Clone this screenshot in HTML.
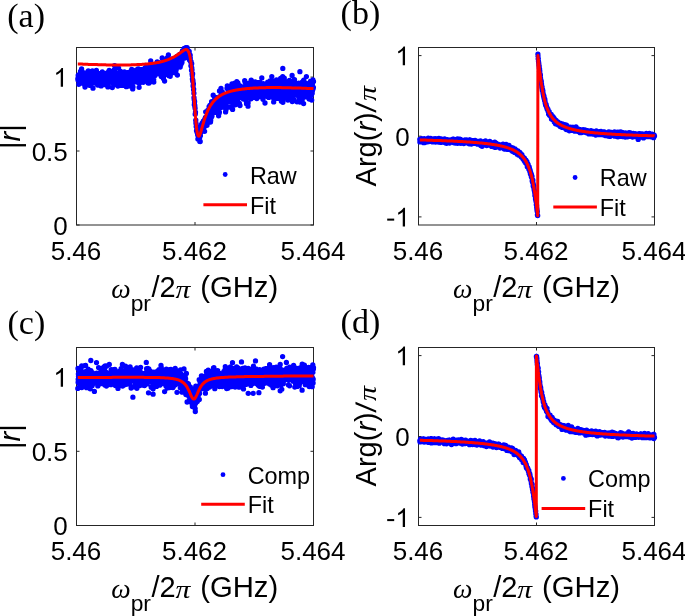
<!DOCTYPE html>
<html><head><meta charset="utf-8"><style>
html,body{margin:0;padding:0;background:#fff;}
svg{display:block;will-change:transform;font-family:"Liberation Sans",sans-serif;}
</style></head><body>
<svg width="685" height="616" viewBox="0 0 685 616">
<rect width="685" height="616" fill="#fff"/>
<rect x="76.5" y="47.5" width="237.0" height="177.5" fill="none" stroke="#262626" stroke-width="1"/>
<path d="M76.5 225.0v-3M76.5 47.5v3M195.0 225.0v-3M195.0 47.5v3M313.5 225.0v-3M313.5 47.5v3M76.5 225.0h3M313.5 225.0h-3M76.5 151.0h3M313.5 151.0h-3M76.5 77.1h3M313.5 77.1h-3" stroke="#262626" stroke-width="1" fill="none"/>
<path d="M77.8 78.9h0M78 80.1h0M78.1 77.8h0M78.2 75.4h0M78.4 77.1h0M78.5 75h0M78.7 79.2h0M78.8 84.3h0M79 77h0M79.1 76.5h0M79.3 80.9h0M79.4 80.4h0M79.6 79.4h0M79.7 75.2h0M79.9 78.8h0M80 81.8h0M80.2 73.6h0M80.3 77.1h0M80.5 71.3h0M80.6 73.8h0M80.7 71.6h0M80.9 78h0M81 73.9h0M81.2 80.1h0M81.3 79.6h0M81.5 78.2h0M81.6 68.9h0M81.8 76.8h0M81.9 78.8h0M82.1 79.5h0M82.2 72.8h0M82.4 77.1h0M82.5 75.1h0M82.7 75.8h0M82.8 83.3h0M83 75.8h0M83.1 78.9h0M83.3 82.6h0M83.4 76.7h0M83.5 78.6h0M83.7 79.5h0M83.8 79.3h0M84 74.1h0M84.1 79.3h0M84.3 84.5h0M84.4 72.8h0M84.6 82.5h0M84.7 79.5h0M84.9 76.5h0M85 87.1h0M85.2 82.1h0M85.3 74.2h0M85.5 79.3h0M85.6 81.4h0M85.8 78.3h0M85.9 81.8h0M86.1 78.8h0M86.2 81.7h0M86.3 84.9h0M86.5 76.3h0M86.6 79.9h0M86.8 77.2h0M86.9 79.6h0M87.1 74.3h0M87.2 76.7h0M87.4 78.3h0M87.5 82.7h0M87.7 83.7h0M87.8 73.7h0M88 75.9h0M88.1 81.7h0M88.3 71h0M88.4 77.2h0M88.6 78.7h0M88.7 84.2h0M88.9 81.9h0M89 77.8h0M89.1 77.6h0M89.3 78.1h0M89.4 85.3h0M89.6 77.4h0M89.7 77.9h0M89.9 80.5h0M90 78.6h0M90.2 78.3h0M90.3 74.6h0M90.5 79.1h0M90.6 77.3h0M90.8 83.8h0M90.9 81.8h0M91.1 79h0M91.2 81.8h0M91.4 77.7h0M91.5 83.4h0M91.7 79.1h0M91.8 81.5h0M91.9 73.9h0M92.1 80.5h0M92.2 72.3h0M92.4 70.9h0M92.5 77.9h0M92.7 75.5h0M92.8 79.8h0M93 88.2h0M93.1 75.8h0M93.3 76.6h0M93.4 80h0M93.6 81.1h0M93.7 78.4h0M93.9 78.3h0M94 82h0M94.2 81.2h0M94.3 74.9h0M94.4 78.8h0M94.6 79.3h0M94.7 74.9h0M94.9 80.2h0M95 75.7h0M95.2 83.1h0M95.3 79.9h0M95.5 79.5h0M95.6 76.7h0M95.8 78.7h0M95.9 71h0M96.1 74.6h0M96.2 80.6h0M96.4 70.5h0M96.5 82.6h0M96.7 72.1h0M96.8 82.2h0M97 75.7h0M97.1 82.3h0M97.2 79.7h0M97.4 72.9h0M97.5 84.2h0M97.7 85h0M97.8 78.9h0M98 78h0M98.1 78.5h0M98.3 75.2h0M98.4 83.6h0M98.6 77h0M98.7 79h0M98.9 75.9h0M99 76.6h0M99.2 74h0M99.3 84.3h0M99.5 78.5h0M99.6 83.1h0M99.8 79.2h0M99.9 76.3h0M100 77.8h0M100.2 76.9h0M100.3 79.2h0M100.5 77.6h0M100.6 77.9h0M100.8 73.5h0M100.9 75.9h0M101.1 85.9h0M101.2 76.4h0M101.4 74.9h0M101.5 80.5h0M101.7 84.9h0M101.8 73.2h0M102 78.3h0M102.1 76.6h0M102.3 72h0M102.4 82.2h0M102.6 79.1h0M102.7 79.5h0M102.8 76.1h0M103 81h0M103.1 77h0M103.3 78.6h0M103.4 74.6h0M103.6 74.2h0M103.7 84.6h0M103.9 77.1h0M104 80.4h0M104.2 79h0M104.3 77.4h0M104.5 77.1h0M104.6 81.7h0M104.8 77.9h0M104.9 78.6h0M105.1 79.3h0M105.2 84h0M105.4 82h0M105.5 80.7h0M105.6 76.9h0M105.8 73.5h0M105.9 83.1h0M106.1 83.1h0M106.2 78.6h0M106.4 81.4h0M106.5 82.4h0M106.7 82.6h0M106.8 82.9h0M107 77.3h0M107.1 85.4h0M107.3 74.1h0M107.4 82.7h0M107.6 81.2h0M107.7 82.7h0M107.9 86.9h0M108 85.2h0M108.1 74.5h0M108.3 72.2h0M108.4 82.5h0M108.6 75h0M108.7 79.1h0M108.9 82.6h0M109 72.4h0M109.2 70.5h0M109.3 80.2h0M109.5 79.3h0M109.6 78.1h0M109.8 79.3h0M109.9 75.6h0M110.1 72.9h0M110.2 78.5h0M110.4 75.1h0M110.5 72.4h0M110.7 81.2h0M110.8 78.9h0M110.9 80.8h0M111.1 75.1h0M111.2 76.4h0M111.4 75h0M111.5 75.5h0M111.7 79.9h0M111.8 75.9h0M112 80.6h0M112.1 80.5h0M112.3 87.5h0M112.4 73.4h0M112.6 82.8h0M112.7 78.7h0M112.9 79.1h0M113 73.1h0M113.2 77.2h0M113.3 82.2h0M113.5 78.8h0M113.6 79.4h0M113.7 77.9h0M113.9 83.9h0M114 79h0M114.2 70h0M114.3 76.2h0M114.5 71h0M114.6 65.7h0M114.8 76.9h0M114.9 84.6h0M115.1 79.3h0M115.2 74.2h0M115.4 75.2h0M115.5 83.7h0M115.7 79.7h0M115.8 79.3h0M116 78.8h0M116.1 79.2h0M116.3 82.4h0M116.4 81.3h0M116.5 80h0M116.7 74.8h0M116.8 81.2h0M117 76.2h0M117.1 83.6h0M117.3 73.8h0M117.4 78.5h0M117.6 79h0M117.7 73.6h0M117.9 86.1h0M118 85.1h0M118.2 77.1h0M118.3 82.2h0M118.5 80.6h0M118.6 68.2h0M118.8 80.1h0M118.9 78.8h0M119.1 79.4h0M119.2 74.6h0M119.3 77.9h0M119.5 78.3h0M119.6 83.9h0M119.8 80.4h0M119.9 79h0M120.1 85.3h0M120.2 76.7h0M120.4 77.3h0M120.5 71.4h0M120.7 85.4h0M120.8 82.9h0M121 82.7h0M121.1 81.6h0M121.3 79.3h0M121.4 79.7h0M121.6 77.8h0M121.7 78h0M121.8 79h0M122 85h0M122.1 81.1h0M122.3 78.5h0M122.4 76.3h0M122.6 76.1h0M122.7 85.4h0M122.9 80.8h0M123 79h0M123.2 77.2h0M123.3 74h0M123.5 78.4h0M123.6 82.2h0M123.8 77h0M123.9 77.6h0M124.1 77.6h0M124.2 79h0M124.4 71.9h0M124.5 77.5h0M124.6 75h0M124.8 82.2h0M124.9 75.3h0M125.1 80.8h0M125.2 84.8h0M125.4 77.1h0M125.5 75.9h0M125.7 79.2h0M125.8 78.4h0M126 74.2h0M126.1 80.3h0M126.3 86.7h0M126.4 77.2h0M126.6 77.4h0M126.7 73.9h0M126.9 79.6h0M127 73h0M127.2 73.6h0M127.3 83.5h0M127.4 74.4h0M127.6 82.7h0M127.7 84.5h0M127.9 79.2h0M128 80.4h0M128.2 86.2h0M128.3 77.3h0M128.5 75.6h0M128.6 72.4h0M128.8 78.2h0M128.9 84.2h0M129.1 82h0M129.2 74h0M129.4 74.4h0M129.5 75.8h0M129.7 79.1h0M129.8 77h0M130 78.8h0M130.1 79.1h0M130.2 76.6h0M130.4 77.7h0M130.5 78.7h0M130.7 77.4h0M130.8 79.9h0M131 85.6h0M131.1 80.2h0M131.3 77.9h0M131.4 70.7h0M131.6 79.3h0M131.7 69.5h0M131.9 71.8h0M132 81.2h0M132.2 80.6h0M132.3 77h0M132.5 70.4h0M132.6 76h0M132.8 74.7h0M132.9 80.2h0M133 86.9h0M133.2 78.4h0M133.3 74.2h0M133.5 72.5h0M133.6 77.2h0M133.8 76.7h0M133.9 72.6h0M134.1 77.8h0M134.2 72.5h0M134.4 82h0M134.5 81.7h0M134.7 81.8h0M134.8 75.3h0M135 79.4h0M135.1 76.7h0M135.3 75.6h0M135.4 75.7h0M135.5 71.7h0M135.7 71.1h0M135.8 80.4h0M136 76.3h0M136.1 78h0M136.3 81.2h0M136.4 69.8h0M136.6 73.7h0M136.7 77.7h0M136.9 78.6h0M137 75.4h0M137.2 81.2h0M137.3 77.8h0M137.5 71.8h0M137.6 72.9h0M137.8 80.2h0M137.9 78.8h0M138.1 68.8h0M138.2 82.4h0M138.3 79.2h0M138.5 82.4h0M138.6 75.1h0M138.8 75.4h0M138.9 71.9h0M139.1 87.3h0M139.2 75.9h0M139.4 83.2h0M139.5 73.8h0M139.7 77.2h0M139.8 69.5h0M140 74.9h0M140.1 80.6h0M140.3 71.2h0M140.4 80.9h0M140.6 77.8h0M140.7 71.9h0M140.9 74.2h0M141 74.3h0M141.1 76h0M141.3 73.9h0M141.4 72.7h0M141.6 74.9h0M141.7 71.7h0M141.9 70.6h0M142 75.8h0M142.2 79.8h0M142.3 69.4h0M142.5 76h0M142.6 73.1h0M142.8 71.7h0M142.9 79.5h0M143.1 73.6h0M143.2 82.3h0M143.4 72.4h0M143.5 77.4h0M143.7 74.7h0M143.8 72.4h0M143.9 78.2h0M144.1 74.9h0M144.2 78.2h0M144.4 75.3h0M144.5 70.7h0M144.7 75h0M144.8 75.7h0M145 79.6h0M145.1 71.4h0M145.3 75.2h0M145.4 67.7h0M145.6 78.1h0M145.7 70.4h0M145.9 67.2h0M146 74.9h0M146.2 80h0M146.3 68.3h0M146.5 70.2h0M146.6 71.7h0M146.7 69.9h0M146.9 76.6h0M147 71.3h0M147.2 71.6h0M147.3 77.5h0M147.5 71.4h0M147.6 76.7h0M147.8 70.3h0M147.9 69.2h0M148.1 66.3h0M148.2 83h0M148.4 73.1h0M148.5 75.6h0M148.7 74.4h0M148.8 75.2h0M149 74.7h0M149.1 83.1h0M149.2 69.6h0M149.4 67.2h0M149.5 69.6h0M149.7 68.1h0M149.8 77.6h0M150 77.9h0M150.1 69.7h0M150.3 67.7h0M150.4 72.4h0M150.6 80.4h0M150.7 60.9h0M150.9 76.4h0M151 68.9h0M151.2 78.7h0M151.3 68.8h0M151.5 72.4h0M151.6 66.7h0M151.8 69.1h0M151.9 80.1h0M152 77.4h0M152.2 71.7h0M152.3 69.4h0M152.5 64.6h0M152.6 71.6h0M152.8 73.2h0M152.9 72.9h0M153.1 72.9h0M153.2 68h0M153.4 72.9h0M153.5 73h0M153.7 79.3h0M153.8 82h0M154 72.4h0M154.1 69.3h0M154.3 72.6h0M154.4 70h0M154.6 69.3h0M154.7 72.5h0M154.8 67.8h0M155 75.6h0M155.1 72.2h0M155.3 73.8h0M155.4 71.7h0M155.6 69h0M155.7 67.9h0M155.9 71.3h0M156 69.8h0M156.2 73.5h0M156.3 72.3h0M156.5 65.7h0M156.6 72.5h0M156.8 65.6h0M156.9 69.1h0M157.1 70.6h0M157.2 61.9h0M157.4 72.4h0M157.5 72.7h0M157.6 71.1h0M157.8 69.8h0M157.9 69.9h0M158.1 66.9h0M158.2 70.4h0M158.4 68.9h0M158.5 72h0M158.7 65.6h0M158.8 72.6h0M159 72.1h0M159.1 70.7h0M159.3 69.1h0M159.4 74h0M159.6 62.9h0M159.7 73.5h0M159.9 72.3h0M160 72.5h0M160.1 72.9h0M160.3 67.7h0M160.4 69.6h0M160.6 74.1h0M160.7 73h0M160.9 71.8h0M161 63.2h0M161.2 73.4h0M161.3 76.4h0M161.5 75.6h0M161.6 71.7h0M161.8 62.8h0M161.9 75.1h0M162.1 69.7h0M162.2 57.9h0M162.4 72.2h0M162.5 62.9h0M162.7 63.9h0M162.8 67.1h0M162.9 76.4h0M163.1 68.3h0M163.2 71.3h0M163.4 78.5h0M163.5 77.7h0M163.7 69.4h0M163.8 68.6h0M164 63.6h0M164.1 66.3h0M164.3 71.7h0M164.4 71.5h0M164.6 70.1h0M164.7 74.3h0M164.9 65.7h0M165 69.1h0M165.2 72.9h0M165.3 72.1h0M165.5 74.4h0M165.6 71.1h0M165.7 67.6h0M165.9 70.8h0M166 64.2h0M166.2 61.1h0M166.3 71.6h0M166.5 68.5h0M166.6 70.2h0M166.8 60.6h0M166.9 66.9h0M167.1 65.7h0M167.2 64.4h0M167.4 57.7h0M167.5 66.8h0M167.7 72.6h0M167.8 70h0M168 65.3h0M168.1 68h0M168.3 71.6h0M168.4 54.9h0M168.5 67.3h0M168.7 70.4h0M168.8 71h0M169 75.7h0M169.1 73h0M169.3 69h0M169.4 68.9h0M169.6 71.1h0M169.7 64.8h0M169.9 67.1h0M170 71.4h0M170.2 76.3h0M170.3 66.3h0M170.5 66.8h0M170.6 67.8h0M170.8 73.1h0M170.9 66.6h0M171.1 73.5h0M171.2 62.1h0M171.3 65.7h0M171.5 65.5h0M171.6 70h0M171.8 71.1h0M171.9 59.3h0M172.1 61.9h0M172.2 67.6h0M172.4 63h0M172.5 59h0M172.7 70.5h0M172.8 67.9h0M173 67.8h0M173.1 63.5h0M173.3 70h0M173.4 64.3h0M173.6 70h0M173.7 61.3h0M173.8 61.5h0M174 65.9h0M174.1 62h0M174.3 67.7h0M174.4 65.8h0M174.6 60.8h0M174.7 64.9h0M174.9 63h0M175 68.1h0M175.2 61.7h0M175.3 62.4h0M175.5 68.9h0M175.6 72.9h0M175.8 71.8h0M175.9 64h0M176.1 64.5h0M176.2 69.4h0M176.4 62.9h0M176.5 59.5h0M176.6 63.5h0M176.8 64.6h0M176.9 59.6h0M177.1 56.5h0M177.2 57.1h0M177.4 64.7h0M177.5 59.3h0M177.7 61.4h0M177.8 62.5h0M178 63.8h0M178.1 60.2h0M178.3 63h0M178.4 58h0M178.6 59.7h0M178.7 57.3h0M178.9 64.4h0M179 60.3h0M179.2 57.8h0M179.3 58.9h0M179.4 59.2h0M179.6 62.1h0M179.7 54.4h0M179.9 56.1h0M180 58h0M180.2 67.1h0M180.3 61.9h0M180.5 58.4h0M180.6 60.8h0M180.8 64.7h0M180.9 57.5h0M181.1 56.9h0M181.2 61.5h0M181.4 59.2h0M181.5 59.5h0M181.7 55.9h0M181.8 62.8h0M182 62h0M182.1 58.5h0M182.2 58.6h0M182.4 50.9h0M182.5 58.1h0M182.7 55.7h0M182.8 57.2h0M183 57.7h0M183.1 54.8h0M183.3 51h0M183.4 56.2h0M183.6 53.1h0M183.7 53.9h0M183.9 53h0M184 53.5h0M184.2 48.3h0M184.3 56.9h0M184.5 54.3h0M184.6 56.2h0M184.8 58.1h0M184.9 53.2h0M185 48.7h0M185.2 50.7h0M185.3 49.8h0M185.5 51.3h0M185.6 52.5h0M185.8 47.7h0M185.9 52.8h0M186.1 48.6h0M186.2 52.4h0M186.4 51.4h0M186.5 50.9h0M186.7 51.3h0M186.8 50.2h0M187 50h0M187.1 47.6h0M187.3 51.3h0M187.4 55.5h0M187.5 55.9h0M187.7 54.5h0M187.8 53.3h0M188 50.3h0M188.1 55.2h0M188.3 52h0M188.4 52.2h0M188.6 52h0M188.7 53.1h0M188.9 52.2h0M189 53.3h0M189.2 51.4h0M189.3 53.4h0M189.5 59.9h0M189.6 55.1h0M189.8 55.2h0M189.9 57.5h0M190.1 58.6h0M190.2 55.2h0M190.3 58h0M190.5 61.5h0M190.6 60.9h0M190.8 61.5h0M190.9 65.8h0M191.1 61.7h0M191.2 64.6h0M191.4 64.4h0M191.5 70.3h0M191.7 63.6h0M191.8 68h0M192 69.8h0M192.1 74h0M192.3 75.5h0M192.4 78.9h0M192.6 73.7h0M192.7 80.9h0M192.9 80.2h0M193 81.2h0M193.1 85.9h0M193.3 84.4h0M193.4 83.7h0M193.6 89.7h0M193.7 89.1h0M193.9 93.2h0M194 97.7h0M194.2 99.6h0M194.3 104.7h0M194.5 102.6h0M194.6 101.5h0M194.8 105.4h0M194.9 107h0M195.1 108.3h0M195.2 114.2h0M195.4 113.5h0M195.5 112.1h0M195.7 120.3h0M195.8 120.1h0M195.9 122.9h0M196.1 123.8h0M196.2 126.6h0M196.4 126.5h0M196.5 130.7h0M196.7 129.9h0M196.8 131h0M197 132h0M197.1 128.4h0M197.3 132.4h0M197.4 132.8h0M197.6 134.6h0M197.7 131.3h0M197.9 139.1h0M198 135.8h0M198.2 132.8h0M198.3 131.8h0M198.5 135.5h0M198.6 136h0M198.7 134.5h0M198.9 136.4h0M199 134.5h0M199.2 137.3h0M199.3 134h0M199.5 135.4h0M199.6 137.7h0M199.8 141.4h0M199.9 132.1h0M200.1 133.1h0M200.2 131.8h0M200.4 135.7h0M200.5 130.2h0M200.7 131.6h0M200.8 132.4h0M201 129.4h0M201.1 129h0M201.2 129.9h0M201.4 124.7h0M201.5 126.1h0M201.7 128.7h0M201.8 130h0M202 128.5h0M202.1 123.1h0M202.3 126.7h0M202.4 130.4h0M202.6 129.2h0M202.7 126.6h0M202.9 123.5h0M203 128.2h0M203.2 123.6h0M203.3 121.1h0M203.5 121.9h0M203.6 129.6h0M203.8 124.8h0M203.9 127.8h0M204 121.4h0M204.2 126.3h0M204.3 120.1h0M204.5 121.4h0M204.6 131.3h0M204.8 124.3h0M204.9 118.9h0M205.1 120.2h0M205.2 121.5h0M205.4 124.7h0M205.5 117.4h0M205.7 111.8h0M205.8 117.5h0M206 118.4h0M206.1 118.5h0M206.3 123.3h0M206.4 118.7h0M206.6 120.5h0M206.7 111.9h0M206.8 120.2h0M207 125.3h0M207.1 119.2h0M207.3 116.6h0M207.4 115.8h0M207.6 123h0M207.7 110.3h0M207.9 113.8h0M208 116.2h0M208.2 117.2h0M208.3 111.4h0M208.5 114.7h0M208.6 111.6h0M208.8 113.3h0M208.9 111.8h0M209.1 106.7h0M209.2 111.9h0M209.4 116.1h0M209.5 106.8h0M209.6 110.1h0M209.8 114.5h0M209.9 105.5h0M210.1 111.6h0M210.2 105.1h0M210.4 116.1h0M210.5 122.1h0M210.7 120.5h0M210.8 108.6h0M211 113.4h0M211.1 110h0M211.3 109.7h0M211.4 117.3h0M211.6 101.7h0M211.7 114.4h0M211.9 108.2h0M212 116.1h0M212.2 109.2h0M212.3 104.3h0M212.4 109.4h0M212.6 111.7h0M212.7 107.7h0M212.9 110h0M213 104.3h0M213.2 95.2h0M213.3 111.9h0M213.5 110.6h0M213.6 107.4h0M213.8 106.8h0M213.9 112h0M214.1 103.6h0M214.2 102h0M214.4 104.8h0M214.5 112.4h0M214.7 97.8h0M214.8 112.1h0M214.9 101.7h0M215.1 99h0M215.2 112.2h0M215.4 104.4h0M215.5 97.5h0M215.7 102.7h0M215.8 109.9h0M216 111.2h0M216.1 102h0M216.3 106.6h0M216.4 108.2h0M216.6 100.4h0M216.7 106h0M216.9 103.7h0M217 100.7h0M217.2 100.8h0M217.3 103.9h0M217.5 103.6h0M217.6 100.1h0M217.7 100.8h0M217.9 109.6h0M218 104.3h0M218.2 108.1h0M218.3 109.8h0M218.5 106.2h0M218.6 115.8h0M218.8 97.9h0M218.9 107.2h0M219.1 100.7h0M219.2 113.1h0M219.4 112.2h0M219.5 91h0M219.7 96.6h0M219.8 106h0M220 106.6h0M220.1 106.3h0M220.3 101.5h0M220.4 104.5h0M220.5 105.6h0M220.7 101.3h0M220.8 107.6h0M221 88.4h0M221.1 105.2h0M221.3 95.4h0M221.4 107h0M221.6 100h0M221.7 96.1h0M221.9 103.4h0M222 95.8h0M222.2 95.7h0M222.3 91.8h0M222.5 100.8h0M222.6 103.9h0M222.8 107h0M222.9 100h0M223.1 107h0M223.2 100.9h0M223.3 100.1h0M223.5 104.1h0M223.6 106.9h0M223.8 98.5h0M223.9 99.1h0M224.1 99.5h0M224.2 100.9h0M224.4 95h0M224.5 106.5h0M224.7 97.9h0M224.8 103h0M225 95.3h0M225.1 102.3h0M225.3 102.4h0M225.4 97.4h0M225.6 111.9h0M225.7 102h0M225.9 110.2h0M226 105.3h0M226.1 95.6h0M226.3 97.1h0M226.4 101.9h0M226.6 99.6h0M226.7 99.4h0M226.9 97.4h0M227 88.3h0M227.2 97.5h0M227.3 85.8h0M227.5 100.9h0M227.6 94.4h0M227.8 94.4h0M227.9 97.2h0M228.1 99.9h0M228.2 90h0M228.4 88.1h0M228.5 92h0M228.6 86.3h0M228.8 92.4h0M228.9 107h0M229.1 91.7h0M229.2 101.4h0M229.4 89.8h0M229.5 99.3h0M229.7 95.7h0M229.8 97.1h0M230 100.6h0M230.1 107.2h0M230.3 98.3h0M230.4 97.8h0M230.6 91.5h0M230.7 100.2h0M230.9 95.5h0M231 101.5h0M231.2 96.5h0M231.3 106.4h0M231.4 85.5h0M231.6 94.9h0M231.7 101.3h0M231.9 94.4h0M232 91.9h0M232.2 94.8h0M232.3 88.6h0M232.5 96.7h0M232.6 109.4h0M232.8 102.2h0M232.9 89.8h0M233.1 91h0M233.2 93.5h0M233.4 101.1h0M233.5 91.2h0M233.7 91.8h0M233.8 100.3h0M234 100.1h0M234.1 93.3h0M234.2 89.3h0M234.4 86.9h0M234.5 91.4h0M234.7 83.2h0M234.8 99h0M235 91.6h0M235.1 97.5h0M235.3 104.8h0M235.4 101h0M235.6 88.6h0M235.7 99.2h0M235.9 100.7h0M236 90.6h0M236.2 89.5h0M236.3 93.8h0M236.5 86h0M236.6 102h0M236.8 81.7h0M236.9 88.4h0M237 92.7h0M237.2 92.9h0M237.3 94.9h0M237.5 95.3h0M237.6 92.8h0M237.8 99.7h0M237.9 82.8h0M238.1 93.7h0M238.2 90h0M238.4 94.3h0M238.5 94.7h0M238.7 88.8h0M238.8 90.2h0M239 97.4h0M239.1 95.1h0M239.3 89.8h0M239.4 103.5h0M239.6 104.8h0M239.7 85.7h0M239.8 94.5h0M240 105.5h0M240.1 96.9h0M240.3 94h0M240.4 91.8h0M240.6 90.1h0M240.7 91.7h0M240.9 90h0M241 96.5h0M241.2 90.7h0M241.3 90.5h0M241.5 86.7h0M241.6 92.4h0M241.8 88.1h0M241.9 91.7h0M242.1 97.7h0M242.2 94.3h0M242.3 95h0M242.5 94.2h0M242.6 92.7h0M242.8 91.7h0M242.9 90.8h0M243.1 96.1h0M243.2 86.9h0M243.4 98.9h0M243.5 92.4h0M243.7 88.5h0M243.8 89.7h0M244 88.8h0M244.1 92.9h0M244.3 88.5h0M244.4 97.7h0M244.6 88.2h0M244.7 80.7h0M244.9 88.3h0M245 82h0M245.1 91.7h0M245.3 97.1h0M245.4 95.1h0M245.6 85.2h0M245.7 88h0M245.9 100.6h0M246 93.3h0M246.2 91.7h0M246.3 96.9h0M246.5 103.8h0M246.6 98h0M246.8 92.3h0M246.9 93.3h0M247.1 94.6h0M247.2 88.5h0M247.4 86.3h0M247.5 91.8h0M247.7 86.8h0M247.8 91.1h0M247.9 91.9h0M248.1 102.9h0M248.2 87.2h0M248.4 90.8h0M248.5 90.5h0M248.7 93.5h0M248.8 96.4h0M249 88.8h0M249.1 87.2h0M249.3 83.2h0M249.4 86.6h0M249.6 93.8h0M249.7 91.4h0M249.9 86.1h0M250 89.3h0M250.2 91.2h0M250.3 93.5h0M250.5 88.1h0M250.6 89.8h0M250.7 82.1h0M250.9 85.3h0M251 98.8h0M251.2 80.2h0M251.3 89.2h0M251.5 91.9h0M251.6 89h0M251.8 86.9h0M251.9 90.5h0M252.1 90.8h0M252.2 90.4h0M252.4 81.6h0M252.5 90h0M252.7 86.5h0M252.8 88h0M253 91.8h0M253.1 93.8h0M253.3 95h0M253.4 88.2h0M253.5 95.1h0M253.7 96.3h0M253.8 96.1h0M254 97.3h0M254.1 89.8h0M254.3 89.6h0M254.4 94.5h0M254.6 83.8h0M254.7 91.4h0M254.9 87.8h0M255 88.6h0M255.2 81.9h0M255.3 86h0M255.5 90.2h0M255.6 94.6h0M255.8 95.1h0M255.9 89.9h0M256 89.3h0M256.2 86.2h0M256.3 92.2h0M256.5 89h0M256.6 93.1h0M256.8 98.6h0M256.9 90h0M257.1 82.9h0M257.2 86h0M257.4 83.1h0M257.5 84.3h0M257.7 96.4h0M257.8 91.1h0M258 82.7h0M258.1 93.2h0M258.3 96.1h0M258.4 88.2h0M258.6 86.7h0M258.7 88.3h0M258.8 91.3h0M259 93h0M259.1 95.6h0M259.3 95.7h0M259.4 95.6h0M259.6 96.4h0M259.7 93h0M259.9 82.5h0M260 89.2h0M260.2 91.3h0M260.3 87.9h0M260.5 94.1h0M260.6 88h0M260.8 85.3h0M260.9 96.7h0M261.1 92.9h0M261.2 90.8h0M261.4 94.1h0M261.5 94.8h0M261.6 91.3h0M261.8 77.9h0M261.9 86.4h0M262.1 87.4h0M262.2 84.9h0M262.4 90.6h0M262.5 95.3h0M262.7 87.3h0M262.8 84.1h0M263 99.3h0M263.1 87.4h0M263.3 83.6h0M263.4 90.7h0M263.6 91.6h0M263.7 86.1h0M263.9 93.3h0M264 87.1h0M264.2 85h0M264.3 90.3h0M264.4 93.2h0M264.6 86.4h0M264.7 91h0M264.9 89h0M265 103h0M265.2 86h0M265.3 96h0M265.5 89.1h0M265.6 88.8h0M265.8 92.8h0M265.9 93.6h0M266.1 95.4h0M266.2 90.9h0M266.4 86.4h0M266.5 86.7h0M266.7 91.8h0M266.8 92.1h0M266.9 96h0M267.1 91.3h0M267.2 94.4h0M267.4 96.5h0M267.5 90h0M267.7 82.1h0M267.8 83.6h0M268 82.3h0M268.1 96.9h0M268.3 85.1h0M268.4 95.1h0M268.6 92h0M268.7 97.4h0M268.9 94h0M269 88.7h0M269.2 88.2h0M269.3 89.6h0M269.5 90h0M269.6 86.6h0M269.7 89h0M269.9 96.8h0M270 80.9h0M270.2 90.3h0M270.3 84.7h0M270.5 90h0M270.6 93.1h0M270.8 88.8h0M270.9 92.8h0M271.1 81.4h0M271.2 94.3h0M271.4 86.1h0M271.5 92h0M271.7 89.9h0M271.8 76.6h0M272 85.4h0M272.1 90h0M272.3 96.4h0M272.4 90.4h0M272.5 90.2h0M272.7 82.2h0M272.8 95.8h0M273 97.6h0M273.1 89.1h0M273.3 87.9h0M273.4 81.2h0M273.6 93.2h0M273.7 101.9h0M273.9 92.3h0M274 95h0M274.2 91.5h0M274.3 84.2h0M274.5 95.3h0M274.6 82.9h0M274.8 87.8h0M274.9 90.2h0M275.1 93.1h0M275.2 90.8h0M275.3 90.7h0M275.5 85.2h0M275.6 82.6h0M275.8 89.1h0M275.9 85.4h0M276.1 82.5h0M276.2 82.7h0M276.4 86.4h0M276.5 79.9h0M276.7 82.3h0M276.8 80.9h0M277 89.6h0M277.1 90.7h0M277.3 98.4h0M277.4 81.6h0M277.6 85.5h0M277.7 93.1h0M277.9 87.7h0M278 87.1h0M278.1 96.9h0M278.3 87.1h0M278.4 83.1h0M278.6 82.4h0M278.7 90.3h0M278.9 90.1h0M279 82.1h0M279.2 83.9h0M279.3 91.2h0M279.5 91.4h0M279.6 85.6h0M279.8 91.6h0M279.9 91.4h0M280.1 80.1h0M280.2 87.1h0M280.4 90.6h0M280.5 85.9h0M280.6 78.4h0M280.8 87.3h0M280.9 92.3h0M281.1 96.2h0M281.2 78.1h0M281.4 101.2h0M281.5 83.2h0M281.7 93.2h0M281.8 94.6h0M282 93.4h0M282.1 89.4h0M282.3 83.1h0M282.4 91.7h0M282.6 85.2h0M282.7 76.6h0M282.9 102.3h0M283 92.1h0M283.2 97.4h0M283.3 84.3h0M283.4 95.7h0M283.6 96.3h0M283.7 96.1h0M283.9 88.6h0M284 82.9h0M284.2 87.8h0M284.3 78.1h0M284.5 80.5h0M284.6 89.1h0M284.8 83.9h0M284.9 87.9h0M285.1 88.2h0M285.2 98h0M285.4 94.9h0M285.5 88.5h0M285.7 94.5h0M285.8 85h0M286 87.1h0M286.1 93.1h0M286.2 82.8h0M286.4 87.4h0M286.5 82.4h0M286.7 89.3h0M286.8 96.6h0M287 85.1h0M287.1 89.8h0M287.3 84.4h0M287.4 83.2h0M287.6 82.8h0M287.7 95.7h0M287.9 100.1h0M288 91.1h0M288.2 85.3h0M288.3 92.2h0M288.5 87.2h0M288.6 92.6h0M288.8 90.2h0M288.9 90.1h0M289 91.7h0M289.2 86h0M289.3 86.9h0M289.5 80.5h0M289.6 86.7h0M289.8 82h0M289.9 88.1h0M290.1 84.2h0M290.2 89.3h0M290.4 91h0M290.5 82h0M290.7 84.9h0M290.8 84.3h0M291 92.4h0M291.1 97h0M291.3 92.9h0M291.4 87.2h0M291.6 95.9h0M291.7 81.6h0M291.8 96.1h0M292 85.7h0M292.1 75.5h0M292.3 101.6h0M292.4 96.5h0M292.6 83.9h0M292.7 89.7h0M292.9 87.9h0M293 89.4h0M293.2 81.8h0M293.3 85.6h0M293.5 91.2h0M293.6 90h0M293.8 94.7h0M293.9 89.3h0M294.1 100.2h0M294.2 85.5h0M294.3 90.2h0M294.5 79.7h0M294.6 82.9h0M294.8 95.3h0M294.9 84.4h0M295.1 91.5h0M295.2 88.7h0M295.4 84h0M295.5 87.3h0M295.7 86.5h0M295.8 86.6h0M296 92.6h0M296.1 92.1h0M296.3 86.2h0M296.4 84.6h0M296.6 90.4h0M296.7 88.5h0M296.9 93.9h0M297 101.8h0M297.1 93.1h0M297.3 88.9h0M297.4 88.2h0M297.6 84.9h0M297.7 84.7h0M297.9 84.2h0M298 87.1h0M298.2 87h0M298.3 92.6h0M298.5 87.1h0M298.6 88.1h0M298.8 83.2h0M298.9 97h0M299.1 91.5h0M299.2 97.7h0M299.4 92.9h0M299.5 96.2h0M299.7 87.9h0M299.8 92.5h0M299.9 102.1h0M300.1 83.2h0M300.2 94.8h0M300.4 97.3h0M300.5 91.2h0M300.7 92.8h0M300.8 95.3h0M301 85.9h0M301.1 91.2h0M301.3 84.9h0M301.4 85.8h0M301.6 86.1h0M301.7 88.5h0M301.9 89.9h0M302 91.4h0M302.2 82.2h0M302.3 98.9h0M302.5 94.9h0M302.6 92.8h0M302.7 87.4h0M302.9 88.8h0M303 91.9h0M303.2 91.2h0M303.3 81h0M303.5 92.9h0M303.6 103.6h0M303.8 80.2h0M303.9 94.1h0M304.1 91.1h0M304.2 88.7h0M304.4 96h0M304.5 83.4h0M304.7 90.1h0M304.8 96.5h0M305 88.3h0M305.1 87.2h0M305.3 89.9h0M305.4 87.1h0M305.5 96.9h0M305.7 84.8h0M305.8 93.6h0M306 83.2h0M306.1 92.6h0M306.3 88.8h0M306.4 76.6h0M306.6 89.3h0M306.7 84.1h0M306.9 87.2h0M307 97h0M307.2 83.9h0M307.3 84.1h0M307.5 96.5h0M307.6 90h0M307.8 97h0M307.9 91h0M308 85.1h0M308.2 89.1h0M308.3 95.5h0M308.5 94.1h0M308.6 89.4h0M308.8 89.7h0M308.9 88.9h0M309.1 86.6h0M309.2 99h0M309.4 89.5h0M309.5 83.9h0M309.7 87.1h0M309.8 93.1h0M310 92.7h0M310.1 88.8h0M310.3 86.2h0M310.4 89.6h0M310.6 81.2h0M310.7 83.1h0M310.8 93.5h0M311 87.2h0M311.1 91.4h0M311.3 95.6h0M311.4 92.8h0M311.6 89.7h0M311.7 100.1h0M311.9 92.9h0M312 87.8h0M312.2 93.2h0M312.3 91.6h0M312.5 85.4h0M312.6 90h0M312.8 88.8h0M312.9 79.9h0M313.1 88.8h0M313.2 88.2h0M313.4 87.5h0M313.5 81.5h0M282.8 68.4h0M299.9 71.7h0M248 106.2h0M302.1 100.5h0M232 84h0M132.7 88.9h0M164.6 81.1h0M177.4 75.1h0M200.2 141.5h0" stroke="#00f" stroke-width="5.3" stroke-linecap="round" fill="none"/>
<path d="M77.8 64L78 64 78.1 64 78.2 64 78.4 64 78.5 64 78.7 64 78.8 64 79 64 79.1 64 79.3 64 79.4 64 79.6 64 79.7 64 79.9 64 80 64.1 80.2 64.1 80.3 64.1 80.5 64.1 80.6 64.1 80.7 64.1 80.9 64.1 81 64.1 81.2 64.1 81.3 64.1 81.5 64.1 81.6 64.1 81.8 64.1 81.9 64.1 82.1 64.1 82.2 64.1 82.4 64.1 82.5 64.1 82.7 64.2 82.8 64.2 83 64.2 83.1 64.2 83.3 64.2 83.4 64.2 83.5 64.2 83.7 64.2 83.8 64.2 84 64.2 84.1 64.2 84.3 64.2 84.4 64.2 84.6 64.2 84.7 64.2 84.9 64.2 85 64.2 85.2 64.2 85.3 64.3 85.5 64.3 85.6 64.3 85.8 64.3 85.9 64.3 86.1 64.3 86.2 64.3 86.3 64.3 86.5 64.3 86.6 64.3 86.8 64.3 86.9 64.3 87.1 64.3 87.2 64.3 87.4 64.3 87.5 64.3 87.7 64.3 87.8 64.3 88 64.3 88.1 64.4 88.3 64.4 88.4 64.4 88.6 64.4 88.7 64.4 88.9 64.4 89 64.4 89.1 64.4 89.3 64.4 89.4 64.4 89.6 64.4 89.7 64.4 89.9 64.4 90 64.4 90.2 64.4 90.3 64.4 90.5 64.4 90.6 64.4 90.8 64.4 90.9 64.4 91.1 64.5 91.2 64.5 91.4 64.5 91.5 64.5 91.7 64.5 91.8 64.5 91.9 64.5 92.1 64.5 92.2 64.5 92.4 64.5 92.5 64.5 92.7 64.5 92.8 64.5 93 64.5 93.1 64.5 93.3 64.5 93.4 64.5 93.6 64.5 93.7 64.5 93.9 64.5 94 64.5 94.2 64.6 94.3 64.6 94.4 64.6 94.6 64.6 94.7 64.6 94.9 64.6 95 64.6 95.2 64.6 95.3 64.6 95.5 64.6 95.6 64.6 95.8 64.6 95.9 64.6 96.1 64.6 96.2 64.6 96.4 64.6 96.5 64.6 96.7 64.6 96.8 64.6 97 64.6 97.1 64.6 97.2 64.6 97.4 64.6 97.5 64.6 97.7 64.7 97.8 64.7 98 64.7 98.1 64.7 98.3 64.7 98.4 64.7 98.6 64.7 98.7 64.7 98.9 64.7 99 64.7 99.2 64.7 99.3 64.7 99.5 64.7 99.6 64.7 99.8 64.7 99.9 64.7 100 64.7 100.2 64.7 100.3 64.7 100.5 64.7 100.6 64.7 100.8 64.7 100.9 64.7 101.1 64.7 101.2 64.7 101.4 64.7 101.5 64.8 101.7 64.8 101.8 64.8 102 64.8 102.1 64.8 102.3 64.8 102.4 64.8 102.6 64.8 102.7 64.8 102.8 64.8 103 64.8 103.1 64.8 103.3 64.8 103.4 64.8 103.6 64.8 103.7 64.8 103.9 64.8 104 64.8 104.2 64.8 104.3 64.8 104.5 64.8 104.6 64.8 104.8 64.8 104.9 64.8 105.1 64.8 105.2 64.8 105.4 64.8 105.5 64.8 105.6 64.8 105.8 64.8 105.9 64.8 106.1 64.9 106.2 64.9 106.4 64.9 106.5 64.9 106.7 64.9 106.8 64.9 107 64.9 107.1 64.9 107.3 64.9 107.4 64.9 107.6 64.9 107.7 64.9 107.9 64.9 108 64.9 108.1 64.9 108.3 64.9 108.4 64.9 108.6 64.9 108.7 64.9 108.9 64.9 109 64.9 109.2 64.9 109.3 64.9 109.5 64.9 109.6 64.9 109.8 64.9 109.9 64.9 110.1 64.9 110.2 64.9 110.4 64.9 110.5 64.9 110.7 64.9 110.8 64.9 110.9 64.9 111.1 64.9 111.2 64.9 111.4 64.9 111.5 64.9 111.7 64.9 111.8 64.9 112 64.9 112.1 64.9 112.3 64.9 112.4 64.9 112.6 64.9 112.7 65 112.9 65 113 65 113.2 65 113.3 65 113.5 65 113.6 65 113.7 65 113.9 65 114 65 114.2 65 114.3 65 114.5 65 114.6 65 114.8 65 114.9 65 115.1 65 115.2 65 115.4 65 115.5 65 115.7 65 115.8 65 116 65 116.1 65 116.3 65 116.4 65 116.5 65 116.7 65 116.8 65 117 65 117.1 65 117.3 65 117.4 65 117.6 65 117.7 65 117.9 65 118 65 118.2 65 118.3 65 118.5 65 118.6 65 118.8 65 118.9 65 119.1 65 119.2 65 119.3 65 119.5 65 119.6 65 119.8 65 119.9 65 120.1 65 120.2 65 120.4 65 120.5 65 120.7 65 120.8 65 121 65 121.1 65 121.3 65 121.4 65 121.6 65 121.7 65 121.8 65 122 65 122.1 65 122.3 65 122.4 65 122.6 65 122.7 65 122.9 65 123 65 123.2 65 123.3 65 123.5 65 123.6 65 123.8 65 123.9 65 124.1 65 124.2 65 124.4 65 124.5 65 124.6 65 124.8 65 124.9 65 125.1 65 125.2 65 125.4 65 125.5 65 125.7 65 125.8 65 126 64.9 126.1 64.9 126.3 64.9 126.4 64.9 126.6 64.9 126.7 64.9 126.9 64.9 127 64.9 127.2 64.9 127.3 64.9 127.4 64.9 127.6 64.9 127.7 64.9 127.9 64.9 128 64.9 128.2 64.9 128.3 64.9 128.5 64.9 128.6 64.9 128.8 64.9 128.9 64.9 129.1 64.9 129.2 64.9 129.4 64.9 129.5 64.9 129.7 64.9 129.8 64.9 130 64.9 130.1 64.9 130.2 64.9 130.4 64.9 130.5 64.9 130.7 64.9 130.8 64.9 131 64.9 131.1 64.8 131.3 64.8 131.4 64.8 131.6 64.8 131.7 64.8 131.9 64.8 132 64.8 132.2 64.8 132.3 64.8 132.5 64.8 132.6 64.8 132.8 64.8 132.9 64.8 133 64.8 133.2 64.8 133.3 64.8 133.5 64.8 133.6 64.8 133.8 64.8 133.9 64.8 134.1 64.8 134.2 64.8 134.4 64.7 134.5 64.7 134.7 64.7 134.8 64.7 135 64.7 135.1 64.7 135.3 64.7 135.4 64.7 135.5 64.7 135.7 64.7 135.8 64.7 136 64.7 136.1 64.7 136.3 64.7 136.4 64.7 136.6 64.7 136.7 64.7 136.9 64.6 137 64.6 137.2 64.6 137.3 64.6 137.5 64.6 137.6 64.6 137.8 64.6 137.9 64.6 138.1 64.6 138.2 64.6 138.3 64.6 138.5 64.6 138.6 64.6 138.8 64.6 138.9 64.5 139.1 64.5 139.2 64.5 139.4 64.5 139.5 64.5 139.7 64.5 139.8 64.5 140 64.5 140.1 64.5 140.3 64.5 140.4 64.5 140.6 64.5 140.7 64.4 140.9 64.4 141 64.4 141.1 64.4 141.3 64.4 141.4 64.4 141.6 64.4 141.7 64.4 141.9 64.4 142 64.4 142.2 64.3 142.3 64.3 142.5 64.3 142.6 64.3 142.8 64.3 142.9 64.3 143.1 64.3 143.2 64.3 143.4 64.3 143.5 64.3 143.7 64.2 143.8 64.2 143.9 64.2 144.1 64.2 144.2 64.2 144.4 64.2 144.5 64.2 144.7 64.2 144.8 64.2 145 64.1 145.1 64.1 145.3 64.1 145.4 64.1 145.6 64.1 145.7 64.1 145.9 64.1 146 64.1 146.2 64 146.3 64 146.5 64 146.6 64 146.7 64 146.9 64 147 64 147.2 63.9 147.3 63.9 147.5 63.9 147.6 63.9 147.8 63.9 147.9 63.9 148.1 63.9 148.2 63.8 148.4 63.8 148.5 63.8 148.7 63.8 148.8 63.8 149 63.8 149.1 63.8 149.2 63.7 149.4 63.7 149.5 63.7 149.7 63.7 149.8 63.7 150 63.7 150.1 63.6 150.3 63.6 150.4 63.6 150.6 63.6 150.7 63.6 150.9 63.6 151 63.5 151.2 63.5 151.3 63.5 151.5 63.5 151.6 63.5 151.8 63.4 151.9 63.4 152 63.4 152.2 63.4 152.3 63.4 152.5 63.3 152.6 63.3 152.8 63.3 152.9 63.3 153.1 63.3 153.2 63.2 153.4 63.2 153.5 63.2 153.7 63.2 153.8 63.2 154 63.1 154.1 63.1 154.3 63.1 154.4 63.1 154.6 63.1 154.7 63 154.8 63 155 63 155.1 63 155.3 62.9 155.4 62.9 155.6 62.9 155.7 62.9 155.9 62.8 156 62.8 156.2 62.8 156.3 62.8 156.5 62.7 156.6 62.7 156.8 62.7 156.9 62.7 157.1 62.6 157.2 62.6 157.4 62.6 157.5 62.6 157.6 62.5 157.8 62.5 157.9 62.5 158.1 62.4 158.2 62.4 158.4 62.4 158.5 62.4 158.7 62.3 158.8 62.3 159 62.3 159.1 62.2 159.3 62.2 159.4 62.2 159.6 62.2 159.7 62.1 159.9 62.1 160 62.1 160.1 62 160.3 62 160.4 62 160.6 61.9 160.7 61.9 160.9 61.8 161 61.8 161.2 61.8 161.3 61.7 161.5 61.7 161.6 61.7 161.8 61.6 161.9 61.6 162.1 61.5 162.2 61.5 162.4 61.5 162.5 61.4 162.7 61.4 162.8 61.3 162.9 61.3 163.1 61.3 163.2 61.2 163.4 61.2 163.5 61.1 163.7 61.1 163.8 61.1 164 61 164.1 61 164.3 60.9 164.4 60.9 164.6 60.8 164.7 60.8 164.9 60.7 165 60.7 165.2 60.6 165.3 60.6 165.5 60.5 165.6 60.5 165.7 60.5 165.9 60.4 166 60.4 166.2 60.3 166.3 60.3 166.5 60.2 166.6 60.2 166.8 60.1 166.9 60 167.1 60 167.2 59.9 167.4 59.9 167.5 59.8 167.7 59.8 167.8 59.7 168 59.7 168.1 59.6 168.3 59.6 168.4 59.5 168.5 59.4 168.7 59.4 168.8 59.3 169 59.3 169.1 59.2 169.3 59.1 169.4 59.1 169.6 59 169.7 59 169.9 58.9 170 58.8 170.2 58.8 170.3 58.7 170.5 58.6 170.6 58.6 170.8 58.5 170.9 58.4 171.1 58.4 171.2 58.3 171.3 58.2 171.5 58.2 171.6 58.1 171.8 58 171.9 58 172.1 57.9 172.2 57.8 172.4 57.7 172.5 57.7 172.7 57.6 172.8 57.5 173 57.4 173.1 57.4 173.3 57.3 173.4 57.2 173.6 57.1 173.7 57.1 173.8 57 174 56.9 174.1 56.8 174.3 56.7 174.4 56.6 174.6 56.6 174.7 56.5 174.9 56.4 175 56.3 175.2 56.2 175.3 56.1 175.5 56 175.6 56 175.8 55.9 175.9 55.8 176.1 55.7 176.2 55.6 176.4 55.5 176.5 55.4 176.6 55.3 176.8 55.2 176.9 55.1 177.1 55 177.2 54.9 177.4 54.8 177.5 54.7 177.7 54.6 177.8 54.5 178 54.4 178.1 54.3 178.3 54.2 178.4 54.1 178.6 54 178.7 53.9 178.9 53.8 179 53.7 179.2 53.6 179.3 53.5 179.4 53.4 179.6 53.3 179.7 53.2 179.9 53.1 180 53 180.2 52.9 180.3 52.8 180.5 52.7 180.6 52.6 180.8 52.4 180.9 52.3 181.1 52.2 181.2 52.1 181.4 52 181.5 51.9 181.7 51.8 181.8 51.7 182 51.6 182.1 51.5 182.2 51.4 182.4 51.3 182.5 51.2 182.7 51.1 182.8 51 183 50.9 183.1 50.8 183.3 50.7 183.4 50.6 183.6 50.5 183.7 50.4 183.9 50.3 184 50.2 184.2 50.1 184.3 50.1 184.5 50 184.6 49.9 184.8 49.9 184.9 49.8 185 49.8 185.2 49.7 185.3 49.7 185.5 49.6 185.6 49.6 185.8 49.6 185.9 49.6 186.1 49.6 186.2 49.6 186.4 49.6 186.5 49.6 186.7 49.7 186.8 49.7 187 49.8 187.1 49.9 187.3 50 187.4 50.1 187.5 50.3 187.7 50.4 187.8 50.6 188 50.8 188.1 51 188.3 51.3 188.4 51.6 188.6 51.9 188.7 52.2 188.9 52.6 189 53 189.2 53.5 189.3 54 189.5 54.5 189.6 55 189.8 55.6 189.9 56.3 190.1 57 190.2 57.7 190.3 58.5 190.5 59.3 190.6 60.2 190.8 61.2 190.9 62.2 191.1 63.3 191.2 64.4 191.4 65.6 191.5 66.8 191.7 68.2 191.8 69.5 192 71 192.1 72.5 192.3 74.1 192.4 75.7 192.6 77.4 192.7 79.1 192.9 80.9 193 82.8 193.1 84.7 193.3 86.6 193.4 88.6 193.6 90.6 193.7 92.6 193.9 94.7 194 96.8 194.2 98.9 194.3 101 194.5 103.1 194.6 105.1 194.8 107.2 194.9 109.2 195.1 111.2 195.2 113.1 195.4 115 195.5 116.9 195.7 118.7 195.8 120.4 195.9 122 196.1 123.6 196.2 125 196.4 126.4 196.5 127.7 196.7 128.9 196.8 130 197 131 197.1 131.9 197.3 132.8 197.4 133.5 197.6 134.1 197.7 134.7 197.9 135.1 198 135.5 198.2 135.8 198.3 136 198.5 136.2 198.6 136.2 198.7 136.3 198.9 136.2 199 136.1 199.2 136 199.3 135.8 199.5 135.5 199.6 135.2 199.8 134.9 199.9 134.6 200.1 134.2 200.2 133.8 200.4 133.4 200.5 132.9 200.7 132.5 200.8 132 201 131.5 201.1 131 201.2 130.5 201.4 130 201.5 129.5 201.7 129 201.8 128.4 202 127.9 202.1 127.4 202.3 126.8 202.4 126.3 202.6 125.8 202.7 125.3 202.9 124.7 203 124.2 203.2 123.7 203.3 123.2 203.5 122.7 203.6 122.2 203.8 121.7 203.9 121.2 204 120.7 204.2 120.3 204.3 119.8 204.5 119.3 204.6 118.9 204.8 118.4 204.9 118 205.1 117.5 205.2 117.1 205.4 116.7 205.5 116.3 205.7 115.9 205.8 115.5 206 115.1 206.1 114.7 206.3 114.3 206.4 113.9 206.6 113.5 206.7 113.2 206.8 112.8 207 112.5 207.1 112.1 207.3 111.8 207.4 111.4 207.6 111.1 207.7 110.8 207.9 110.5 208 110.1 208.2 109.8 208.3 109.5 208.5 109.2 208.6 108.9 208.8 108.7 208.9 108.4 209.1 108.1 209.2 107.8 209.4 107.5 209.5 107.3 209.6 107 209.8 106.8 209.9 106.5 210.1 106.2 210.2 106 210.4 105.8 210.5 105.5 210.7 105.3 210.8 105.1 211 104.8 211.1 104.6 211.3 104.4 211.4 104.2 211.6 104 211.7 103.8 211.9 103.5 212 103.3 212.2 103.1 212.3 102.9 212.4 102.8 212.6 102.6 212.7 102.4 212.9 102.2 213 102 213.2 101.8 213.3 101.7 213.5 101.5 213.6 101.3 213.8 101.1 213.9 101 214.1 100.8 214.2 100.6 214.4 100.5 214.5 100.3 214.7 100.2 214.8 100 214.9 99.9 215.1 99.7 215.2 99.6 215.4 99.4 215.5 99.3 215.7 99.2 215.8 99 216 98.9 216.1 98.7 216.3 98.6 216.4 98.5 216.6 98.4 216.7 98.2 216.9 98.1 217 98 217.2 97.9 217.3 97.7 217.5 97.6 217.6 97.5 217.7 97.4 217.9 97.3 218 97.2 218.2 97.1 218.3 96.9 218.5 96.8 218.6 96.7 218.8 96.6 218.9 96.5 219.1 96.4 219.2 96.3 219.4 96.2 219.5 96.1 219.7 96 219.8 95.9 220 95.8 220.1 95.7 220.3 95.6 220.4 95.6 220.5 95.5 220.7 95.4 220.8 95.3 221 95.2 221.1 95.1 221.3 95 221.4 94.9 221.6 94.9 221.7 94.8 221.9 94.7 222 94.6 222.2 94.5 222.3 94.5 222.5 94.4 222.6 94.3 222.8 94.2 222.9 94.2 223.1 94.1 223.2 94 223.3 94 223.5 93.9 223.6 93.8 223.8 93.7 223.9 93.7 224.1 93.6 224.2 93.5 224.4 93.5 224.5 93.4 224.7 93.4 224.8 93.3 225 93.2 225.1 93.2 225.3 93.1 225.4 93 225.6 93 225.7 92.9 225.9 92.9 226 92.8 226.1 92.8 226.3 92.7 226.4 92.6 226.6 92.6 226.7 92.5 226.9 92.5 227 92.4 227.2 92.4 227.3 92.3 227.5 92.3 227.6 92.2 227.8 92.2 227.9 92.1 228.1 92.1 228.2 92 228.4 92 228.5 91.9 228.6 91.9 228.8 91.8 228.9 91.8 229.1 91.7 229.2 91.7 229.4 91.7 229.5 91.6 229.7 91.6 229.8 91.5 230 91.5 230.1 91.4 230.3 91.4 230.4 91.4 230.6 91.3 230.7 91.3 230.9 91.2 231 91.2 231.2 91.2 231.3 91.1 231.4 91.1 231.6 91.1 231.7 91 231.9 91 232 90.9 232.2 90.9 232.3 90.9 232.5 90.8 232.6 90.8 232.8 90.8 232.9 90.7 233.1 90.7 233.2 90.7 233.4 90.6 233.5 90.6 233.7 90.6 233.8 90.5 234 90.5 234.1 90.5 234.2 90.4 234.4 90.4 234.5 90.4 234.7 90.4 234.8 90.3 235 90.3 235.1 90.3 235.3 90.2 235.4 90.2 235.6 90.2 235.7 90.2 235.9 90.1 236 90.1 236.2 90.1 236.3 90 236.5 90 236.6 90 236.8 90 236.9 89.9 237 89.9 237.2 89.9 237.3 89.9 237.5 89.8 237.6 89.8 237.8 89.8 237.9 89.8 238.1 89.8 238.2 89.7 238.4 89.7 238.5 89.7 238.7 89.7 238.8 89.6 239 89.6 239.1 89.6 239.3 89.6 239.4 89.6 239.6 89.5 239.7 89.5 239.8 89.5 240 89.5 240.1 89.5 240.3 89.4 240.4 89.4 240.6 89.4 240.7 89.4 240.9 89.3 241 89.3 241.2 89.3 241.3 89.3 241.5 89.3 241.6 89.2 241.8 89.2 241.9 89.2 242.1 89.2 242.2 89.2 242.3 89.1 242.5 89.1 242.6 89.1 242.8 89.1 242.9 89.1 243.1 89 243.2 89 243.4 89 243.5 89 243.7 89 243.8 89 244 88.9 244.1 88.9 244.3 88.9 244.4 88.9 244.6 88.9 244.7 88.8 244.9 88.8 245 88.8 245.1 88.8 245.3 88.8 245.4 88.8 245.6 88.8 245.7 88.7 245.9 88.7 246 88.7 246.2 88.7 246.3 88.7 246.5 88.7 246.6 88.6 246.8 88.6 246.9 88.6 247.1 88.6 247.2 88.6 247.4 88.6 247.5 88.6 247.7 88.5 247.8 88.5 247.9 88.5 248.1 88.5 248.2 88.5 248.4 88.5 248.5 88.5 248.7 88.5 248.8 88.4 249 88.4 249.1 88.4 249.3 88.4 249.4 88.4 249.6 88.4 249.7 88.4 249.9 88.4 250 88.3 250.2 88.3 250.3 88.3 250.5 88.3 250.6 88.3 250.7 88.3 250.9 88.3 251 88.3 251.2 88.3 251.3 88.2 251.5 88.2 251.6 88.2 251.8 88.2 251.9 88.2 252.1 88.2 252.2 88.2 252.4 88.2 252.5 88.2 252.7 88.2 252.8 88.1 253 88.1 253.1 88.1 253.3 88.1 253.4 88.1 253.5 88.1 253.7 88.1 253.8 88.1 254 88.1 254.1 88.1 254.3 88.1 254.4 88 254.6 88 254.7 88 254.9 88 255 88 255.2 88 255.3 88 255.5 88 255.6 88 255.8 88 255.9 88 256 88 256.2 88 256.3 87.9 256.5 87.9 256.6 87.9 256.8 87.9 256.9 87.9 257.1 87.9 257.2 87.9 257.4 87.9 257.5 87.9 257.7 87.9 257.8 87.9 258 87.9 258.1 87.9 258.3 87.9 258.4 87.9 258.6 87.9 258.7 87.8 258.8 87.8 259 87.8 259.1 87.8 259.3 87.8 259.4 87.8 259.6 87.8 259.7 87.8 259.9 87.8 260 87.8 260.2 87.8 260.3 87.8 260.5 87.8 260.6 87.8 260.8 87.8 260.9 87.8 261.1 87.8 261.2 87.8 261.4 87.8 261.5 87.8 261.6 87.7 261.8 87.7 261.9 87.7 262.1 87.7 262.2 87.7 262.4 87.7 262.5 87.7 262.7 87.7 262.8 87.7 263 87.7 263.1 87.7 263.3 87.7 263.4 87.7 263.6 87.7 263.7 87.7 263.9 87.7 264 87.7 264.2 87.7 264.3 87.7 264.4 87.7 264.6 87.7 264.7 87.7 264.9 87.7 265 87.7 265.2 87.7 265.3 87.7 265.5 87.7 265.6 87.7 265.8 87.7 265.9 87.7 266.1 87.6 266.2 87.6 266.4 87.6 266.5 87.6 266.7 87.6 266.8 87.6 266.9 87.6 267.1 87.6 267.2 87.6 267.4 87.6 267.5 87.6 267.7 87.6 267.8 87.6 268 87.6 268.1 87.6 268.3 87.6 268.4 87.6 268.6 87.6 268.7 87.6 268.9 87.6 269 87.6 269.2 87.6 269.3 87.6 269.5 87.6 269.6 87.6 269.7 87.6 269.9 87.6 270 87.6 270.2 87.6 270.3 87.6 270.5 87.6 270.6 87.6 270.8 87.6 270.9 87.6 271.1 87.6 271.2 87.6 271.4 87.6 271.5 87.6 271.7 87.6 271.8 87.6 272 87.6 272.1 87.6 272.3 87.6 272.4 87.6 272.5 87.6 272.7 87.6 272.8 87.6 273 87.6 273.1 87.6 273.3 87.6 273.4 87.6 273.6 87.6 273.7 87.6 273.9 87.6 274 87.6 274.2 87.6 274.3 87.6 274.5 87.6 274.6 87.6 274.8 87.6 274.9 87.6 275.1 87.6 275.2 87.6 275.3 87.6 275.5 87.6 275.6 87.6 275.8 87.6 275.9 87.6 276.1 87.6 276.2 87.6 276.4 87.6 276.5 87.6 276.7 87.6 276.8 87.6 277 87.6 277.1 87.6 277.3 87.6 277.4 87.6 277.6 87.6 277.7 87.6 277.9 87.6 278 87.6 278.1 87.6 278.3 87.6 278.4 87.6 278.6 87.6 278.7 87.6 278.9 87.6 279 87.6 279.2 87.6 279.3 87.6 279.5 87.6 279.6 87.6 279.8 87.6 279.9 87.6 280.1 87.6 280.2 87.6 280.4 87.6 280.5 87.6 280.6 87.6 280.8 87.6 280.9 87.6 281.1 87.6 281.2 87.6 281.4 87.7 281.5 87.7 281.7 87.7 281.8 87.7 282 87.7 282.1 87.7 282.3 87.7 282.4 87.7 282.6 87.7 282.7 87.7 282.9 87.7 283 87.7 283.2 87.7 283.3 87.7 283.4 87.7 283.6 87.7 283.7 87.7 283.9 87.7 284 87.7 284.2 87.7 284.3 87.7 284.5 87.7 284.6 87.7 284.8 87.7 284.9 87.7 285.1 87.7 285.2 87.7 285.4 87.7 285.5 87.7 285.7 87.7 285.8 87.7 286 87.7 286.1 87.7 286.2 87.7 286.4 87.7 286.5 87.7 286.7 87.7 286.8 87.7 287 87.7 287.1 87.8 287.3 87.8 287.4 87.8 287.6 87.8 287.7 87.8 287.9 87.8 288 87.8 288.2 87.8 288.3 87.8 288.5 87.8 288.6 87.8 288.8 87.8 288.9 87.8 289 87.8 289.2 87.8 289.3 87.8 289.5 87.8 289.6 87.8 289.8 87.8 289.9 87.8 290.1 87.8 290.2 87.8 290.4 87.8 290.5 87.8 290.7 87.8 290.8 87.8 291 87.8 291.1 87.8 291.3 87.8 291.4 87.9 291.6 87.9 291.7 87.9 291.8 87.9 292 87.9 292.1 87.9 292.3 87.9 292.4 87.9 292.6 87.9 292.7 87.9 292.9 87.9 293 87.9 293.2 87.9 293.3 87.9 293.5 87.9 293.6 87.9 293.8 87.9 293.9 87.9 294.1 87.9 294.2 87.9 294.3 87.9 294.5 87.9 294.6 87.9 294.8 87.9 294.9 88 295.1 88 295.2 88 295.4 88 295.5 88 295.7 88 295.8 88 296 88 296.1 88 296.3 88 296.4 88 296.6 88 296.7 88 296.9 88 297 88 297.1 88 297.3 88 297.4 88 297.6 88 297.7 88 297.9 88 298 88 298.2 88.1 298.3 88.1 298.5 88.1 298.6 88.1 298.8 88.1 298.9 88.1 299.1 88.1 299.2 88.1 299.4 88.1 299.5 88.1 299.7 88.1 299.8 88.1 299.9 88.1 300.1 88.1 300.2 88.1 300.4 88.1 300.5 88.1 300.7 88.1 300.8 88.1 301 88.1 301.1 88.1 301.3 88.2 301.4 88.2 301.6 88.2 301.7 88.2 301.9 88.2 302 88.2 302.2 88.2 302.3 88.2 302.5 88.2 302.6 88.2 302.7 88.2 302.9 88.2 303 88.2 303.2 88.2 303.3 88.2 303.5 88.2 303.6 88.2 303.8 88.2 303.9 88.2 304.1 88.3 304.2 88.3 304.4 88.3 304.5 88.3 304.7 88.3 304.8 88.3 305 88.3 305.1 88.3 305.3 88.3 305.4 88.3 305.5 88.3 305.7 88.3 305.8 88.3 306 88.3 306.1 88.3 306.3 88.3 306.4 88.3 306.6 88.3 306.7 88.4 306.9 88.4 307 88.4 307.2 88.4 307.3 88.4 307.5 88.4 307.6 88.4 307.8 88.4 307.9 88.4 308 88.4 308.2 88.4 308.3 88.4 308.5 88.4 308.6 88.4 308.8 88.4 308.9 88.4 309.1 88.4 309.2 88.5 309.4 88.5 309.5 88.5 309.7 88.5 309.8 88.5 310 88.5 310.1 88.5 310.3 88.5 310.4 88.5 310.6 88.5 310.7 88.5 310.8 88.5 311 88.5 311.1 88.5 311.3 88.5 311.4 88.5 311.6 88.6 311.7 88.6 311.9 88.6 312 88.6 312.2 88.6 312.3 88.6 312.5 88.6 312.6 88.6 312.8 88.6 312.9 88.6 313.1 88.6 313.2 88.6 313.4 88.6 313.5 88.6" stroke="#f00" stroke-width="3" stroke-linejoin="round" fill="none"/>
<g font-size="26"><text x="67.8" y="234.6" text-anchor="end">0</text><text x="67.8" y="160.6" text-anchor="end">0.5</text><path transform="translate(53.34 86.68) scale(0.01270 -0.01270)" d="M763 0L583 0L583 1147Q518 1085 412.5 1023Q307 961 223 930L223 1104Q374 1175 487 1276Q600 1377 647 1472L763 1472Z"/><text x="76.0" y="259.9" text-anchor="middle">5.46</text><text x="194.5" y="259.9" text-anchor="middle">5.462</text><text x="313.0" y="259.9" text-anchor="middle">5.464</text></g>
<rect x="418.5" y="47.5" width="236.0" height="177.5" fill="none" stroke="#262626" stroke-width="1"/>
<path d="M418.5 225.0v-3M418.5 47.5v3M536.5 225.0v-3M536.5 47.5v3M654.5 225.0v-3M654.5 47.5v3M418.5 216.9h3M654.5 216.9h-3M418.5 136.2h3M654.5 136.2h-3M418.5 55.6h3M654.5 55.6h-3" stroke="#262626" stroke-width="1" fill="none"/>
<path d="M419.8 139.5h0M419.9 141.9h0M420.1 139.7h0M420.2 139.8h0M420.4 139.7h0M420.5 139.3h0M420.7 140.4h0M420.8 140h0M421 141.7h0M421.1 140.6h0M421.3 140.5h0M421.4 139.8h0M421.6 138.6h0M421.7 139.9h0M421.9 139.2h0M422 141h0M422.1 140h0M422.3 141.7h0M422.4 140.8h0M422.6 140.9h0M422.7 140.3h0M422.9 140.3h0M423 140.7h0M423.2 141h0M423.3 139.4h0M423.5 140.6h0M423.6 142.7h0M423.8 140h0M423.9 139.8h0M424.1 139.4h0M424.2 138.6h0M424.3 141.3h0M424.5 140.2h0M424.6 140.4h0M424.8 141.9h0M424.9 142.6h0M425.1 139.2h0M425.2 141.2h0M425.4 140.7h0M425.5 140.5h0M425.7 140.6h0M425.8 140.1h0M426 141.7h0M426.1 140.8h0M426.3 140.5h0M426.4 141.4h0M426.5 141.1h0M426.7 140.6h0M426.8 140.5h0M427 141.9h0M427.1 140.7h0M427.3 140.1h0M427.4 139.3h0M427.6 139.8h0M427.7 139.1h0M427.9 140.3h0M428 140.5h0M428.2 138.2h0M428.3 140.2h0M428.5 140.9h0M428.6 140.4h0M428.7 139.3h0M428.9 141.5h0M429 139.5h0M429.2 139h0M429.3 139.2h0M429.5 140.2h0M429.6 141.2h0M429.8 141.4h0M429.9 140.5h0M430.1 139.1h0M430.2 139.6h0M430.4 139.4h0M430.5 140.1h0M430.7 138.5h0M430.8 140.4h0M430.9 140.9h0M431.1 140.1h0M431.2 140.8h0M431.4 139.4h0M431.5 138.9h0M431.7 139.7h0M431.8 141.5h0M432 141.4h0M432.1 139.9h0M432.3 141.5h0M432.4 140h0M432.6 141.9h0M432.7 140.8h0M432.9 139.9h0M433 141.1h0M433.1 139.6h0M433.3 139.4h0M433.4 138.9h0M433.6 140.6h0M433.7 140.3h0M433.9 140.3h0M434 140h0M434.2 141.8h0M434.3 140h0M434.5 139.7h0M434.6 141.7h0M434.8 141.8h0M434.9 140.8h0M435.1 138.7h0M435.2 139.8h0M435.3 141h0M435.5 140.5h0M435.6 142h0M435.8 139.1h0M435.9 141.1h0M436.1 139.8h0M436.2 141.8h0M436.4 140.4h0M436.5 141.5h0M436.7 139.8h0M436.8 139.1h0M437 139.4h0M437.1 139.9h0M437.3 139.5h0M437.4 141.7h0M437.5 141.8h0M437.7 140.8h0M437.8 139.5h0M438 140.4h0M438.1 139.8h0M438.3 142h0M438.4 140.9h0M438.6 141h0M438.7 140.1h0M438.9 138.5h0M439 139.8h0M439.2 139.4h0M439.3 140.9h0M439.5 140.7h0M439.6 139.8h0M439.7 140.2h0M439.9 142.2h0M440 139.6h0M440.2 139.7h0M440.3 140.4h0M440.5 139.9h0M440.6 140.2h0M440.8 141.2h0M440.9 142.4h0M441.1 138.9h0M441.2 140.6h0M441.4 140.7h0M441.5 140.6h0M441.7 140.5h0M441.8 140.3h0M441.9 141.7h0M442.1 140.2h0M442.2 140.5h0M442.4 140.7h0M442.5 140.8h0M442.7 140.5h0M442.8 141.7h0M443 140.7h0M443.1 140.9h0M443.3 140.7h0M443.4 139.7h0M443.6 139.9h0M443.7 139.7h0M443.9 140.9h0M444 140h0M444.1 139.7h0M444.3 141h0M444.4 141.3h0M444.6 139h0M444.7 142.5h0M444.9 140.8h0M445 140.7h0M445.2 141.9h0M445.3 140.9h0M445.5 140.2h0M445.6 143h0M445.8 139.7h0M445.9 140.7h0M446.1 141.7h0M446.2 139.8h0M446.3 140.7h0M446.5 141.2h0M446.6 143.3h0M446.8 140h0M446.9 140.8h0M447.1 141.5h0M447.2 141h0M447.4 139.7h0M447.5 141.3h0M447.7 141h0M447.8 141.3h0M448 142h0M448.1 141.9h0M448.3 141.3h0M448.4 141.2h0M448.5 139.8h0M448.7 140.8h0M448.8 141.2h0M449 140.5h0M449.1 141.1h0M449.3 140.1h0M449.4 142.5h0M449.6 143.1h0M449.7 140.6h0M449.9 141.4h0M450 140.8h0M450.2 142.3h0M450.3 141.4h0M450.5 141.1h0M450.6 140.8h0M450.7 141.2h0M450.9 140h0M451 141.7h0M451.2 140.3h0M451.3 141.6h0M451.5 141.2h0M451.6 142.2h0M451.8 141.1h0M451.9 142.1h0M452.1 140.2h0M452.2 141.7h0M452.4 140.9h0M452.5 141.3h0M452.7 141.2h0M452.8 142.1h0M452.9 139.1h0M453.1 141.5h0M453.2 139.6h0M453.4 142.4h0M453.5 139.2h0M453.7 140.2h0M453.8 139.5h0M454 142.8h0M454.1 139.9h0M454.3 141.3h0M454.4 140.7h0M454.6 139.4h0M454.7 140.9h0M454.9 141.9h0M455 141h0M455.1 142.2h0M455.3 140.9h0M455.4 141.3h0M455.6 140.9h0M455.7 141.6h0M455.9 143.2h0M456 141.6h0M456.2 141.5h0M456.3 140.7h0M456.5 140.5h0M456.6 142.8h0M456.8 140.2h0M456.9 140.4h0M457.1 141.2h0M457.2 140.9h0M457.4 143.3h0M457.5 139h0M457.6 141.7h0M457.8 142.1h0M457.9 140.3h0M458.1 140.7h0M458.2 141.8h0M458.4 143h0M458.5 140.5h0M458.7 139.8h0M458.8 142.4h0M459 143h0M459.1 141.1h0M459.3 139.2h0M459.4 142.9h0M459.6 141.3h0M459.7 142.6h0M459.8 141.4h0M460 141.1h0M460.1 141h0M460.3 143h0M460.4 142.9h0M460.6 139.4h0M460.7 140.6h0M460.9 143.3h0M461 141.2h0M461.2 140.2h0M461.3 141.6h0M461.5 141.5h0M461.6 141.5h0M461.8 141.1h0M461.9 141.3h0M462 141.1h0M462.2 141.9h0M462.3 140.8h0M462.5 141.3h0M462.6 141.5h0M462.8 142.9h0M462.9 142h0M463.1 141.5h0M463.2 142.2h0M463.4 142.1h0M463.5 142.8h0M463.7 142.2h0M463.8 143.5h0M464 143.1h0M464.1 141.7h0M464.2 141.3h0M464.4 142.6h0M464.5 142.3h0M464.7 141.7h0M464.8 140.3h0M465 139.9h0M465.1 142.1h0M465.3 142.6h0M465.4 142.6h0M465.6 140.5h0M465.7 142.9h0M465.9 141.3h0M466 142.2h0M466.2 142.3h0M466.3 141.1h0M466.4 141.3h0M466.6 139.8h0M466.7 141h0M466.9 140.1h0M467 142.3h0M467.2 142h0M467.3 142.8h0M467.5 142.3h0M467.6 141.3h0M467.8 142.3h0M467.9 141.6h0M468.1 142.6h0M468.2 142.3h0M468.4 141h0M468.5 142h0M468.6 142.1h0M468.8 141.7h0M468.9 142.9h0M469.1 143.8h0M469.2 141.7h0M469.4 141.7h0M469.5 139.8h0M469.7 142h0M469.8 141.7h0M470 139.9h0M470.1 142.4h0M470.3 142.7h0M470.4 141.4h0M470.6 141.8h0M470.7 141.2h0M470.8 142.9h0M471 140.7h0M471.1 141.9h0M471.3 144.1h0M471.4 142.3h0M471.6 142.7h0M471.7 142.1h0M471.9 141.1h0M472 142.2h0M472.2 142.7h0M472.3 141.3h0M472.5 142.6h0M472.6 143.5h0M472.8 143.4h0M472.9 140.7h0M473 141.4h0M473.2 140.7h0M473.3 143.4h0M473.5 143h0M473.6 143.1h0M473.8 141.5h0M473.9 141.2h0M474.1 142.5h0M474.2 142.5h0M474.4 141.6h0M474.5 142.6h0M474.7 143.1h0M474.8 142.7h0M475 141.4h0M475.1 140.4h0M475.2 142.2h0M475.4 142.7h0M475.5 142.3h0M475.7 142.1h0M475.8 141.9h0M476 143.3h0M476.1 142.5h0M476.3 142.7h0M476.4 141.6h0M476.6 142h0M476.7 142.8h0M476.9 141.6h0M477 141.4h0M477.2 142.3h0M477.3 143.9h0M477.4 142.9h0M477.6 144.2h0M477.7 142.6h0M477.9 142.4h0M478 141.3h0M478.2 142.2h0M478.3 144.2h0M478.5 143.1h0M478.6 143.5h0M478.8 143.5h0M478.9 142.8h0M479.1 142.6h0M479.2 143h0M479.4 143.5h0M479.5 143.3h0M479.6 143.4h0M479.8 143.1h0M479.9 142.1h0M480.1 142.7h0M480.2 142h0M480.4 144h0M480.5 140.9h0M480.7 142.8h0M480.8 145.4h0M481 142.7h0M481.1 141.9h0M481.3 143h0M481.4 144.3h0M481.6 142.9h0M481.7 143.7h0M481.8 143.2h0M482 142.7h0M482.1 146.3h0M482.3 143.2h0M482.4 142.6h0M482.6 142.7h0M482.7 143.6h0M482.9 143.6h0M483 144h0M483.2 143.4h0M483.3 141.8h0M483.5 143.8h0M483.6 143h0M483.8 143h0M483.9 141.8h0M484 142.8h0M484.2 142.6h0M484.3 143.3h0M484.5 141.9h0M484.6 143.4h0M484.8 143.5h0M484.9 142.3h0M485.1 142.8h0M485.2 142.6h0M485.4 144.4h0M485.5 141h0M485.7 143.2h0M485.8 141.9h0M486 143.1h0M486.1 144.4h0M486.2 143h0M486.4 143.7h0M486.5 142.8h0M486.7 145.6h0M486.8 144.6h0M487 144.8h0M487.1 142.4h0M487.3 142.6h0M487.4 144.8h0M487.6 143.5h0M487.7 143.5h0M487.9 144.1h0M488 142.5h0M488.2 144.6h0M488.3 143.9h0M488.4 144.3h0M488.6 143.2h0M488.7 144.4h0M488.9 143.2h0M489 144.9h0M489.2 145.1h0M489.3 144.9h0M489.5 144.5h0M489.6 144.6h0M489.8 141.3h0M489.9 144.9h0M490.1 143.8h0M490.2 144.2h0M490.4 143.8h0M490.5 142.7h0M490.6 143.6h0M490.8 144.8h0M490.9 145.6h0M491.1 143.6h0M491.2 143.3h0M491.4 145.7h0M491.5 143.4h0M491.7 146.4h0M491.8 144.4h0M492 143.5h0M492.1 145.3h0M492.3 146.1h0M492.4 143h0M492.6 146h0M492.7 144.2h0M492.8 146h0M493 144.1h0M493.1 142.9h0M493.3 145h0M493.4 145.5h0M493.6 146.7h0M493.7 146.3h0M493.9 145.3h0M494 144.4h0M494.2 144.2h0M494.3 144.4h0M494.5 143.9h0M494.6 144.5h0M494.8 142.2h0M494.9 145h0M495 144.8h0M495.2 147.4h0M495.3 145.6h0M495.5 144.4h0M495.6 145.5h0M495.8 143.7h0M495.9 144.4h0M496.1 143.1h0M496.2 146.5h0M496.4 145.6h0M496.5 143.9h0M496.7 145h0M496.8 146.1h0M497 145.6h0M497.1 145.6h0M497.2 144.3h0M497.4 144.6h0M497.5 145.4h0M497.7 146.2h0M497.8 144.5h0M498 144.2h0M498.1 146.5h0M498.3 144.5h0M498.4 146.5h0M498.6 145.7h0M498.7 146.4h0M498.9 147.3h0M499 146.2h0M499.2 146.4h0M499.3 144.7h0M499.4 144.9h0M499.6 146.3h0M499.7 147.2h0M499.9 147.1h0M500 148.1h0M500.2 146.1h0M500.3 146h0M500.5 146.9h0M500.6 145.9h0M500.8 145.9h0M500.9 144.9h0M501.1 147h0M501.2 144.9h0M501.4 146.6h0M501.5 144.7h0M501.7 147.2h0M501.8 145.1h0M501.9 147h0M502.1 144.6h0M502.2 145.8h0M502.4 147.5h0M502.5 145.5h0M502.7 146.4h0M502.8 145.9h0M503 144.1h0M503.1 146.8h0M503.3 146.9h0M503.4 145.4h0M503.6 147.2h0M503.7 145.8h0M503.9 145.7h0M504 146.7h0M504.1 146.1h0M504.3 149.1h0M504.4 145.3h0M504.6 147.6h0M504.7 147.9h0M504.9 145h0M505 145.2h0M505.2 147.6h0M505.3 146.6h0M505.5 147.5h0M505.6 148.3h0M505.8 146.8h0M505.9 146.2h0M506.1 144.5h0M506.2 147.5h0M506.3 146.4h0M506.5 147.7h0M506.6 147.7h0M506.8 146.1h0M506.9 149.3h0M507.1 148.7h0M507.2 148.5h0M507.4 146.5h0M507.5 147.3h0M507.7 147.2h0M507.8 147.4h0M508 146.7h0M508.1 148.3h0M508.3 148.2h0M508.4 148.4h0M508.5 147.6h0M508.7 149.4h0M508.8 148.4h0M509 145.5h0M509.1 147.6h0M509.3 148.3h0M509.4 149.3h0M509.6 148.1h0M509.7 148.2h0M509.9 147.9h0M510 149.3h0M510.2 148.2h0M510.3 148.1h0M510.5 148h0M510.6 149.4h0M510.7 148.3h0M510.9 147.3h0M511 149.6h0M511.2 148.4h0M511.3 149.5h0M511.5 149.6h0M511.6 150.4h0M511.8 150.4h0M511.9 148.8h0M512.1 149.3h0M512.2 148.2h0M512.4 151.2h0M512.5 150.1h0M512.7 151.1h0M512.8 149.4h0M512.9 147.8h0M513.1 151.4h0M513.2 150.1h0M513.4 150.2h0M513.5 150.2h0M513.7 150.8h0M513.8 150.8h0M514 148.7h0M514.1 151.5h0M514.3 150h0M514.4 150.1h0M514.6 152.4h0M514.7 151.6h0M514.9 150.5h0M515 149h0M515.1 151.1h0M515.3 151.6h0M515.4 151h0M515.6 150h0M515.7 150.5h0M515.9 150.1h0M516 151.7h0M516.2 152.4h0M516.3 152.7h0M516.5 151h0M516.6 152.1h0M516.8 152.5h0M516.9 151.5h0M517.1 152h0M517.2 154.3h0M517.3 152.5h0M517.5 153.3h0M517.6 152.1h0M517.8 152.6h0M517.9 151h0M518.1 152.8h0M518.2 154.1h0M518.4 155.1h0M518.5 154.3h0M518.7 153.9h0M518.8 153.4h0M519 152.9h0M519.1 153.4h0M519.3 154.3h0M519.4 153h0M519.5 154.9h0M519.7 153.1h0M519.8 152.4h0M520 153.3h0M520.1 152.8h0M520.3 153.2h0M520.4 155.8h0M520.6 154.6h0M520.7 155.2h0M520.9 156.3h0M521 156.5h0M521.2 154.9h0M521.3 156.9h0M521.5 156.1h0M521.6 155.8h0M521.7 156.4h0M521.9 154.7h0M522 155.5h0M522.2 156.3h0M522.3 157.2h0M522.5 156.4h0M522.6 156.8h0M522.8 158.1h0M522.9 158.7h0M523.1 158.2h0M523.2 158.9h0M523.4 157.4h0M523.5 157.7h0M523.7 158.5h0M523.8 158.1h0M523.9 158h0M524.1 160.4h0M524.2 158.7h0M524.4 158.2h0M524.5 159.8h0M524.7 161.4h0M524.8 159.9h0M525 161.2h0M525.1 159.8h0M525.3 160h0M525.4 160h0M525.6 160.8h0M525.7 163h0M525.9 160.2h0M526 163.3h0M526.1 160.9h0M526.3 161.9h0M526.4 163.3h0M526.6 163.3h0M526.7 163.3h0M526.9 161.6h0M527 163.9h0M527.2 162.8h0M527.3 166.7h0M527.5 164.2h0M527.6 164.9h0M527.8 163.9h0M527.9 164.9h0M528.1 164.4h0M528.2 167.1h0M528.3 166.2h0M528.5 167.3h0M528.6 166.5h0M528.8 167h0M528.9 169.2h0M529.1 167.3h0M529.2 166.9h0M529.4 169.5h0M529.5 168.3h0M529.7 169.5h0M529.8 171.3h0M530 170h0M530.1 172.1h0M530.3 171h0M530.4 173.7h0M530.5 174h0M530.7 172.7h0M530.8 173.5h0M531 173.4h0M531.1 174.9h0M531.3 176.4h0M531.4 174.4h0M531.6 177.3h0M531.7 175.7h0M531.9 176.8h0M532 176.4h0M532.2 181h0M532.3 179.6h0M532.5 180.4h0M532.6 180.2h0M532.7 182.6h0M532.9 180.2h0M533 183h0M533.2 186h0M533.3 184.1h0M533.5 185.3h0M533.6 186.8h0M533.8 186.1h0M533.9 187.8h0M534.1 189.6h0M534.2 189.7h0M534.4 190.7h0M534.5 190.9h0M534.7 192.5h0M534.8 193.2h0M534.9 195.6h0M535.1 195.8h0M535.2 195.9h0M535.4 194.7h0M535.5 198.9h0M535.7 200h0M535.8 199.4h0M536 199.4h0M536.1 201.4h0M536.3 204.6h0M536.4 203.8h0M536.6 205.5h0M536.7 207.4h0M536.9 209.6h0M537 209.5h0M537.1 210.7h0M537.3 211.4h0M537.4 214.8h0M537.6 215.5h0M537.7 215.6h0M537.9 54.2h0M538 56h0M538.2 58.7h0M538.3 58.6h0M538.5 61.5h0M538.6 62.2h0M538.8 63.4h0M538.9 65h0M539.1 66.1h0M539.2 65.9h0M539.3 67.7h0M539.5 71.6h0M539.6 69.2h0M539.8 71.1h0M539.9 73.8h0M540.1 73.8h0M540.2 74.2h0M540.4 74.9h0M540.5 77.8h0M540.7 79.4h0M540.8 80.8h0M541 80.5h0M541.1 82.5h0M541.3 81.5h0M541.4 83.7h0M541.5 83.8h0M541.7 85.6h0M541.8 87.1h0M542 88.3h0M542.1 87.1h0M542.3 90.3h0M542.4 89.4h0M542.6 89.6h0M542.7 91.3h0M542.9 90.8h0M543 93h0M543.2 94h0M543.3 94.3h0M543.5 95.7h0M543.6 95.6h0M543.7 96.6h0M543.9 95.8h0M544 97.9h0M544.2 97.7h0M544.3 98.7h0M544.5 99.6h0M544.6 100.5h0M544.8 99.2h0M544.9 99.9h0M545.1 101.7h0M545.2 103h0M545.4 103.4h0M545.5 104.4h0M545.7 105.3h0M545.8 105h0M546 104.9h0M546.1 104.4h0M546.2 104.9h0M546.4 105.8h0M546.5 107h0M546.7 107.3h0M546.8 107.5h0M547 107.7h0M547.1 108.9h0M547.3 108.9h0M547.4 109.3h0M547.6 109.7h0M547.7 109.2h0M547.9 109.1h0M548 110.9h0M548.2 111.2h0M548.3 110.9h0M548.4 111h0M548.6 114h0M548.7 111.3h0M548.9 112.1h0M549 112.9h0M549.2 111.7h0M549.3 113.3h0M549.5 115.2h0M549.6 114.6h0M549.8 114.6h0M549.9 114.8h0M550.1 114.6h0M550.2 115.7h0M550.4 114.8h0M550.5 114.8h0M550.6 115.5h0M550.8 116.6h0M550.9 116.2h0M551.1 116.8h0M551.2 114.3h0M551.4 117.7h0M551.5 119.1h0M551.7 118.3h0M551.8 116.8h0M552 116.5h0M552.1 117.8h0M552.3 116.7h0M552.4 118.6h0M552.6 117.6h0M552.7 119.2h0M552.8 119.8h0M553 116.6h0M553.1 119.1h0M553.3 118.3h0M553.4 117.7h0M553.6 118.7h0M553.7 119.2h0M553.9 120.6h0M554 118.2h0M554.2 121h0M554.3 122.1h0M554.5 120.8h0M554.6 120.9h0M554.8 120.5h0M554.9 119.5h0M555 121.3h0M555.2 121.3h0M555.3 121.8h0M555.5 123.8h0M555.6 122.1h0M555.8 121.9h0M555.9 123.1h0M556.1 120.4h0M556.2 120.7h0M556.4 121.6h0M556.5 121.4h0M556.7 122.9h0M556.8 122h0M557 124.2h0M557.1 124.1h0M557.2 123.4h0M557.4 122.4h0M557.5 123.5h0M557.7 123.8h0M557.8 122h0M558 123.5h0M558.1 124h0M558.3 123.6h0M558.4 125.1h0M558.6 124.8h0M558.7 122.9h0M558.9 123.9h0M559 123h0M559.2 124.6h0M559.3 123.2h0M559.4 125.1h0M559.6 124.6h0M559.7 125.3h0M559.9 124.3h0M560 123.1h0M560.2 126.4h0M560.3 124.5h0M560.5 126.1h0M560.6 125.3h0M560.8 125.6h0M560.9 126.8h0M561.1 125.4h0M561.2 126.6h0M561.4 123.8h0M561.5 126.2h0M561.6 125.2h0M561.8 125.3h0M561.9 125.6h0M562.1 126h0M562.2 127.4h0M562.4 123.9h0M562.5 125.9h0M562.7 125.2h0M562.8 127.1h0M563 125.6h0M563.1 126.6h0M563.3 125.8h0M563.4 126.9h0M563.6 127.3h0M563.7 126h0M563.8 126.5h0M564 125.1h0M564.1 126.9h0M564.3 127.5h0M564.4 126.1h0M564.6 127.9h0M564.7 124.7h0M564.9 125h0M565 125.6h0M565.2 126.5h0M565.3 127.1h0M565.5 127h0M565.6 127.1h0M565.8 128h0M565.9 126.8h0M566 126.1h0M566.2 126.2h0M566.3 129.6h0M566.5 125.2h0M566.6 127.4h0M566.8 129.1h0M566.9 128.1h0M567.1 126.9h0M567.2 127.8h0M567.4 128.7h0M567.5 129.1h0M567.7 127h0M567.8 128.7h0M568 128.3h0M568.1 129.2h0M568.2 129.5h0M568.4 127.8h0M568.5 126.8h0M568.7 128.6h0M568.8 130.1h0M569 129h0M569.1 128.6h0M569.3 130.8h0M569.4 127.4h0M569.6 129.4h0M569.7 128h0M569.9 128.7h0M570 128.7h0M570.2 130.2h0M570.3 127.8h0M570.4 128.2h0M570.6 127.2h0M570.7 129.4h0M570.9 128.4h0M571 129.4h0M571.2 127.9h0M571.3 128.7h0M571.5 130.1h0M571.6 128.9h0M571.8 129.8h0M571.9 129.7h0M572.1 128.9h0M572.2 127.7h0M572.4 130.3h0M572.5 129.5h0M572.6 130.4h0M572.8 127.4h0M572.9 127.8h0M573.1 127.3h0M573.2 128.6h0M573.4 130.6h0M573.5 130.2h0M573.7 129.6h0M573.8 129.8h0M574 130.4h0M574.1 129.4h0M574.3 130.2h0M574.4 129.9h0M574.6 127.6h0M574.7 129.5h0M574.8 131.2h0M575 129.5h0M575.1 129.8h0M575.3 129.4h0M575.4 129.5h0M575.6 131.2h0M575.7 129.8h0M575.9 129.1h0M576 127h0M576.2 129.6h0M576.3 128.2h0M576.5 128.4h0M576.6 131.1h0M576.8 131h0M576.9 128.4h0M577 131.2h0M577.2 130.8h0M577.3 129.6h0M577.5 131.2h0M577.6 128.8h0M577.8 129.3h0M577.9 129.1h0M578.1 129.4h0M578.2 131.5h0M578.4 129.3h0M578.5 129.5h0M578.7 129.7h0M578.8 130.9h0M579 130.4h0M579.1 131.6h0M579.2 130.1h0M579.4 129.5h0M579.5 130.3h0M579.7 130.9h0M579.8 129.9h0M580 131.2h0M580.1 132.7h0M580.3 130.4h0M580.4 131h0M580.6 132.3h0M580.7 130.4h0M580.9 130.2h0M581 130h0M581.2 131.5h0M581.3 131.6h0M581.4 131h0M581.6 131.2h0M581.7 132.5h0M581.9 132.1h0M582 129.8h0M582.2 131.2h0M582.3 131.4h0M582.5 132h0M582.6 131.1h0M582.8 130.7h0M582.9 130.9h0M583.1 129.6h0M583.2 131.4h0M583.4 130.8h0M583.5 131.9h0M583.6 130.4h0M583.8 131h0M583.9 130.5h0M584.1 130.5h0M584.2 132.2h0M584.4 131.1h0M584.5 132h0M584.7 130.5h0M584.8 131.7h0M585 130h0M585.1 131.2h0M585.3 131.2h0M585.4 132.3h0M585.6 131.9h0M585.7 131.6h0M585.8 132.6h0M586 132h0M586.1 132.3h0M586.3 132.6h0M586.4 131.8h0M586.6 131.6h0M586.7 132.2h0M586.9 131.5h0M587 132.3h0M587.2 133h0M587.3 132.8h0M587.5 131.6h0M587.6 130.7h0M587.8 132h0M587.9 131.9h0M588 133.2h0M588.2 131.7h0M588.3 131.9h0M588.5 132.8h0M588.6 131.6h0M588.8 132h0M588.9 133.9h0M589.1 133.7h0M589.2 132.8h0M589.4 132.5h0M589.5 131.3h0M589.7 132.8h0M589.8 132.3h0M590 132.5h0M590.1 131.8h0M590.3 132.3h0M590.4 132.1h0M590.5 132.7h0M590.7 133.8h0M590.8 132.7h0M591 130.7h0M591.1 131.4h0M591.3 130.8h0M591.4 131.6h0M591.6 133h0M591.7 132.9h0M591.9 131.9h0M592 132.8h0M592.2 131.8h0M592.3 131.1h0M592.5 131.1h0M592.6 131.7h0M592.7 134h0M592.9 131.3h0M593 133.9h0M593.2 134h0M593.3 132.5h0M593.5 132.6h0M593.6 132.1h0M593.8 132.7h0M593.9 133.4h0M594.1 132.7h0M594.2 133.7h0M594.4 133.9h0M594.5 133.1h0M594.7 133.1h0M594.8 132.7h0M594.9 133.1h0M595.1 131.7h0M595.2 133.2h0M595.4 133h0M595.5 132h0M595.7 135h0M595.8 131.9h0M596 132h0M596.1 133.2h0M596.3 131h0M596.4 132.2h0M596.6 131.4h0M596.7 132h0M596.9 132.8h0M597 133.3h0M597.1 134.1h0M597.3 133.8h0M597.4 134.2h0M597.6 133.6h0M597.7 132.6h0M597.9 134.2h0M598 132.6h0M598.2 132.5h0M598.3 134.6h0M598.5 133.9h0M598.6 133.4h0M598.8 133.9h0M598.9 134h0M599.1 131.8h0M599.2 133.1h0M599.3 132h0M599.5 133.3h0M599.6 132.6h0M599.8 134.6h0M599.9 133.8h0M600.1 132.4h0M600.2 133.3h0M600.4 132.1h0M600.5 133.3h0M600.7 133.9h0M600.8 133.6h0M601 131.4h0M601.1 133h0M601.3 133.9h0M601.4 133.7h0M601.5 134.5h0M601.7 132.1h0M601.8 133.9h0M602 132.8h0M602.1 133.6h0M602.3 133.8h0M602.4 134.1h0M602.6 132.9h0M602.7 133.7h0M602.9 132.3h0M603 132.1h0M603.2 134.1h0M603.3 133.5h0M603.5 131.9h0M603.6 132.7h0M603.7 133.6h0M603.9 135.1h0M604 134.6h0M604.2 134.4h0M604.3 131.8h0M604.5 133.5h0M604.6 134.1h0M604.8 134h0M604.9 134h0M605.1 133.4h0M605.2 135.4h0M605.4 135.1h0M605.5 133.6h0M605.7 132.7h0M605.8 135.7h0M605.9 133.2h0M606.1 134.9h0M606.2 135.6h0M606.4 132.8h0M606.5 134h0M606.7 133.4h0M606.8 134.3h0M607 134.1h0M607.1 135.7h0M607.3 134.4h0M607.4 133.8h0M607.6 134.9h0M607.7 133.6h0M607.9 133.5h0M608 136.1h0M608.1 133h0M608.3 133.4h0M608.4 133.9h0M608.6 132.8h0M608.7 131.8h0M608.9 135h0M609 133.1h0M609.2 133.4h0M609.3 133.6h0M609.5 133h0M609.6 132.9h0M609.8 134.1h0M609.9 136.4h0M610.1 134.7h0M610.2 134.7h0M610.3 132.5h0M610.5 134h0M610.6 132.8h0M610.8 134.8h0M610.9 133.8h0M611.1 134.1h0M611.2 134h0M611.4 133.5h0M611.5 132.5h0M611.7 134.7h0M611.8 132.7h0M612 132.9h0M612.1 133.8h0M612.3 133.4h0M612.4 134.4h0M612.5 135.1h0M612.7 134.4h0M612.8 134.3h0M613 134.2h0M613.1 135h0M613.3 132.3h0M613.4 134.5h0M613.6 133.3h0M613.7 133h0M613.9 134.2h0M614 133.8h0M614.2 134.8h0M614.3 135.3h0M614.5 131.9h0M614.6 134.2h0M614.7 136.2h0M614.9 135.1h0M615 135.7h0M615.2 134.4h0M615.3 132.9h0M615.5 133.2h0M615.6 135h0M615.8 135.3h0M615.9 133.6h0M616.1 134.1h0M616.2 134.6h0M616.4 132.6h0M616.5 134h0M616.7 136h0M616.8 136.6h0M616.9 134.3h0M617.1 136.2h0M617.2 133.9h0M617.4 133.6h0M617.5 132.2h0M617.7 135.4h0M617.8 134h0M618 136.8h0M618.1 134.8h0M618.3 134.6h0M618.4 132.6h0M618.6 136h0M618.7 134.1h0M618.9 134.3h0M619 132.3h0M619.1 135.4h0M619.3 135.5h0M619.4 133.9h0M619.6 134.6h0M619.7 134.9h0M619.9 135.5h0M620 134.6h0M620.2 136.3h0M620.3 134.3h0M620.5 134h0M620.6 134.1h0M620.8 132h0M620.9 133.8h0M621.1 135.6h0M621.2 134.9h0M621.3 133.8h0M621.5 135h0M621.6 132.6h0M621.8 134.3h0M621.9 135.2h0M622.1 135.3h0M622.2 133.9h0M622.4 135.6h0M622.5 136.5h0M622.7 134.2h0M622.8 135.4h0M623 133.1h0M623.1 132.7h0M623.3 135.3h0M623.4 134.7h0M623.5 134.9h0M623.7 134.1h0M623.8 134.4h0M624 135.5h0M624.1 136.5h0M624.3 134.5h0M624.4 133.1h0M624.6 136h0M624.7 135.4h0M624.9 135.5h0M625 135h0M625.2 137.1h0M625.3 134.9h0M625.5 135.3h0M625.6 133h0M625.7 134.2h0M625.9 134.1h0M626 134.8h0M626.2 135.2h0M626.3 134.1h0M626.5 136.6h0M626.6 133.8h0M626.8 134.4h0M626.9 135.1h0M627.1 133.6h0M627.2 135.4h0M627.4 135.5h0M627.5 134.6h0M627.7 136.8h0M627.8 135h0M627.9 135.2h0M628.1 134h0M628.2 133.2h0M628.4 134.3h0M628.5 134.6h0M628.7 134.5h0M628.8 135.7h0M629 132.6h0M629.1 133.8h0M629.3 133.1h0M629.4 136.3h0M629.6 134.4h0M629.7 134.5h0M629.9 133.9h0M630 135.9h0M630.1 134.6h0M630.3 135.2h0M630.4 133h0M630.6 136.2h0M630.7 135.4h0M630.9 135.6h0M631 136.3h0M631.2 134.8h0M631.3 134.9h0M631.5 135.8h0M631.6 135.5h0M631.8 134.8h0M631.9 135.1h0M632.1 134.6h0M632.2 135.8h0M632.3 136h0M632.5 135.1h0M632.6 137h0M632.8 133.6h0M632.9 134.9h0M633.1 136.8h0M633.2 134.7h0M633.4 133.5h0M633.5 136.5h0M633.7 135.7h0M633.8 133.9h0M634 135.9h0M634.1 134.1h0M634.3 133.8h0M634.4 135h0M634.6 134.7h0M634.7 134.1h0M634.8 134.8h0M635 134.2h0M635.1 135.3h0M635.3 135.2h0M635.4 136h0M635.6 134.8h0M635.7 133.9h0M635.9 133.9h0M636 135h0M636.2 136.8h0M636.3 136.1h0M636.5 134.6h0M636.6 136.2h0M636.8 134.1h0M636.9 136.3h0M637 134.9h0M637.2 136h0M637.3 135.9h0M637.5 135h0M637.6 135.6h0M637.8 134.2h0M637.9 135.2h0M638.1 136.4h0M638.2 139.4h0M638.4 136h0M638.5 135.4h0M638.7 134.3h0M638.8 136.4h0M639 133.7h0M639.1 134.5h0M639.2 135.7h0M639.4 134.1h0M639.5 136.9h0M639.7 136.5h0M639.8 134.8h0M640 134.8h0M640.1 134h0M640.3 134h0M640.4 135.8h0M640.6 136h0M640.7 135.7h0M640.9 135.7h0M641 134.8h0M641.2 135.8h0M641.3 133.9h0M641.4 135.4h0M641.6 136.9h0M641.7 136.8h0M641.9 135h0M642 135.1h0M642.2 136.8h0M642.3 137.2h0M642.5 133.9h0M642.6 135h0M642.8 135.7h0M642.9 136.7h0M643.1 134.6h0M643.2 136.1h0M643.4 135.2h0M643.5 137.9h0M643.6 135.9h0M643.8 135.4h0M643.9 135.2h0M644.1 136.6h0M644.2 136.2h0M644.4 134.4h0M644.5 135.7h0M644.7 134.2h0M644.8 134.8h0M645 134.2h0M645.1 134.2h0M645.3 134.8h0M645.4 134.6h0M645.6 136.1h0M645.7 136.4h0M645.8 135.3h0M646 134.4h0M646.1 136.4h0M646.3 133.5h0M646.4 133.6h0M646.6 136.3h0M646.7 136.2h0M646.9 136.6h0M647 135.4h0M647.2 134.3h0M647.3 135.1h0M647.5 136.2h0M647.6 134.8h0M647.8 134.9h0M647.9 134.2h0M648 134.5h0M648.2 136.5h0M648.3 136.1h0M648.5 134.5h0M648.6 134.6h0M648.8 135.1h0M648.9 136.2h0M649.1 134.5h0M649.2 135.5h0M649.4 133.5h0M649.5 134.4h0M649.7 136.1h0M649.8 136.6h0M650 134.5h0M650.1 134.9h0M650.2 136.5h0M650.4 135.3h0M650.5 135.2h0M650.7 136.2h0M650.8 135.9h0M651 136.8h0M651.1 136.5h0M651.3 135.1h0M651.4 135.6h0M651.6 135.7h0M651.7 134.4h0M651.9 134.8h0M652 136.7h0M652.2 134.2h0M652.3 136.7h0M652.4 136h0M652.6 135.6h0M652.7 136.3h0M652.9 136.2h0M653 137h0M653.2 135.4h0M653.3 135.5h0M653.5 135.5h0M653.6 137.7h0M653.8 136.7h0M653.9 134.9h0M654.1 135.5h0M654.2 135.1h0M654.4 135.8h0M654.5 136h0" stroke="#00f" stroke-width="5.3" stroke-linecap="round" fill="none"/>
<path d="M419.8 140L419.9 140 420.1 140 420.2 140 420.4 140 420.5 140 420.7 140 420.8 140 421 140 421.1 140 421.3 140 421.4 140 421.6 140 421.7 140 421.9 140 422 140 422.1 140 422.3 140 422.4 140 422.6 140 422.7 140 422.9 140.1 423 140.1 423.2 140.1 423.3 140.1 423.5 140.1 423.6 140.1 423.8 140.1 423.9 140.1 424.1 140.1 424.2 140.1 424.3 140.1 424.5 140.1 424.6 140.1 424.8 140.1 424.9 140.1 425.1 140.1 425.2 140.1 425.4 140.1 425.5 140.1 425.7 140.1 425.8 140.1 426 140.1 426.1 140.1 426.3 140.1 426.4 140.2 426.5 140.2 426.7 140.2 426.8 140.2 427 140.2 427.1 140.2 427.3 140.2 427.4 140.2 427.6 140.2 427.7 140.2 427.9 140.2 428 140.2 428.2 140.2 428.3 140.2 428.5 140.2 428.6 140.2 428.7 140.2 428.9 140.2 429 140.2 429.2 140.2 429.3 140.2 429.5 140.2 429.6 140.2 429.8 140.3 429.9 140.3 430.1 140.3 430.2 140.3 430.4 140.3 430.5 140.3 430.7 140.3 430.8 140.3 430.9 140.3 431.1 140.3 431.2 140.3 431.4 140.3 431.5 140.3 431.7 140.3 431.8 140.3 432 140.3 432.1 140.3 432.3 140.3 432.4 140.3 432.6 140.3 432.7 140.3 432.9 140.3 433 140.4 433.1 140.4 433.3 140.4 433.4 140.4 433.6 140.4 433.7 140.4 433.9 140.4 434 140.4 434.2 140.4 434.3 140.4 434.5 140.4 434.6 140.4 434.8 140.4 434.9 140.4 435.1 140.4 435.2 140.4 435.3 140.4 435.5 140.4 435.6 140.4 435.8 140.4 435.9 140.5 436.1 140.5 436.2 140.5 436.4 140.5 436.5 140.5 436.7 140.5 436.8 140.5 437 140.5 437.1 140.5 437.3 140.5 437.4 140.5 437.5 140.5 437.7 140.5 437.8 140.5 438 140.5 438.1 140.5 438.3 140.5 438.4 140.5 438.6 140.5 438.7 140.5 438.9 140.6 439 140.6 439.2 140.6 439.3 140.6 439.5 140.6 439.6 140.6 439.7 140.6 439.9 140.6 440 140.6 440.2 140.6 440.3 140.6 440.5 140.6 440.6 140.6 440.8 140.6 440.9 140.6 441.1 140.6 441.2 140.6 441.4 140.6 441.5 140.6 441.7 140.7 441.8 140.7 441.9 140.7 442.1 140.7 442.2 140.7 442.4 140.7 442.5 140.7 442.7 140.7 442.8 140.7 443 140.7 443.1 140.7 443.3 140.7 443.4 140.7 443.6 140.7 443.7 140.7 443.9 140.7 444 140.7 444.1 140.8 444.3 140.8 444.4 140.8 444.6 140.8 444.7 140.8 444.9 140.8 445 140.8 445.2 140.8 445.3 140.8 445.5 140.8 445.6 140.8 445.8 140.8 445.9 140.8 446.1 140.8 446.2 140.8 446.3 140.8 446.5 140.8 446.6 140.9 446.8 140.9 446.9 140.9 447.1 140.9 447.2 140.9 447.4 140.9 447.5 140.9 447.7 140.9 447.8 140.9 448 140.9 448.1 140.9 448.3 140.9 448.4 140.9 448.5 140.9 448.7 140.9 448.8 140.9 449 140.9 449.1 141 449.3 141 449.4 141 449.6 141 449.7 141 449.9 141 450 141 450.2 141 450.3 141 450.5 141 450.6 141 450.7 141 450.9 141 451 141 451.2 141 451.3 141.1 451.5 141.1 451.6 141.1 451.8 141.1 451.9 141.1 452.1 141.1 452.2 141.1 452.4 141.1 452.5 141.1 452.7 141.1 452.8 141.1 452.9 141.1 453.1 141.1 453.2 141.1 453.4 141.1 453.5 141.2 453.7 141.2 453.8 141.2 454 141.2 454.1 141.2 454.3 141.2 454.4 141.2 454.6 141.2 454.7 141.2 454.9 141.2 455 141.2 455.1 141.2 455.3 141.2 455.4 141.2 455.6 141.3 455.7 141.3 455.9 141.3 456 141.3 456.2 141.3 456.3 141.3 456.5 141.3 456.6 141.3 456.8 141.3 456.9 141.3 457.1 141.3 457.2 141.3 457.4 141.3 457.5 141.4 457.6 141.4 457.8 141.4 457.9 141.4 458.1 141.4 458.2 141.4 458.4 141.4 458.5 141.4 458.7 141.4 458.8 141.4 459 141.4 459.1 141.4 459.3 141.4 459.4 141.5 459.6 141.5 459.7 141.5 459.8 141.5 460 141.5 460.1 141.5 460.3 141.5 460.4 141.5 460.6 141.5 460.7 141.5 460.9 141.5 461 141.5 461.2 141.5 461.3 141.6 461.5 141.6 461.6 141.6 461.8 141.6 461.9 141.6 462 141.6 462.2 141.6 462.3 141.6 462.5 141.6 462.6 141.6 462.8 141.6 462.9 141.6 463.1 141.7 463.2 141.7 463.4 141.7 463.5 141.7 463.7 141.7 463.8 141.7 464 141.7 464.1 141.7 464.2 141.7 464.4 141.7 464.5 141.7 464.7 141.8 464.8 141.8 465 141.8 465.1 141.8 465.3 141.8 465.4 141.8 465.6 141.8 465.7 141.8 465.9 141.8 466 141.8 466.2 141.8 466.3 141.9 466.4 141.9 466.6 141.9 466.7 141.9 466.9 141.9 467 141.9 467.2 141.9 467.3 141.9 467.5 141.9 467.6 141.9 467.8 142 467.9 142 468.1 142 468.2 142 468.4 142 468.5 142 468.6 142 468.8 142 468.9 142 469.1 142 469.2 142.1 469.4 142.1 469.5 142.1 469.7 142.1 469.8 142.1 470 142.1 470.1 142.1 470.3 142.1 470.4 142.1 470.6 142.1 470.7 142.2 470.8 142.2 471 142.2 471.1 142.2 471.3 142.2 471.4 142.2 471.6 142.2 471.7 142.2 471.9 142.2 472 142.3 472.2 142.3 472.3 142.3 472.5 142.3 472.6 142.3 472.8 142.3 472.9 142.3 473 142.3 473.2 142.3 473.3 142.4 473.5 142.4 473.6 142.4 473.8 142.4 473.9 142.4 474.1 142.4 474.2 142.4 474.4 142.4 474.5 142.4 474.7 142.5 474.8 142.5 475 142.5 475.1 142.5 475.2 142.5 475.4 142.5 475.5 142.5 475.7 142.5 475.8 142.6 476 142.6 476.1 142.6 476.3 142.6 476.4 142.6 476.6 142.6 476.7 142.6 476.9 142.6 477 142.7 477.2 142.7 477.3 142.7 477.4 142.7 477.6 142.7 477.7 142.7 477.9 142.7 478 142.7 478.2 142.8 478.3 142.8 478.5 142.8 478.6 142.8 478.8 142.8 478.9 142.8 479.1 142.8 479.2 142.8 479.4 142.9 479.5 142.9 479.6 142.9 479.8 142.9 479.9 142.9 480.1 142.9 480.2 142.9 480.4 143 480.5 143 480.7 143 480.8 143 481 143 481.1 143 481.3 143 481.4 143.1 481.6 143.1 481.7 143.1 481.8 143.1 482 143.1 482.1 143.1 482.3 143.1 482.4 143.2 482.6 143.2 482.7 143.2 482.9 143.2 483 143.2 483.2 143.2 483.3 143.3 483.5 143.3 483.6 143.3 483.8 143.3 483.9 143.3 484 143.3 484.2 143.3 484.3 143.4 484.5 143.4 484.6 143.4 484.8 143.4 484.9 143.4 485.1 143.4 485.2 143.5 485.4 143.5 485.5 143.5 485.7 143.5 485.8 143.5 486 143.5 486.1 143.6 486.2 143.6 486.4 143.6 486.5 143.6 486.7 143.6 486.8 143.7 487 143.7 487.1 143.7 487.3 143.7 487.4 143.7 487.6 143.7 487.7 143.8 487.9 143.8 488 143.8 488.2 143.8 488.3 143.8 488.4 143.9 488.6 143.9 488.7 143.9 488.9 143.9 489 143.9 489.2 143.9 489.3 144 489.5 144 489.6 144 489.8 144 489.9 144 490.1 144.1 490.2 144.1 490.4 144.1 490.5 144.1 490.6 144.1 490.8 144.2 490.9 144.2 491.1 144.2 491.2 144.2 491.4 144.2 491.5 144.3 491.7 144.3 491.8 144.3 492 144.3 492.1 144.4 492.3 144.4 492.4 144.4 492.6 144.4 492.7 144.4 492.8 144.5 493 144.5 493.1 144.5 493.3 144.5 493.4 144.6 493.6 144.6 493.7 144.6 493.9 144.6 494 144.6 494.2 144.7 494.3 144.7 494.5 144.7 494.6 144.7 494.8 144.8 494.9 144.8 495 144.8 495.2 144.8 495.3 144.9 495.5 144.9 495.6 144.9 495.8 144.9 495.9 145 496.1 145 496.2 145 496.4 145 496.5 145.1 496.7 145.1 496.8 145.1 497 145.2 497.1 145.2 497.2 145.2 497.4 145.2 497.5 145.3 497.7 145.3 497.8 145.3 498 145.3 498.1 145.4 498.3 145.4 498.4 145.4 498.6 145.5 498.7 145.5 498.9 145.5 499 145.5 499.2 145.6 499.3 145.6 499.4 145.6 499.6 145.7 499.7 145.7 499.9 145.7 500 145.8 500.2 145.8 500.3 145.8 500.5 145.9 500.6 145.9 500.8 145.9 500.9 146 501.1 146 501.2 146 501.4 146.1 501.5 146.1 501.7 146.1 501.8 146.2 501.9 146.2 502.1 146.2 502.2 146.3 502.4 146.3 502.5 146.3 502.7 146.4 502.8 146.4 503 146.4 503.1 146.5 503.3 146.5 503.4 146.5 503.6 146.6 503.7 146.6 503.9 146.7 504 146.7 504.1 146.7 504.3 146.8 504.4 146.8 504.6 146.9 504.7 146.9 504.9 146.9 505 147 505.2 147 505.3 147.1 505.5 147.1 505.6 147.1 505.8 147.2 505.9 147.2 506.1 147.3 506.2 147.3 506.3 147.4 506.5 147.4 506.6 147.4 506.8 147.5 506.9 147.5 507.1 147.6 507.2 147.6 507.4 147.7 507.5 147.7 507.7 147.8 507.8 147.8 508 147.9 508.1 147.9 508.3 148 508.4 148 508.5 148.1 508.7 148.1 508.8 148.2 509 148.2 509.1 148.3 509.3 148.3 509.4 148.4 509.6 148.4 509.7 148.5 509.9 148.5 510 148.6 510.2 148.7 510.3 148.7 510.5 148.8 510.6 148.8 510.7 148.9 510.9 148.9 511 149 511.2 149.1 511.3 149.1 511.5 149.2 511.6 149.2 511.8 149.3 511.9 149.4 512.1 149.4 512.2 149.5 512.4 149.6 512.5 149.6 512.7 149.7 512.8 149.8 512.9 149.8 513.1 149.9 513.2 150 513.4 150 513.5 150.1 513.7 150.2 513.8 150.3 514 150.3 514.1 150.4 514.3 150.5 514.4 150.6 514.6 150.6 514.7 150.7 514.9 150.8 515 150.9 515.1 151 515.3 151 515.4 151.1 515.6 151.2 515.7 151.3 515.9 151.4 516 151.5 516.2 151.6 516.3 151.6 516.5 151.7 516.6 151.8 516.8 151.9 516.9 152 517.1 152.1 517.2 152.2 517.3 152.3 517.5 152.4 517.6 152.5 517.8 152.6 517.9 152.7 518.1 152.8 518.2 152.9 518.4 153 518.5 153.1 518.7 153.2 518.8 153.4 519 153.5 519.1 153.6 519.3 153.7 519.4 153.8 519.5 153.9 519.7 154.1 519.8 154.2 520 154.3 520.1 154.4 520.3 154.6 520.4 154.7 520.6 154.8 520.7 155 520.9 155.1 521 155.2 521.2 155.4 521.3 155.5 521.5 155.7 521.6 155.8 521.7 156 521.9 156.1 522 156.3 522.2 156.4 522.3 156.6 522.5 156.8 522.6 156.9 522.8 157.1 522.9 157.3 523.1 157.4 523.2 157.6 523.4 157.8 523.5 158 523.7 158.2 523.8 158.4 523.9 158.5 524.1 158.7 524.2 158.9 524.4 159.1 524.5 159.4 524.7 159.6 524.8 159.8 525 160 525.1 160.2 525.3 160.4 525.4 160.7 525.6 160.9 525.7 161.2 525.9 161.4 526 161.6 526.1 161.9 526.3 162.2 526.4 162.4 526.6 162.7 526.7 163 526.9 163.3 527 163.5 527.2 163.8 527.3 164.1 527.5 164.4 527.6 164.8 527.8 165.1 527.9 165.4 528.1 165.7 528.2 166.1 528.3 166.4 528.5 166.8 528.6 167.1 528.8 167.5 528.9 167.9 529.1 168.3 529.2 168.7 529.4 169.1 529.5 169.5 529.7 169.9 529.8 170.3 530 170.8 530.1 171.2 530.3 171.7 530.4 172.2 530.5 172.7 530.7 173.2 530.8 173.7 531 174.2 531.1 174.7 531.3 175.3 531.4 175.9 531.6 176.4 531.7 177 531.9 177.6 532 178.2 532.2 178.9 532.3 179.5 532.5 180.2 532.6 180.9 532.7 181.6 532.9 182.3 533 183 533.2 183.7 533.3 184.5 533.5 185.3 533.6 186.1 533.8 186.9 533.9 187.7 534.1 188.6 534.2 189.5 534.4 190.4 534.5 191.3 534.7 192.2 534.8 193.2 534.9 194.1 535.1 195.1 535.2 196.1 535.4 197.2 535.5 198.2 535.7 199.3 535.8 200.3 536 201.4 536.1 202.6 536.3 203.7 536.4 204.8 536.6 206 536.7 207.2 536.9 208.4 537 209.5 537.1 210.8 537.3 212 537.4 213.2 537.6 214.4 537.7 215.7 537.9 55.6 538 56.8 538.2 58.1 538.3 59.3 538.5 60.6 538.6 61.8 538.8 63.1 538.9 64.3 539.1 65.6 539.2 66.8 539.3 68 539.5 69.2 539.6 70.4 539.8 71.6 539.9 72.8 540.1 73.9 540.2 75.1 540.4 76.2 540.5 77.3 540.7 78.4 540.8 79.4 541 80.5 541.1 81.5 541.3 82.5 541.4 83.5 541.5 84.5 541.7 85.4 541.8 86.3 542 87.2 542.1 88.1 542.3 89 542.4 89.8 542.6 90.7 542.7 91.5 542.9 92.2 543 93 543.2 93.8 543.3 94.5 543.5 95.2 543.6 95.9 543.7 96.6 543.9 97.2 544 97.9 544.2 98.5 544.3 99.1 544.5 99.7 544.6 100.3 544.8 100.9 544.9 101.4 545.1 102 545.2 102.5 545.4 103 545.5 103.5 545.7 104 545.8 104.5 546 104.9 546.1 105.4 546.2 105.8 546.4 106.3 546.5 106.7 546.7 107.1 546.8 107.5 547 107.9 547.1 108.3 547.3 108.7 547.4 109 547.6 109.4 547.7 109.7 547.9 110.1 548 110.4 548.2 110.8 548.3 111.1 548.4 111.4 548.6 111.7 548.7 112 548.9 112.3 549 112.6 549.2 112.9 549.3 113.2 549.5 113.4 549.6 113.7 549.8 114 549.9 114.2 550.1 114.5 550.2 114.7 550.4 115 550.5 115.2 550.6 115.4 550.8 115.7 550.9 115.9 551.1 116.1 551.2 116.3 551.4 116.5 551.5 116.7 551.7 116.9 551.8 117.1 552 117.3 552.1 117.5 552.3 117.7 552.4 117.9 552.6 118.1 552.7 118.3 552.8 118.5 553 118.6 553.1 118.8 553.3 119 553.4 119.1 553.6 119.3 553.7 119.5 553.9 119.6 554 119.8 554.2 119.9 554.3 120.1 554.5 120.2 554.6 120.4 554.8 120.5 554.9 120.7 555 120.8 555.2 120.9 555.3 121.1 555.5 121.2 555.6 121.3 555.8 121.5 555.9 121.6 556.1 121.7 556.2 121.8 556.4 122 556.5 122.1 556.7 122.2 556.8 122.3 557 122.4 557.1 122.5 557.2 122.6 557.4 122.8 557.5 122.9 557.7 123 557.8 123.1 558 123.2 558.1 123.3 558.3 123.4 558.4 123.5 558.6 123.6 558.7 123.7 558.9 123.8 559 123.9 559.2 124 559.3 124.1 559.4 124.2 559.6 124.2 559.7 124.3 559.9 124.4 560 124.5 560.2 124.6 560.3 124.7 560.5 124.8 560.6 124.8 560.8 124.9 560.9 125 561.1 125.1 561.2 125.2 561.4 125.2 561.5 125.3 561.6 125.4 561.8 125.5 561.9 125.6 562.1 125.6 562.2 125.7 562.4 125.8 562.5 125.8 562.7 125.9 562.8 126 563 126.1 563.1 126.1 563.3 126.2 563.4 126.3 563.6 126.3 563.7 126.4 563.8 126.4 564 126.5 564.1 126.6 564.3 126.6 564.4 126.7 564.6 126.8 564.7 126.8 564.9 126.9 565 126.9 565.2 127 565.3 127.1 565.5 127.1 565.6 127.2 565.8 127.2 565.9 127.3 566 127.3 566.2 127.4 566.3 127.5 566.5 127.5 566.6 127.6 566.8 127.6 566.9 127.7 567.1 127.7 567.2 127.8 567.4 127.8 567.5 127.9 567.7 127.9 567.8 128 568 128 568.1 128.1 568.2 128.1 568.4 128.2 568.5 128.2 568.7 128.3 568.8 128.3 569 128.3 569.1 128.4 569.3 128.4 569.4 128.5 569.6 128.5 569.7 128.6 569.9 128.6 570 128.7 570.2 128.7 570.3 128.7 570.4 128.8 570.6 128.8 570.7 128.9 570.9 128.9 571 128.9 571.2 129 571.3 129 571.5 129.1 571.6 129.1 571.8 129.1 571.9 129.2 572.1 129.2 572.2 129.3 572.4 129.3 572.5 129.3 572.6 129.4 572.8 129.4 572.9 129.4 573.1 129.5 573.2 129.5 573.4 129.5 573.5 129.6 573.7 129.6 573.8 129.7 574 129.7 574.1 129.7 574.3 129.8 574.4 129.8 574.6 129.8 574.7 129.9 574.8 129.9 575 129.9 575.1 130 575.3 130 575.4 130 575.6 130.1 575.7 130.1 575.9 130.1 576 130.1 576.2 130.2 576.3 130.2 576.5 130.2 576.6 130.3 576.8 130.3 576.9 130.3 577 130.4 577.2 130.4 577.3 130.4 577.5 130.4 577.6 130.5 577.8 130.5 577.9 130.5 578.1 130.6 578.2 130.6 578.4 130.6 578.5 130.6 578.7 130.7 578.8 130.7 579 130.7 579.1 130.7 579.2 130.8 579.4 130.8 579.5 130.8 579.7 130.9 579.8 130.9 580 130.9 580.1 130.9 580.3 131 580.4 131 580.6 131 580.7 131 580.9 131.1 581 131.1 581.2 131.1 581.3 131.1 581.4 131.2 581.6 131.2 581.7 131.2 581.9 131.2 582 131.2 582.2 131.3 582.3 131.3 582.5 131.3 582.6 131.3 582.8 131.4 582.9 131.4 583.1 131.4 583.2 131.4 583.4 131.4 583.5 131.5 583.6 131.5 583.8 131.5 583.9 131.5 584.1 131.6 584.2 131.6 584.4 131.6 584.5 131.6 584.7 131.6 584.8 131.7 585 131.7 585.1 131.7 585.3 131.7 585.4 131.7 585.6 131.8 585.7 131.8 585.8 131.8 586 131.8 586.1 131.8 586.3 131.9 586.4 131.9 586.6 131.9 586.7 131.9 586.9 131.9 587 132 587.2 132 587.3 132 587.5 132 587.6 132 587.8 132.1 587.9 132.1 588 132.1 588.2 132.1 588.3 132.1 588.5 132.1 588.6 132.2 588.8 132.2 588.9 132.2 589.1 132.2 589.2 132.2 589.4 132.3 589.5 132.3 589.7 132.3 589.8 132.3 590 132.3 590.1 132.3 590.3 132.4 590.4 132.4 590.5 132.4 590.7 132.4 590.8 132.4 591 132.4 591.1 132.5 591.3 132.5 591.4 132.5 591.6 132.5 591.7 132.5 591.9 132.5 592 132.6 592.2 132.6 592.3 132.6 592.5 132.6 592.6 132.6 592.7 132.6 592.9 132.6 593 132.7 593.2 132.7 593.3 132.7 593.5 132.7 593.6 132.7 593.8 132.7 593.9 132.8 594.1 132.8 594.2 132.8 594.4 132.8 594.5 132.8 594.7 132.8 594.8 132.8 594.9 132.9 595.1 132.9 595.2 132.9 595.4 132.9 595.5 132.9 595.7 132.9 595.8 132.9 596 133 596.1 133 596.3 133 596.4 133 596.6 133 596.7 133 596.9 133 597 133 597.1 133.1 597.3 133.1 597.4 133.1 597.6 133.1 597.7 133.1 597.9 133.1 598 133.1 598.2 133.2 598.3 133.2 598.5 133.2 598.6 133.2 598.8 133.2 598.9 133.2 599.1 133.2 599.2 133.2 599.3 133.3 599.5 133.3 599.6 133.3 599.8 133.3 599.9 133.3 600.1 133.3 600.2 133.3 600.4 133.3 600.5 133.4 600.7 133.4 600.8 133.4 601 133.4 601.1 133.4 601.3 133.4 601.4 133.4 601.5 133.4 601.7 133.4 601.8 133.5 602 133.5 602.1 133.5 602.3 133.5 602.4 133.5 602.6 133.5 602.7 133.5 602.9 133.5 603 133.5 603.2 133.6 603.3 133.6 603.5 133.6 603.6 133.6 603.7 133.6 603.9 133.6 604 133.6 604.2 133.6 604.3 133.6 604.5 133.7 604.6 133.7 604.8 133.7 604.9 133.7 605.1 133.7 605.2 133.7 605.4 133.7 605.5 133.7 605.7 133.7 605.8 133.8 605.9 133.8 606.1 133.8 606.2 133.8 606.4 133.8 606.5 133.8 606.7 133.8 606.8 133.8 607 133.8 607.1 133.8 607.3 133.9 607.4 133.9 607.6 133.9 607.7 133.9 607.9 133.9 608 133.9 608.1 133.9 608.3 133.9 608.4 133.9 608.6 133.9 608.7 134 608.9 134 609 134 609.2 134 609.3 134 609.5 134 609.6 134 609.8 134 609.9 134 610.1 134 610.2 134 610.3 134.1 610.5 134.1 610.6 134.1 610.8 134.1 610.9 134.1 611.1 134.1 611.2 134.1 611.4 134.1 611.5 134.1 611.7 134.1 611.8 134.1 612 134.2 612.1 134.2 612.3 134.2 612.4 134.2 612.5 134.2 612.7 134.2 612.8 134.2 613 134.2 613.1 134.2 613.3 134.2 613.4 134.2 613.6 134.2 613.7 134.3 613.9 134.3 614 134.3 614.2 134.3 614.3 134.3 614.5 134.3 614.6 134.3 614.7 134.3 614.9 134.3 615 134.3 615.2 134.3 615.3 134.3 615.5 134.4 615.6 134.4 615.8 134.4 615.9 134.4 616.1 134.4 616.2 134.4 616.4 134.4 616.5 134.4 616.7 134.4 616.8 134.4 616.9 134.4 617.1 134.4 617.2 134.5 617.4 134.5 617.5 134.5 617.7 134.5 617.8 134.5 618 134.5 618.1 134.5 618.3 134.5 618.4 134.5 618.6 134.5 618.7 134.5 618.9 134.5 619 134.5 619.1 134.6 619.3 134.6 619.4 134.6 619.6 134.6 619.7 134.6 619.9 134.6 620 134.6 620.2 134.6 620.3 134.6 620.5 134.6 620.6 134.6 620.8 134.6 620.9 134.6 621.1 134.6 621.2 134.7 621.3 134.7 621.5 134.7 621.6 134.7 621.8 134.7 621.9 134.7 622.1 134.7 622.2 134.7 622.4 134.7 622.5 134.7 622.7 134.7 622.8 134.7 623 134.7 623.1 134.7 623.3 134.8 623.4 134.8 623.5 134.8 623.7 134.8 623.8 134.8 624 134.8 624.1 134.8 624.3 134.8 624.4 134.8 624.6 134.8 624.7 134.8 624.9 134.8 625 134.8 625.2 134.8 625.3 134.8 625.5 134.8 625.6 134.9 625.7 134.9 625.9 134.9 626 134.9 626.2 134.9 626.3 134.9 626.5 134.9 626.6 134.9 626.8 134.9 626.9 134.9 627.1 134.9 627.2 134.9 627.4 134.9 627.5 134.9 627.7 134.9 627.8 135 627.9 135 628.1 135 628.2 135 628.4 135 628.5 135 628.7 135 628.8 135 629 135 629.1 135 629.3 135 629.4 135 629.6 135 629.7 135 629.9 135 630 135 630.1 135 630.3 135.1 630.4 135.1 630.6 135.1 630.7 135.1 630.9 135.1 631 135.1 631.2 135.1 631.3 135.1 631.5 135.1 631.6 135.1 631.8 135.1 631.9 135.1 632.1 135.1 632.2 135.1 632.3 135.1 632.5 135.1 632.6 135.1 632.8 135.2 632.9 135.2 633.1 135.2 633.2 135.2 633.4 135.2 633.5 135.2 633.7 135.2 633.8 135.2 634 135.2 634.1 135.2 634.3 135.2 634.4 135.2 634.6 135.2 634.7 135.2 634.8 135.2 635 135.2 635.1 135.2 635.3 135.2 635.4 135.3 635.6 135.3 635.7 135.3 635.9 135.3 636 135.3 636.2 135.3 636.3 135.3 636.5 135.3 636.6 135.3 636.8 135.3 636.9 135.3 637 135.3 637.2 135.3 637.3 135.3 637.5 135.3 637.6 135.3 637.8 135.3 637.9 135.3 638.1 135.3 638.2 135.4 638.4 135.4 638.5 135.4 638.7 135.4 638.8 135.4 639 135.4 639.1 135.4 639.2 135.4 639.4 135.4 639.5 135.4 639.7 135.4 639.8 135.4 640 135.4 640.1 135.4 640.3 135.4 640.4 135.4 640.6 135.4 640.7 135.4 640.9 135.4 641 135.4 641.2 135.5 641.3 135.5 641.4 135.5 641.6 135.5 641.7 135.5 641.9 135.5 642 135.5 642.2 135.5 642.3 135.5 642.5 135.5 642.6 135.5 642.8 135.5 642.9 135.5 643.1 135.5 643.2 135.5 643.4 135.5 643.5 135.5 643.6 135.5 643.8 135.5 643.9 135.5 644.1 135.5 644.2 135.6 644.4 135.6 644.5 135.6 644.7 135.6 644.8 135.6 645 135.6 645.1 135.6 645.3 135.6 645.4 135.6 645.6 135.6 645.7 135.6 645.8 135.6 646 135.6 646.1 135.6 646.3 135.6 646.4 135.6 646.6 135.6 646.7 135.6 646.9 135.6 647 135.6 647.2 135.6 647.3 135.6 647.5 135.7 647.6 135.7 647.8 135.7 647.9 135.7 648 135.7 648.2 135.7 648.3 135.7 648.5 135.7 648.6 135.7 648.8 135.7 648.9 135.7 649.1 135.7 649.2 135.7 649.4 135.7 649.5 135.7 649.7 135.7 649.8 135.7 650 135.7 650.1 135.7 650.2 135.7 650.4 135.7 650.5 135.7 650.7 135.7 650.8 135.8 651 135.8 651.1 135.8 651.3 135.8 651.4 135.8 651.6 135.8 651.7 135.8 651.9 135.8 652 135.8 652.2 135.8 652.3 135.8 652.4 135.8 652.6 135.8 652.7 135.8 652.9 135.8 653 135.8 653.2 135.8 653.3 135.8 653.5 135.8 653.6 135.8 653.8 135.8 653.9 135.8 654.1 135.8 654.2 135.8 654.4 135.8 654.5 135.9" stroke="#f00" stroke-width="3" stroke-linejoin="round" fill="none"/>
<g font-size="26"><path transform="translate(395.34 226.53) scale(0.01270 -0.01270)" d="M763 0L583 0L583 1147Q518 1085 412.5 1023Q307 961 223 930L223 1104Q374 1175 487 1276Q600 1377 647 1472L763 1472Z"/><rect x="387.20" y="218.60" width="6.99" height="2.03"/><text x="409.8" y="145.8" text-anchor="end">0</text><path transform="translate(395.34 65.17) scale(0.01270 -0.01270)" d="M763 0L583 0L583 1147Q518 1085 412.5 1023Q307 961 223 930L223 1104Q374 1175 487 1276Q600 1377 647 1472L763 1472Z"/><text x="418.0" y="259.9" text-anchor="middle">5.46</text><text x="536.0" y="259.9" text-anchor="middle">5.462</text><text x="654.0" y="259.9" text-anchor="middle">5.464</text></g>
<rect x="76.5" y="347.5" width="237.0" height="178.0" fill="none" stroke="#262626" stroke-width="1"/>
<path d="M76.5 525.5v-3M76.5 347.5v3M195.0 525.5v-3M195.0 347.5v3M313.5 525.5v-3M313.5 347.5v3M76.5 525.5h3M313.5 525.5h-3M76.5 451.3h3M313.5 451.3h-3M76.5 377.2h3M313.5 377.2h-3" stroke="#262626" stroke-width="1" fill="none"/>
<path d="M77.8 388.4h0M78 368.5h0M78.1 382.3h0M78.2 379.4h0M78.4 373.9h0M78.5 376.6h0M78.7 374.9h0M78.8 377.6h0M79 382.2h0M79.1 370h0M79.3 383.6h0M79.4 375.5h0M79.6 384.6h0M79.7 379.3h0M79.9 383.3h0M80 380.1h0M80.2 382.6h0M80.3 377.6h0M80.5 373.3h0M80.6 380.6h0M80.7 380.8h0M80.9 387.4h0M81 367.7h0M81.2 376.4h0M81.3 382.4h0M81.5 371.3h0M81.6 376.2h0M81.8 387.5h0M81.9 384.1h0M82.1 373.1h0M82.2 384.2h0M82.4 383h0M82.5 381.1h0M82.7 379.2h0M82.8 378.5h0M83 373.2h0M83.1 374.9h0M83.3 380.9h0M83.4 378h0M83.5 386.2h0M83.7 375.7h0M83.8 365.8h0M84 375.7h0M84.1 378.7h0M84.3 379.2h0M84.4 377.7h0M84.6 373.4h0M84.7 384.5h0M84.9 374.1h0M85 380.8h0M85.2 376h0M85.3 371.6h0M85.5 384.1h0M85.6 365.3h0M85.8 373.3h0M85.9 379.4h0M86.1 375.6h0M86.2 381h0M86.3 376.9h0M86.5 375.2h0M86.6 387.7h0M86.8 376.3h0M86.9 376.6h0M87.1 372.2h0M87.2 373.8h0M87.4 380.5h0M87.5 380.1h0M87.7 377.4h0M87.8 374h0M88 380.7h0M88.1 369.2h0M88.3 375.7h0M88.4 376.2h0M88.6 373.3h0M88.7 378.1h0M88.9 374.2h0M89 373.5h0M89.1 386h0M89.3 380.9h0M89.4 383.1h0M89.6 377.6h0M89.7 382h0M89.9 381.1h0M90 383.2h0M90.2 388.8h0M90.3 376.3h0M90.5 378.6h0M90.6 377.1h0M90.8 360.5h0M90.9 370.7h0M91.1 377.5h0M91.2 380.4h0M91.4 374.6h0M91.5 382.9h0M91.7 383.6h0M91.8 375.4h0M91.9 384.2h0M92.1 385.8h0M92.2 379.6h0M92.4 372.7h0M92.5 384.5h0M92.7 376.6h0M92.8 375.6h0M93 378h0M93.1 374.8h0M93.3 382.6h0M93.4 381.2h0M93.6 383.3h0M93.7 380.2h0M93.9 373.6h0M94 376.7h0M94.2 381.6h0M94.3 375.5h0M94.4 391.4h0M94.6 376.3h0M94.7 374.6h0M94.9 382.9h0M95 381h0M95.2 377.3h0M95.3 376.3h0M95.5 379.5h0M95.6 381.4h0M95.8 381.1h0M95.9 376h0M96.1 379.5h0M96.2 381.5h0M96.4 381.1h0M96.5 362.6h0M96.7 373.1h0M96.8 373.7h0M97 376.3h0M97.1 378.3h0M97.2 381.8h0M97.4 380.4h0M97.5 376.8h0M97.7 377.5h0M97.8 385.9h0M98 374.5h0M98.1 378.9h0M98.3 384.9h0M98.4 379.1h0M98.6 367.6h0M98.7 379.2h0M98.9 375.5h0M99 376.9h0M99.2 382.5h0M99.3 379.7h0M99.5 376.1h0M99.6 381.7h0M99.8 379.5h0M99.9 377.9h0M100 378.8h0M100.2 378.6h0M100.3 375.8h0M100.5 375.2h0M100.6 377.5h0M100.8 372.8h0M100.9 371.4h0M101.1 383.6h0M101.2 376.2h0M101.4 377.3h0M101.5 376.7h0M101.7 377.5h0M101.8 377.5h0M102 377.7h0M102.1 373.5h0M102.3 381.9h0M102.4 374.1h0M102.6 382.4h0M102.7 368.2h0M102.8 372.3h0M103 382.1h0M103.1 376.7h0M103.3 374.2h0M103.4 379.2h0M103.6 372.4h0M103.7 377.8h0M103.9 366.8h0M104 375.2h0M104.2 374.3h0M104.3 380h0M104.5 381.6h0M104.6 373.3h0M104.8 385.1h0M104.9 374.5h0M105.1 367.5h0M105.2 366h0M105.4 384.8h0M105.5 377h0M105.6 374.3h0M105.8 373.8h0M105.9 372.1h0M106.1 383.9h0M106.2 377h0M106.4 386h0M106.5 376.4h0M106.7 366.1h0M106.8 381.4h0M107 375.6h0M107.1 376.2h0M107.3 384.9h0M107.4 376.1h0M107.6 382.9h0M107.7 377.3h0M107.9 373.8h0M108 379.8h0M108.1 374.5h0M108.3 383.3h0M108.4 382h0M108.6 377.7h0M108.7 380.3h0M108.9 380.1h0M109 376h0M109.2 381.7h0M109.3 376.3h0M109.5 380.3h0M109.6 372.8h0M109.8 377.8h0M109.9 379.4h0M110.1 373.6h0M110.2 375.4h0M110.4 374.8h0M110.5 380.9h0M110.7 373.9h0M110.8 379.5h0M110.9 384.7h0M111.1 379.1h0M111.2 369.6h0M111.4 378h0M111.5 382.4h0M111.7 376h0M111.8 382.7h0M112 380.3h0M112.1 379.4h0M112.3 376.1h0M112.4 374.9h0M112.6 376.2h0M112.7 377.7h0M112.9 379.9h0M113 379.4h0M113.2 375.9h0M113.3 377.7h0M113.5 379.3h0M113.6 369.6h0M113.7 373.7h0M113.9 373.6h0M114 376.4h0M114.2 376.1h0M114.3 376.2h0M114.5 373.2h0M114.6 380.6h0M114.8 378.7h0M114.9 369.5h0M115.1 377.5h0M115.2 372h0M115.4 385.6h0M115.5 375.2h0M115.7 375.5h0M115.8 377.8h0M116 376.5h0M116.1 377.1h0M116.3 384.8h0M116.4 378.5h0M116.5 381.4h0M116.7 382.8h0M116.8 372.7h0M117 385.5h0M117.1 380.7h0M117.3 382h0M117.4 373.3h0M117.6 381.3h0M117.7 379.4h0M117.9 374.8h0M118 388.4h0M118.2 380.1h0M118.3 376.3h0M118.5 378.3h0M118.6 381.8h0M118.8 382.8h0M118.9 380.2h0M119.1 383.3h0M119.2 384.5h0M119.3 371.5h0M119.5 375.1h0M119.6 372.9h0M119.8 377.9h0M119.9 384.3h0M120.1 380.6h0M120.2 372.4h0M120.4 376h0M120.5 382.4h0M120.7 374.9h0M120.8 377h0M121 378.9h0M121.1 368.7h0M121.3 381.2h0M121.4 379.1h0M121.6 380.1h0M121.7 372.7h0M121.8 373.7h0M122 374.6h0M122.1 378.6h0M122.3 377.8h0M122.4 378h0M122.6 386h0M122.7 383.7h0M122.9 374h0M123 374.3h0M123.2 385.6h0M123.3 375.9h0M123.5 384h0M123.6 385.1h0M123.8 374.8h0M123.9 376.1h0M124.1 377.8h0M124.2 373.3h0M124.4 372.7h0M124.5 375.5h0M124.6 381.5h0M124.8 375.3h0M124.9 376.4h0M125.1 375.2h0M125.2 370.9h0M125.4 384.5h0M125.5 366.2h0M125.7 374.3h0M125.8 380.1h0M126 370.7h0M126.1 380.3h0M126.3 383.4h0M126.4 373.3h0M126.6 378.4h0M126.7 372.1h0M126.9 379.8h0M127 377.8h0M127.2 378.4h0M127.3 384h0M127.4 379.7h0M127.6 383.9h0M127.7 380.4h0M127.9 371.6h0M128 378.7h0M128.2 379.8h0M128.3 370.5h0M128.5 383.8h0M128.6 377.7h0M128.8 379.2h0M128.9 373.1h0M129.1 377.8h0M129.2 378.8h0M129.4 375.8h0M129.5 377.8h0M129.7 367.2h0M129.8 383.9h0M130 372.1h0M130.1 366.9h0M130.2 372.8h0M130.4 373.4h0M130.5 380h0M130.7 373h0M130.8 378.8h0M131 372.8h0M131.1 388h0M131.3 380h0M131.4 386.8h0M131.6 372.5h0M131.7 380.6h0M131.9 372.8h0M132 380.2h0M132.2 380.7h0M132.3 369.7h0M132.5 371.9h0M132.6 371.8h0M132.8 370.2h0M132.9 373.9h0M133 372.8h0M133.2 370.5h0M133.3 377.9h0M133.5 380h0M133.6 371.1h0M133.8 374.7h0M133.9 377.4h0M134.1 376.3h0M134.2 374h0M134.4 381.3h0M134.5 381.4h0M134.7 380.6h0M134.8 376.4h0M135 386.9h0M135.1 385.7h0M135.3 375.4h0M135.4 376.8h0M135.5 383.1h0M135.7 373.5h0M135.8 379.3h0M136 377.6h0M136.1 374h0M136.3 376.3h0M136.4 369.8h0M136.6 374.8h0M136.7 367.8h0M136.9 388.3h0M137 384.6h0M137.2 383.3h0M137.3 378.8h0M137.5 382.2h0M137.6 383.5h0M137.8 382.2h0M137.9 381.8h0M138.1 373h0M138.2 379.4h0M138.3 374.8h0M138.5 371.7h0M138.6 371.9h0M138.8 379.4h0M138.9 382.4h0M139.1 370.8h0M139.2 385.7h0M139.4 384.4h0M139.5 375.5h0M139.7 375.1h0M139.8 377h0M140 382.1h0M140.1 375.5h0M140.3 372h0M140.4 379h0M140.6 367.4h0M140.7 378h0M140.9 382.9h0M141 378.8h0M141.1 381.1h0M141.3 379.7h0M141.4 380.8h0M141.6 378h0M141.7 373.4h0M141.9 376.3h0M142 377h0M142.2 383.4h0M142.3 385.1h0M142.5 379.4h0M142.6 373.7h0M142.8 373.8h0M142.9 376.4h0M143.1 384h0M143.2 379h0M143.4 377.1h0M143.5 373.7h0M143.7 381.6h0M143.8 378.7h0M143.9 377.1h0M144.1 377.8h0M144.2 385.4h0M144.4 376.6h0M144.5 385.5h0M144.7 383.3h0M144.8 377.6h0M145 381.6h0M145.1 376.8h0M145.3 373.4h0M145.4 376.1h0M145.6 373h0M145.7 379.8h0M145.9 377.4h0M146 380.1h0M146.2 381.3h0M146.3 362.4h0M146.5 378.9h0M146.6 368.7h0M146.7 378.2h0M146.9 373.2h0M147 377.9h0M147.2 383.9h0M147.3 369.2h0M147.5 378.3h0M147.6 377h0M147.8 368.3h0M147.9 380.5h0M148.1 377.6h0M148.2 374.9h0M148.4 373.9h0M148.5 392.8h0M148.7 375.5h0M148.8 368.8h0M149 372.9h0M149.1 375.6h0M149.2 375.6h0M149.4 377h0M149.5 372.4h0M149.7 380h0M149.8 375.1h0M150 370.9h0M150.1 373.5h0M150.3 375.6h0M150.4 381.5h0M150.6 379.7h0M150.7 375.8h0M150.9 377.5h0M151 378.5h0M151.2 387.2h0M151.3 374.5h0M151.5 379.7h0M151.6 380.9h0M151.8 372.9h0M151.9 378.3h0M152 378.2h0M152.2 375.2h0M152.3 380.2h0M152.5 382.4h0M152.6 382.9h0M152.8 376.5h0M152.9 378.4h0M153.1 388.7h0M153.2 372.2h0M153.4 378.5h0M153.5 381.7h0M153.7 378.2h0M153.8 380.6h0M154 378.3h0M154.1 381.1h0M154.3 383.6h0M154.4 376.4h0M154.6 378.4h0M154.7 377.2h0M154.8 375.6h0M155 377.4h0M155.1 372.1h0M155.3 381.1h0M155.4 385.7h0M155.6 385.7h0M155.7 383.6h0M155.9 372.9h0M156 384.8h0M156.2 374.1h0M156.3 377.3h0M156.5 386.4h0M156.6 372.4h0M156.8 381.6h0M156.9 378.9h0M157.1 376.8h0M157.2 373.3h0M157.4 379.6h0M157.5 375.3h0M157.6 382.6h0M157.8 383.4h0M157.9 371h0M158.1 375.2h0M158.2 376h0M158.4 371.9h0M158.5 372.2h0M158.7 378h0M158.8 376.6h0M159 369.7h0M159.1 375h0M159.3 380.1h0M159.4 371.8h0M159.6 373.2h0M159.7 385.2h0M159.9 384h0M160 369.9h0M160.1 371.2h0M160.3 379.5h0M160.4 371.9h0M160.6 376.4h0M160.7 375.5h0M160.9 380.4h0M161 365.5h0M161.2 367.1h0M161.3 371.8h0M161.5 382.6h0M161.6 377h0M161.8 369.5h0M161.9 380.1h0M162.1 381.1h0M162.2 376.5h0M162.4 376.1h0M162.5 379.8h0M162.7 383.6h0M162.8 378.5h0M162.9 380.3h0M163.1 377.5h0M163.2 375.9h0M163.4 373.4h0M163.5 379h0M163.7 376.4h0M163.8 376.6h0M164 382.3h0M164.1 380.2h0M164.3 382h0M164.4 370.3h0M164.6 380.5h0M164.7 375h0M164.9 374h0M165 373.8h0M165.2 383.7h0M165.3 381.9h0M165.5 374.5h0M165.6 372.5h0M165.7 378h0M165.9 375.7h0M166 385.9h0M166.2 370.9h0M166.3 369.2h0M166.5 376.7h0M166.6 378h0M166.8 378.6h0M166.9 381.6h0M167.1 388h0M167.2 376.4h0M167.4 375.4h0M167.5 369.6h0M167.7 379.2h0M167.8 382.2h0M168 376.8h0M168.1 383.8h0M168.3 378.3h0M168.4 385.4h0M168.5 379.7h0M168.7 373.1h0M168.8 375.1h0M169 370.8h0M169.1 369.9h0M169.3 379.5h0M169.4 382.4h0M169.6 387.6h0M169.7 378h0M169.9 377.1h0M170 373h0M170.2 383h0M170.3 380.2h0M170.5 375.5h0M170.6 381.7h0M170.8 381.1h0M170.9 369.4h0M171.1 382h0M171.2 379.1h0M171.3 376.6h0M171.5 376.5h0M171.6 386.9h0M171.8 385.9h0M171.9 387.3h0M172.1 373h0M172.2 375.4h0M172.4 382.9h0M172.5 372.8h0M172.7 375.2h0M172.8 370h0M173 387.6h0M173.1 383.8h0M173.3 380.9h0M173.4 379.8h0M173.6 376.8h0M173.7 376.9h0M173.8 381.8h0M174 375.4h0M174.1 384.8h0M174.3 376.5h0M174.4 374.7h0M174.6 385.2h0M174.7 378.3h0M174.9 381.7h0M175 377.1h0M175.2 368.3h0M175.3 381.7h0M175.5 372.7h0M175.6 384.4h0M175.8 371.8h0M175.9 370.3h0M176.1 380.8h0M176.2 381.4h0M176.4 379.9h0M176.5 373.6h0M176.6 383.7h0M176.8 372.4h0M176.9 377.3h0M177.1 375.8h0M177.2 377.8h0M177.4 383.7h0M177.5 376.6h0M177.7 382.4h0M177.8 383.1h0M178 371.6h0M178.1 374.3h0M178.3 378.1h0M178.4 377.1h0M178.6 381.5h0M178.7 370.8h0M178.9 383.6h0M179 383.8h0M179.2 379.4h0M179.3 373.7h0M179.4 380.4h0M179.6 377.8h0M179.7 383.2h0M179.9 380.1h0M180 384.1h0M180.2 378.6h0M180.3 387.7h0M180.5 369.8h0M180.6 376h0M180.8 383.3h0M180.9 373.8h0M181.1 384.7h0M181.2 375.4h0M181.4 381.8h0M181.5 377h0M181.7 379.4h0M181.8 382.4h0M182 381.2h0M182.1 379.9h0M182.2 392.2h0M182.4 382h0M182.5 377.4h0M182.7 386.6h0M182.8 386.2h0M183 388.3h0M183.1 391.1h0M183.3 378.1h0M183.4 387.8h0M183.6 388.3h0M183.7 383h0M183.9 384.3h0M184 368.9h0M184.2 380.7h0M184.3 392.1h0M184.5 375.1h0M184.6 381.3h0M184.8 385.4h0M184.9 386.9h0M185 392.2h0M185.2 376.1h0M185.3 384.9h0M185.5 389h0M185.6 378.7h0M185.8 385.1h0M185.9 394.5h0M186.1 392h0M186.2 388.4h0M186.4 373.5h0M186.5 385.7h0M186.7 388.4h0M186.8 385.3h0M187 386.7h0M187.1 402h0M187.3 386.4h0M187.4 383.1h0M187.5 389.1h0M187.7 386.7h0M187.8 387h0M188 388.4h0M188.1 392.8h0M188.3 390.5h0M188.4 383.9h0M188.6 389.3h0M188.7 392.5h0M188.9 388.3h0M189 396.4h0M189.2 395h0M189.3 386.8h0M189.5 393.4h0M189.6 401.7h0M189.8 400h0M189.9 392.6h0M190.1 397.5h0M190.2 390.3h0M190.3 387h0M190.5 396.9h0M190.6 395.8h0M190.8 397.4h0M190.9 395.1h0M191.1 397.1h0M191.2 393.4h0M191.4 398.5h0M191.5 400.5h0M191.7 396.5h0M191.8 401h0M192 388.8h0M192.1 393.8h0M192.3 404.8h0M192.4 406.5h0M192.6 399.5h0M192.7 397.9h0M192.9 392.5h0M193 400.5h0M193.1 402.6h0M193.3 391.8h0M193.4 401.7h0M193.6 401.4h0M193.7 401.2h0M193.9 393.7h0M194 401.7h0M194.2 391.8h0M194.3 406.1h0M194.5 399.5h0M194.6 393.1h0M194.8 405h0M194.9 403.9h0M195.1 395.1h0M195.2 408.6h0M195.4 393h0M195.5 399.1h0M195.7 403h0M195.8 386.1h0M195.9 401.5h0M196.1 396.1h0M196.2 396.1h0M196.4 390.7h0M196.5 397.1h0M196.7 389.8h0M196.8 390.2h0M197 392.4h0M197.1 388.3h0M197.3 401.4h0M197.4 387.1h0M197.6 389.5h0M197.7 391.3h0M197.9 392.5h0M198 395.9h0M198.2 395.7h0M198.3 390h0M198.5 389.3h0M198.6 391h0M198.7 394.4h0M198.9 393.5h0M199 387.4h0M199.2 379.7h0M199.3 399.5h0M199.5 393.5h0M199.6 389.9h0M199.8 390h0M199.9 385.6h0M200.1 383h0M200.2 386h0M200.4 386.3h0M200.5 384.1h0M200.7 379.9h0M200.8 385.1h0M201 389.1h0M201.1 383.8h0M201.2 386h0M201.4 375.8h0M201.5 384.5h0M201.7 384.7h0M201.8 379.2h0M202 376.6h0M202.1 386.7h0M202.3 380.7h0M202.4 386.7h0M202.6 382.2h0M202.7 387h0M202.9 382.2h0M203 376.5h0M203.2 383.1h0M203.3 381.8h0M203.5 386.4h0M203.6 381h0M203.8 381.1h0M203.9 387h0M204 388.3h0M204.2 386.2h0M204.3 387.5h0M204.5 384.5h0M204.6 385.9h0M204.8 386.3h0M204.9 383.9h0M205.1 382.2h0M205.2 382.5h0M205.4 393.2h0M205.5 381.7h0M205.7 380.4h0M205.8 379.6h0M206 381.1h0M206.1 382.4h0M206.3 375.7h0M206.4 371.5h0M206.6 382.4h0M206.7 373.2h0M206.8 382h0M207 381.4h0M207.1 386.2h0M207.3 388.6h0M207.4 382.3h0M207.6 377.8h0M207.7 374.7h0M207.9 376.5h0M208 380.4h0M208.2 370.2h0M208.3 380.5h0M208.5 380h0M208.6 383.1h0M208.8 378.3h0M208.9 380.4h0M209.1 376.3h0M209.2 377.5h0M209.4 371.2h0M209.5 380.2h0M209.6 387h0M209.8 380.3h0M209.9 381.3h0M210.1 374.7h0M210.2 386.3h0M210.4 375.7h0M210.5 383.2h0M210.7 379.8h0M210.8 374.6h0M211 384.1h0M211.1 379.2h0M211.3 380h0M211.4 381.2h0M211.6 378.9h0M211.7 377.2h0M211.9 381.2h0M212 377h0M212.2 379.2h0M212.3 375.7h0M212.4 371.7h0M212.6 375.6h0M212.7 376.4h0M212.9 378.8h0M213 384.4h0M213.2 370.6h0M213.3 379.2h0M213.5 368h0M213.6 373.6h0M213.8 376.1h0M213.9 367.7h0M214.1 369.6h0M214.2 379.2h0M214.4 378.8h0M214.5 377.9h0M214.7 374.5h0M214.8 388.7h0M214.9 377.6h0M215.1 374.2h0M215.2 386.3h0M215.4 381.2h0M215.5 376.5h0M215.7 383.9h0M215.8 378.9h0M216 381.3h0M216.1 379.3h0M216.3 373.2h0M216.4 382.8h0M216.6 378.9h0M216.7 373.2h0M216.9 374.4h0M217 382.6h0M217.2 376.2h0M217.3 378.2h0M217.5 381.1h0M217.6 378.6h0M217.7 370.6h0M217.9 381h0M218 382.4h0M218.2 382h0M218.3 385.6h0M218.5 379.6h0M218.6 381.6h0M218.8 385.5h0M218.9 376.4h0M219.1 386.1h0M219.2 386.1h0M219.4 381.5h0M219.5 386.6h0M219.7 381.8h0M219.8 373.5h0M220 383.2h0M220.1 379.3h0M220.3 379.7h0M220.4 378.4h0M220.5 384.2h0M220.7 380.3h0M220.8 374.3h0M221 379.9h0M221.1 381.1h0M221.3 374.1h0M221.4 375.5h0M221.6 375.7h0M221.7 374.6h0M221.9 379.2h0M222 382.4h0M222.2 386.6h0M222.3 383.2h0M222.5 382.4h0M222.6 383h0M222.8 383.9h0M222.9 375.6h0M223.1 380.8h0M223.2 379h0M223.3 376.8h0M223.5 375.2h0M223.6 375h0M223.8 376.1h0M223.9 371.5h0M224.1 379.9h0M224.2 377.3h0M224.4 377.9h0M224.5 379h0M224.7 380.8h0M224.8 374.5h0M225 376.8h0M225.1 369.6h0M225.3 366.6h0M225.4 368h0M225.6 384.7h0M225.7 368.5h0M225.9 379.5h0M226 384.4h0M226.1 375.1h0M226.3 385.1h0M226.4 386.1h0M226.6 381.8h0M226.7 388.6h0M226.9 380.2h0M227 373.7h0M227.2 379.7h0M227.3 375.1h0M227.5 370.9h0M227.6 371.1h0M227.8 388.3h0M227.9 374.6h0M228.1 377.1h0M228.2 374h0M228.4 377.8h0M228.5 376h0M228.6 375.2h0M228.8 371.3h0M228.9 370.4h0M229.1 373.6h0M229.2 378.6h0M229.4 387.1h0M229.5 382.2h0M229.7 385.9h0M229.8 379.5h0M230 376.7h0M230.1 370.8h0M230.3 377.1h0M230.4 366.8h0M230.6 375.7h0M230.7 384.9h0M230.9 378.7h0M231 382.5h0M231.2 375.3h0M231.3 370.5h0M231.4 374.8h0M231.6 375.2h0M231.7 382.9h0M231.9 386.6h0M232 373.5h0M232.2 375.4h0M232.3 376.4h0M232.5 375.4h0M232.6 371.1h0M232.8 377.5h0M232.9 378.8h0M233.1 378.9h0M233.2 371.3h0M233.4 376.5h0M233.5 368.7h0M233.7 381.4h0M233.8 372.2h0M234 375.7h0M234.1 374.9h0M234.2 374.2h0M234.4 372h0M234.5 368.5h0M234.7 385.3h0M234.8 378.3h0M235 378.3h0M235.1 387.1h0M235.3 376.5h0M235.4 379.7h0M235.6 377.1h0M235.7 382.7h0M235.9 379.4h0M236 378.5h0M236.2 375.8h0M236.3 378.3h0M236.5 382.6h0M236.6 367h0M236.8 376.4h0M236.9 375h0M237 375.5h0M237.2 367.5h0M237.3 380.5h0M237.5 372.9h0M237.6 375.9h0M237.8 374.5h0M237.9 368.9h0M238.1 374.8h0M238.2 368.1h0M238.4 372.4h0M238.5 375.4h0M238.7 376.9h0M238.8 377.2h0M239 376.3h0M239.1 387.2h0M239.3 379h0M239.4 371.1h0M239.6 374h0M239.7 373.8h0M239.8 376.1h0M240 374h0M240.1 372.8h0M240.3 384.8h0M240.4 377.1h0M240.6 375.3h0M240.7 375.7h0M240.9 375.8h0M241 383.6h0M241.2 379.2h0M241.3 382.3h0M241.5 361.9h0M241.6 378.4h0M241.8 382h0M241.9 386.3h0M242.1 377h0M242.2 368.6h0M242.3 379.7h0M242.5 374h0M242.6 368.3h0M242.8 373.9h0M242.9 381.9h0M243.1 382.6h0M243.2 380.3h0M243.4 371.8h0M243.5 388.9h0M243.7 371.2h0M243.8 376.5h0M244 369.9h0M244.1 383.2h0M244.3 379h0M244.4 381.1h0M244.6 377.3h0M244.7 376.5h0M244.9 377.7h0M245 367.8h0M245.1 381.6h0M245.3 381.2h0M245.4 374.9h0M245.6 376.8h0M245.7 378.3h0M245.9 384.4h0M246 378.9h0M246.2 377h0M246.3 374.4h0M246.5 369.6h0M246.6 373.9h0M246.8 377.1h0M246.9 375.6h0M247.1 377.2h0M247.2 380.4h0M247.4 378.9h0M247.5 378.1h0M247.7 380h0M247.8 377.7h0M247.9 376.7h0M248.1 379.1h0M248.2 368.5h0M248.4 382.8h0M248.5 370.6h0M248.7 380.8h0M248.8 376.9h0M249 382.1h0M249.1 377h0M249.3 372.3h0M249.4 381.9h0M249.6 377.7h0M249.7 377.4h0M249.9 377.2h0M250 381.6h0M250.2 380.7h0M250.3 377.9h0M250.5 369.3h0M250.6 374.8h0M250.7 377.3h0M250.9 385.4h0M251 378.6h0M251.2 376.3h0M251.3 382.5h0M251.5 376.2h0M251.6 376.6h0M251.8 377.5h0M251.9 369.6h0M252.1 381.4h0M252.2 378.8h0M252.4 375.4h0M252.5 371.3h0M252.7 377.8h0M252.8 383.5h0M253 373.7h0M253.1 371.7h0M253.3 378.8h0M253.4 369.1h0M253.5 366.1h0M253.7 374.6h0M253.8 373.4h0M254 375.4h0M254.1 374.1h0M254.3 378.3h0M254.4 375.7h0M254.6 373.9h0M254.7 374.6h0M254.9 379.8h0M255 381.3h0M255.2 381.1h0M255.3 380.1h0M255.5 360.9h0M255.6 371.9h0M255.8 375.2h0M255.9 377.7h0M256 369h0M256.2 383.6h0M256.3 378.2h0M256.5 373.8h0M256.6 377.5h0M256.8 375.1h0M256.9 373.1h0M257.1 379.2h0M257.2 374.5h0M257.4 369.9h0M257.5 373.7h0M257.7 376.2h0M257.8 371.5h0M258 382.8h0M258.1 371.5h0M258.3 385.2h0M258.4 381h0M258.6 372.2h0M258.7 377.3h0M258.8 382.4h0M259 375.8h0M259.1 371h0M259.3 377.3h0M259.4 386.3h0M259.6 369.6h0M259.7 379.4h0M259.9 376.8h0M260 376.1h0M260.2 374.8h0M260.3 375.2h0M260.5 381.7h0M260.6 379.6h0M260.8 371.9h0M260.9 384.2h0M261.1 370.5h0M261.2 379.9h0M261.4 377.6h0M261.5 382.5h0M261.6 378.4h0M261.8 381.8h0M261.9 376.6h0M262.1 381.4h0M262.2 378.4h0M262.4 387h0M262.5 373.4h0M262.7 382.4h0M262.8 378.9h0M263 377.6h0M263.1 374h0M263.3 378.9h0M263.4 369.6h0M263.6 370.1h0M263.7 380.1h0M263.9 369.2h0M264 383.6h0M264.2 375.4h0M264.3 377.9h0M264.4 377.1h0M264.6 378.7h0M264.7 375.4h0M264.9 374.9h0M265 376.1h0M265.2 381.7h0M265.3 382.1h0M265.5 382.8h0M265.6 378.4h0M265.8 375.7h0M265.9 368.6h0M266.1 379.8h0M266.2 380.7h0M266.4 374.8h0M266.5 380.6h0M266.7 382.9h0M266.8 377.1h0M266.9 381.8h0M267.1 378.2h0M267.2 368.4h0M267.4 374.4h0M267.5 374.7h0M267.7 379.2h0M267.8 372.5h0M268 374.6h0M268.1 372.1h0M268.3 376.5h0M268.4 377h0M268.6 381.3h0M268.7 380.5h0M268.9 377.5h0M269 377.8h0M269.2 377.2h0M269.3 377.2h0M269.5 384.1h0M269.6 364.7h0M269.7 375.8h0M269.9 378.2h0M270 382.1h0M270.2 371.4h0M270.3 378.3h0M270.5 380.8h0M270.6 374.5h0M270.8 367.5h0M270.9 374.9h0M271.1 370.9h0M271.2 379.8h0M271.4 372.6h0M271.5 385.2h0M271.7 377.3h0M271.8 372.8h0M272 374.2h0M272.1 371.4h0M272.3 378.5h0M272.4 383.8h0M272.5 375.6h0M272.7 381.1h0M272.8 372.1h0M273 378.1h0M273.1 387.7h0M273.3 369.9h0M273.4 382.5h0M273.6 382.2h0M273.7 367.6h0M273.9 369.7h0M274 371.9h0M274.2 381.3h0M274.3 374.5h0M274.5 375.8h0M274.6 380h0M274.8 377.2h0M274.9 377.7h0M275.1 375.1h0M275.2 382h0M275.3 372.9h0M275.5 384.6h0M275.6 375h0M275.8 372.8h0M275.9 379.7h0M276.1 378.7h0M276.2 367.1h0M276.4 377.6h0M276.5 370.1h0M276.7 372.6h0M276.8 380.3h0M277 372.4h0M277.1 378.3h0M277.3 374.7h0M277.4 385.8h0M277.6 376.1h0M277.7 370.9h0M277.9 371.2h0M278 372.2h0M278.1 377.2h0M278.3 376.5h0M278.4 381.2h0M278.6 377.3h0M278.7 377.1h0M278.9 378.1h0M279 375.9h0M279.2 377.9h0M279.3 380.3h0M279.5 380.3h0M279.6 373.9h0M279.8 368h0M279.9 372.6h0M280.1 377.8h0M280.2 364.5h0M280.4 374.2h0M280.5 378.6h0M280.6 373.8h0M280.8 371.1h0M280.9 384.9h0M281.1 383.1h0M281.2 375.2h0M281.4 382.8h0M281.5 382.7h0M281.7 371h0M281.8 389.3h0M282 372h0M282.1 375.2h0M282.3 371.2h0M282.4 376.8h0M282.6 370.1h0M282.7 376.4h0M282.9 381.6h0M283 377.4h0M283.2 375.2h0M283.3 383.8h0M283.4 372.1h0M283.6 381.1h0M283.7 375h0M283.9 377.4h0M284 376.5h0M284.2 377h0M284.3 376.1h0M284.5 372.6h0M284.6 373.7h0M284.8 378.5h0M284.9 375.9h0M285.1 370.8h0M285.2 373h0M285.4 373h0M285.5 376.1h0M285.7 377.2h0M285.8 376.8h0M286 373.2h0M286.1 376.4h0M286.2 369.8h0M286.4 362.5h0M286.5 376.1h0M286.7 368.4h0M286.8 371.8h0M287 370.5h0M287.1 379.3h0M287.3 370.5h0M287.4 377.6h0M287.6 373.9h0M287.7 370.3h0M287.9 368.7h0M288 378.5h0M288.2 378.1h0M288.3 380h0M288.5 385h0M288.6 377.5h0M288.8 377.6h0M288.9 375.6h0M289 376.7h0M289.2 374.5h0M289.3 371.9h0M289.5 385.8h0M289.6 367.2h0M289.8 377.4h0M289.9 378.3h0M290.1 376.9h0M290.2 371.5h0M290.4 375.2h0M290.5 373.9h0M290.7 371h0M290.8 375.9h0M291 374.2h0M291.1 373.5h0M291.3 379.4h0M291.4 371h0M291.6 378.2h0M291.7 373.2h0M291.8 378.1h0M292 376.4h0M292.1 377.2h0M292.3 371.4h0M292.4 372.3h0M292.6 372h0M292.7 376.9h0M292.9 379.6h0M293 381.2h0M293.2 373.6h0M293.3 376.4h0M293.5 368.3h0M293.6 365.4h0M293.8 371.9h0M293.9 372.8h0M294.1 368.6h0M294.2 367.5h0M294.3 378.6h0M294.5 372.2h0M294.6 367.9h0M294.8 387.1h0M294.9 376.8h0M295.1 374.5h0M295.2 379.2h0M295.4 372.3h0M295.5 383.6h0M295.7 368.6h0M295.8 369.7h0M296 375.3h0M296.1 372.3h0M296.3 382.7h0M296.4 368.3h0M296.6 372.4h0M296.7 377.1h0M296.9 378.6h0M297 380.7h0M297.1 377.5h0M297.3 386.4h0M297.4 373.6h0M297.6 376.7h0M297.7 380h0M297.9 374.4h0M298 374.5h0M298.2 373.6h0M298.3 372.8h0M298.5 370.5h0M298.6 373.2h0M298.8 368.4h0M298.9 377.7h0M299.1 368.2h0M299.2 385.7h0M299.4 384h0M299.5 381.1h0M299.7 374.8h0M299.8 373h0M299.9 381.7h0M300.1 376.7h0M300.2 378.5h0M300.4 372.3h0M300.5 380.9h0M300.7 372h0M300.8 376.3h0M301 367.5h0M301.1 372.6h0M301.3 378.2h0M301.4 373.6h0M301.6 373.6h0M301.7 379.5h0M301.9 375.4h0M302 381.7h0M302.2 364.2h0M302.3 378.5h0M302.5 378.2h0M302.6 368.4h0M302.7 369.5h0M302.9 379.9h0M303 370.6h0M303.2 372.7h0M303.3 378.6h0M303.5 374.1h0M303.6 378h0M303.8 371.6h0M303.9 377.1h0M304.1 380.9h0M304.2 377.3h0M304.4 365.2h0M304.5 378.8h0M304.7 376h0M304.8 371.4h0M305 382.4h0M305.1 367.4h0M305.3 384.7h0M305.4 372.7h0M305.5 383.2h0M305.7 375.5h0M305.8 369.3h0M306 376.2h0M306.1 377.3h0M306.3 378.3h0M306.4 380.8h0M306.6 371.4h0M306.7 378h0M306.9 379.2h0M307 374.4h0M307.2 371.2h0M307.3 371.1h0M307.5 379.3h0M307.6 379.5h0M307.8 371.7h0M307.9 369.3h0M308 381.6h0M308.2 368.2h0M308.3 376.4h0M308.5 371.8h0M308.6 367.3h0M308.8 376.3h0M308.9 374.8h0M309.1 382.5h0M309.2 386.5h0M309.4 374.8h0M309.5 380.6h0M309.7 380.7h0M309.8 373.2h0M310 371.5h0M310.1 383.3h0M310.3 373.9h0M310.4 375.5h0M310.6 374.3h0M310.7 375h0M310.8 372.8h0M311 379.2h0M311.1 381.6h0M311.3 373.9h0M311.4 369h0M311.6 375.9h0M311.7 368.5h0M311.9 372.6h0M312 381.5h0M312.2 386.7h0M312.3 377.4h0M312.5 370.5h0M312.6 379.4h0M312.8 364.9h0M312.9 372.3h0M313.1 382.9h0M313.2 379.2h0M313.4 369h0M313.5 367.7h0M282.6 356.6h0M132.9 397.2h0M153.1 394.2h0M164.6 391.6h0M177 392.3h0M232.5 362.7h0M248.2 393.3h0M253.2 393.3h0M258.9 392.7h0M195.3 411.5h0M109.3 364.5h0M122.4 364.5h0M81.7 366h0M280.2 390.8h0M302.1 390.2h0" stroke="#00f" stroke-width="5.3" stroke-linecap="round" fill="none"/>
<path d="M77.8 377.5L78 377.5 78.1 377.5 78.2 377.5 78.4 377.5 78.5 377.5 78.7 377.5 78.8 377.5 79 377.5 79.1 377.5 79.3 377.5 79.4 377.5 79.6 377.5 79.7 377.5 79.9 377.5 80 377.5 80.2 377.5 80.3 377.5 80.5 377.5 80.6 377.5 80.7 377.5 80.9 377.5 81 377.5 81.2 377.5 81.3 377.5 81.5 377.5 81.6 377.5 81.8 377.5 81.9 377.5 82.1 377.5 82.2 377.5 82.4 377.5 82.5 377.5 82.7 377.5 82.8 377.5 83 377.5 83.1 377.5 83.3 377.5 83.4 377.5 83.5 377.5 83.7 377.5 83.8 377.5 84 377.5 84.1 377.5 84.3 377.5 84.4 377.5 84.6 377.5 84.7 377.5 84.9 377.5 85 377.5 85.2 377.5 85.3 377.5 85.5 377.5 85.6 377.5 85.8 377.5 85.9 377.5 86.1 377.5 86.2 377.5 86.3 377.5 86.5 377.5 86.6 377.5 86.8 377.5 86.9 377.5 87.1 377.5 87.2 377.5 87.4 377.5 87.5 377.5 87.7 377.5 87.8 377.5 88 377.5 88.1 377.5 88.3 377.5 88.4 377.5 88.6 377.5 88.7 377.5 88.9 377.5 89 377.5 89.1 377.5 89.3 377.5 89.4 377.5 89.6 377.5 89.7 377.5 89.9 377.5 90 377.5 90.2 377.5 90.3 377.5 90.5 377.4 90.6 377.4 90.8 377.4 90.9 377.4 91.1 377.4 91.2 377.4 91.4 377.4 91.5 377.4 91.7 377.4 91.8 377.4 91.9 377.4 92.1 377.4 92.2 377.4 92.4 377.4 92.5 377.4 92.7 377.4 92.8 377.4 93 377.4 93.1 377.4 93.3 377.4 93.4 377.4 93.6 377.4 93.7 377.4 93.9 377.4 94 377.4 94.2 377.4 94.3 377.4 94.4 377.4 94.6 377.4 94.7 377.4 94.9 377.4 95 377.4 95.2 377.4 95.3 377.4 95.5 377.4 95.6 377.4 95.8 377.4 95.9 377.4 96.1 377.4 96.2 377.4 96.4 377.4 96.5 377.4 96.7 377.4 96.8 377.4 97 377.4 97.1 377.4 97.2 377.4 97.4 377.4 97.5 377.4 97.7 377.4 97.8 377.4 98 377.4 98.1 377.4 98.3 377.4 98.4 377.4 98.6 377.4 98.7 377.4 98.9 377.4 99 377.4 99.2 377.4 99.3 377.4 99.5 377.4 99.6 377.4 99.8 377.4 99.9 377.4 100 377.4 100.2 377.4 100.3 377.4 100.5 377.4 100.6 377.4 100.8 377.4 100.9 377.4 101.1 377.4 101.2 377.4 101.4 377.4 101.5 377.4 101.7 377.4 101.8 377.4 102 377.4 102.1 377.4 102.3 377.4 102.4 377.4 102.6 377.4 102.7 377.4 102.8 377.4 103 377.4 103.1 377.4 103.3 377.4 103.4 377.4 103.6 377.4 103.7 377.4 103.9 377.4 104 377.4 104.2 377.4 104.3 377.4 104.5 377.4 104.6 377.4 104.8 377.4 104.9 377.4 105.1 377.4 105.2 377.4 105.4 377.4 105.5 377.4 105.6 377.4 105.8 377.4 105.9 377.4 106.1 377.4 106.2 377.4 106.4 377.4 106.5 377.4 106.7 377.4 106.8 377.4 107 377.4 107.1 377.4 107.3 377.4 107.4 377.4 107.6 377.4 107.7 377.4 107.9 377.4 108 377.4 108.1 377.4 108.3 377.4 108.4 377.4 108.6 377.4 108.7 377.4 108.9 377.4 109 377.4 109.2 377.4 109.3 377.4 109.5 377.4 109.6 377.4 109.8 377.4 109.9 377.4 110.1 377.4 110.2 377.4 110.4 377.4 110.5 377.4 110.7 377.4 110.8 377.4 110.9 377.4 111.1 377.4 111.2 377.4 111.4 377.4 111.5 377.4 111.7 377.4 111.8 377.4 112 377.4 112.1 377.3 112.3 377.3 112.4 377.3 112.6 377.3 112.7 377.3 112.9 377.3 113 377.3 113.2 377.3 113.3 377.3 113.5 377.3 113.6 377.3 113.7 377.3 113.9 377.3 114 377.3 114.2 377.3 114.3 377.3 114.5 377.3 114.6 377.3 114.8 377.3 114.9 377.3 115.1 377.3 115.2 377.3 115.4 377.3 115.5 377.3 115.7 377.3 115.8 377.3 116 377.3 116.1 377.3 116.3 377.3 116.4 377.3 116.5 377.3 116.7 377.3 116.8 377.3 117 377.3 117.1 377.3 117.3 377.3 117.4 377.3 117.6 377.3 117.7 377.3 117.9 377.3 118 377.3 118.2 377.3 118.3 377.3 118.5 377.3 118.6 377.3 118.8 377.3 118.9 377.3 119.1 377.3 119.2 377.3 119.3 377.3 119.5 377.3 119.6 377.3 119.8 377.3 119.9 377.3 120.1 377.3 120.2 377.3 120.4 377.3 120.5 377.3 120.7 377.3 120.8 377.3 121 377.3 121.1 377.3 121.3 377.3 121.4 377.3 121.6 377.3 121.7 377.3 121.8 377.3 122 377.3 122.1 377.3 122.3 377.3 122.4 377.3 122.6 377.3 122.7 377.3 122.9 377.3 123 377.3 123.2 377.3 123.3 377.3 123.5 377.3 123.6 377.3 123.8 377.3 123.9 377.3 124.1 377.3 124.2 377.3 124.4 377.3 124.5 377.3 124.6 377.3 124.8 377.3 124.9 377.3 125.1 377.3 125.2 377.3 125.4 377.3 125.5 377.3 125.7 377.3 125.8 377.3 126 377.3 126.1 377.3 126.3 377.3 126.4 377.3 126.6 377.3 126.7 377.3 126.9 377.3 127 377.3 127.2 377.3 127.3 377.3 127.4 377.3 127.6 377.3 127.7 377.3 127.9 377.3 128 377.3 128.2 377.3 128.3 377.3 128.5 377.3 128.6 377.3 128.8 377.3 128.9 377.3 129.1 377.3 129.2 377.3 129.4 377.3 129.5 377.3 129.7 377.3 129.8 377.3 130 377.3 130.1 377.3 130.2 377.3 130.4 377.3 130.5 377.3 130.7 377.3 130.8 377.3 131 377.3 131.1 377.3 131.3 377.3 131.4 377.3 131.6 377.3 131.7 377.3 131.9 377.3 132 377.3 132.2 377.3 132.3 377.3 132.5 377.3 132.6 377.3 132.8 377.3 132.9 377.3 133 377.3 133.2 377.3 133.3 377.3 133.5 377.3 133.6 377.3 133.8 377.3 133.9 377.3 134.1 377.3 134.2 377.3 134.4 377.3 134.5 377.3 134.7 377.3 134.8 377.3 135 377.3 135.1 377.3 135.3 377.3 135.4 377.3 135.5 377.3 135.7 377.3 135.8 377.3 136 377.3 136.1 377.3 136.3 377.3 136.4 377.3 136.6 377.3 136.7 377.3 136.9 377.3 137 377.3 137.2 377.3 137.3 377.3 137.5 377.3 137.6 377.3 137.8 377.3 137.9 377.3 138.1 377.3 138.2 377.3 138.3 377.3 138.5 377.3 138.6 377.3 138.8 377.3 138.9 377.3 139.1 377.3 139.2 377.3 139.4 377.3 139.5 377.3 139.7 377.3 139.8 377.3 140 377.3 140.1 377.3 140.3 377.3 140.4 377.3 140.6 377.3 140.7 377.3 140.9 377.3 141 377.3 141.1 377.3 141.3 377.3 141.4 377.3 141.6 377.3 141.7 377.3 141.9 377.3 142 377.3 142.2 377.3 142.3 377.3 142.5 377.3 142.6 377.3 142.8 377.3 142.9 377.3 143.1 377.3 143.2 377.3 143.4 377.3 143.5 377.3 143.7 377.3 143.8 377.3 143.9 377.3 144.1 377.4 144.2 377.4 144.4 377.4 144.5 377.4 144.7 377.4 144.8 377.4 145 377.4 145.1 377.4 145.3 377.4 145.4 377.4 145.6 377.4 145.7 377.4 145.9 377.4 146 377.4 146.2 377.4 146.3 377.4 146.5 377.4 146.6 377.4 146.7 377.4 146.9 377.4 147 377.4 147.2 377.4 147.3 377.4 147.5 377.4 147.6 377.4 147.8 377.4 147.9 377.4 148.1 377.4 148.2 377.4 148.4 377.4 148.5 377.4 148.7 377.4 148.8 377.4 149 377.4 149.1 377.4 149.2 377.4 149.4 377.4 149.5 377.4 149.7 377.4 149.8 377.4 150 377.4 150.1 377.4 150.3 377.4 150.4 377.4 150.6 377.4 150.7 377.4 150.9 377.4 151 377.4 151.2 377.4 151.3 377.4 151.5 377.4 151.6 377.4 151.8 377.4 151.9 377.4 152 377.4 152.2 377.4 152.3 377.4 152.5 377.4 152.6 377.5 152.8 377.5 152.9 377.5 153.1 377.5 153.2 377.5 153.4 377.5 153.5 377.5 153.7 377.5 153.8 377.5 154 377.5 154.1 377.5 154.3 377.5 154.4 377.5 154.6 377.5 154.7 377.5 154.8 377.5 155 377.5 155.1 377.5 155.3 377.5 155.4 377.5 155.6 377.5 155.7 377.5 155.9 377.5 156 377.5 156.2 377.5 156.3 377.5 156.5 377.5 156.6 377.5 156.8 377.5 156.9 377.5 157.1 377.5 157.2 377.6 157.4 377.6 157.5 377.6 157.6 377.6 157.8 377.6 157.9 377.6 158.1 377.6 158.2 377.6 158.4 377.6 158.5 377.6 158.7 377.6 158.8 377.6 159 377.6 159.1 377.6 159.3 377.6 159.4 377.6 159.6 377.6 159.7 377.6 159.9 377.6 160 377.6 160.1 377.6 160.3 377.6 160.4 377.7 160.6 377.7 160.7 377.7 160.9 377.7 161 377.7 161.2 377.7 161.3 377.7 161.5 377.7 161.6 377.7 161.8 377.7 161.9 377.7 162.1 377.7 162.2 377.7 162.4 377.7 162.5 377.7 162.7 377.7 162.8 377.8 162.9 377.8 163.1 377.8 163.2 377.8 163.4 377.8 163.5 377.8 163.7 377.8 163.8 377.8 164 377.8 164.1 377.8 164.3 377.8 164.4 377.8 164.6 377.8 164.7 377.9 164.9 377.9 165 377.9 165.2 377.9 165.3 377.9 165.5 377.9 165.6 377.9 165.7 377.9 165.9 377.9 166 377.9 166.2 378 166.3 378 166.5 378 166.6 378 166.8 378 166.9 378 167.1 378 167.2 378 167.4 378 167.5 378.1 167.7 378.1 167.8 378.1 168 378.1 168.1 378.1 168.3 378.1 168.4 378.1 168.5 378.1 168.7 378.2 168.8 378.2 169 378.2 169.1 378.2 169.3 378.2 169.4 378.2 169.6 378.2 169.7 378.3 169.9 378.3 170 378.3 170.2 378.3 170.3 378.3 170.5 378.3 170.6 378.4 170.8 378.4 170.9 378.4 171.1 378.4 171.2 378.4 171.3 378.4 171.5 378.5 171.6 378.5 171.8 378.5 171.9 378.5 172.1 378.5 172.2 378.6 172.4 378.6 172.5 378.6 172.7 378.6 172.8 378.6 173 378.7 173.1 378.7 173.3 378.7 173.4 378.7 173.6 378.8 173.7 378.8 173.8 378.8 174 378.8 174.1 378.9 174.3 378.9 174.4 378.9 174.6 379 174.7 379 174.9 379 175 379 175.2 379.1 175.3 379.1 175.5 379.1 175.6 379.2 175.8 379.2 175.9 379.2 176.1 379.3 176.2 379.3 176.4 379.4 176.5 379.4 176.6 379.4 176.8 379.5 176.9 379.5 177.1 379.6 177.2 379.6 177.4 379.6 177.5 379.7 177.7 379.7 177.8 379.8 178 379.8 178.1 379.9 178.3 379.9 178.4 380 178.6 380 178.7 380.1 178.9 380.1 179 380.2 179.2 380.2 179.3 380.3 179.4 380.4 179.6 380.4 179.7 380.5 179.9 380.6 180 380.6 180.2 380.7 180.3 380.8 180.5 380.8 180.6 380.9 180.8 381 180.9 381.1 181.1 381.1 181.2 381.2 181.4 381.3 181.5 381.4 181.7 381.5 181.8 381.6 182 381.7 182.1 381.8 182.2 381.9 182.4 382 182.5 382.1 182.7 382.2 182.8 382.3 183 382.4 183.1 382.5 183.3 382.6 183.4 382.7 183.6 382.9 183.7 383 183.9 383.1 184 383.3 184.2 383.4 184.3 383.6 184.5 383.7 184.6 383.9 184.8 384 184.9 384.2 185 384.3 185.2 384.5 185.3 384.7 185.5 384.9 185.6 385.1 185.8 385.2 185.9 385.4 186.1 385.6 186.2 385.8 186.4 386.1 186.5 386.3 186.7 386.5 186.8 386.7 187 387 187.1 387.2 187.3 387.5 187.4 387.7 187.5 388 187.7 388.2 187.8 388.5 188 388.8 188.1 389.1 188.3 389.4 188.4 389.7 188.6 390 188.7 390.3 188.9 390.6 189 390.9 189.2 391.2 189.3 391.5 189.5 391.9 189.6 392.2 189.8 392.5 189.9 392.9 190.1 393.2 190.2 393.6 190.3 393.9 190.5 394.2 190.6 394.6 190.8 394.9 190.9 395.3 191.1 395.6 191.2 395.9 191.4 396.2 191.5 396.5 191.7 396.8 191.8 397.1 192 397.3 192.1 397.6 192.3 397.8 192.4 398.1 192.6 398.3 192.7 398.4 192.9 398.6 193 398.7 193.1 398.9 193.3 399 193.4 399 193.6 399.1 193.7 399.1 193.9 399.1 194 399.1 194.2 399 194.3 398.9 194.5 398.8 194.6 398.7 194.8 398.6 194.9 398.4 195.1 398.2 195.2 398 195.4 397.8 195.5 397.5 195.7 397.3 195.8 397 195.9 396.7 196.1 396.4 196.2 396.1 196.4 395.8 196.5 395.5 196.7 395.2 196.8 394.8 197 394.5 197.1 394.2 197.3 393.8 197.4 393.5 197.6 393.1 197.7 392.8 197.9 392.5 198 392.1 198.2 391.8 198.3 391.4 198.5 391.1 198.6 390.8 198.7 390.5 198.9 390.2 199 389.9 199.2 389.5 199.3 389.3 199.5 389 199.6 388.7 199.8 388.4 199.9 388.1 200.1 387.9 200.2 387.6 200.4 387.3 200.5 387.1 200.7 386.8 200.8 386.6 201 386.4 201.1 386.2 201.2 385.9 201.4 385.7 201.5 385.5 201.7 385.3 201.8 385.1 202 384.9 202.1 384.7 202.3 384.6 202.4 384.4 202.6 384.2 202.7 384 202.9 383.9 203 383.7 203.2 383.6 203.3 383.4 203.5 383.3 203.6 383.1 203.8 383 203.9 382.9 204 382.7 204.2 382.6 204.3 382.5 204.5 382.3 204.6 382.2 204.8 382.1 204.9 382 205.1 381.9 205.2 381.8 205.4 381.7 205.5 381.6 205.7 381.5 205.8 381.4 206 381.3 206.1 381.2 206.3 381.1 206.4 381 206.6 381 206.7 380.9 206.8 380.8 207 380.7 207.1 380.6 207.3 380.6 207.4 380.5 207.6 380.4 207.7 380.4 207.9 380.3 208 380.2 208.2 380.2 208.3 380.1 208.5 380 208.6 380 208.8 379.9 208.9 379.9 209.1 379.8 209.2 379.8 209.4 379.7 209.5 379.7 209.6 379.6 209.8 379.6 209.9 379.5 210.1 379.5 210.2 379.4 210.4 379.4 210.5 379.3 210.7 379.3 210.8 379.2 211 379.2 211.1 379.2 211.3 379.1 211.4 379.1 211.6 379 211.7 379 211.9 379 212 378.9 212.2 378.9 212.3 378.9 212.4 378.8 212.6 378.8 212.7 378.8 212.9 378.7 213 378.7 213.2 378.7 213.3 378.6 213.5 378.6 213.6 378.6 213.8 378.5 213.9 378.5 214.1 378.5 214.2 378.5 214.4 378.4 214.5 378.4 214.7 378.4 214.8 378.4 214.9 378.3 215.1 378.3 215.2 378.3 215.4 378.3 215.5 378.2 215.7 378.2 215.8 378.2 216 378.2 216.1 378.2 216.3 378.1 216.4 378.1 216.6 378.1 216.7 378.1 216.9 378.1 217 378 217.2 378 217.3 378 217.5 378 217.6 378 217.7 377.9 217.9 377.9 218 377.9 218.2 377.9 218.3 377.9 218.5 377.9 218.6 377.8 218.8 377.8 218.9 377.8 219.1 377.8 219.2 377.8 219.4 377.8 219.5 377.7 219.7 377.7 219.8 377.7 220 377.7 220.1 377.7 220.3 377.7 220.4 377.7 220.5 377.6 220.7 377.6 220.8 377.6 221 377.6 221.1 377.6 221.3 377.6 221.4 377.6 221.6 377.6 221.7 377.5 221.9 377.5 222 377.5 222.2 377.5 222.3 377.5 222.5 377.5 222.6 377.5 222.8 377.5 222.9 377.5 223.1 377.4 223.2 377.4 223.3 377.4 223.5 377.4 223.6 377.4 223.8 377.4 223.9 377.4 224.1 377.4 224.2 377.4 224.4 377.4 224.5 377.3 224.7 377.3 224.8 377.3 225 377.3 225.1 377.3 225.3 377.3 225.4 377.3 225.6 377.3 225.7 377.3 225.9 377.3 226 377.3 226.1 377.3 226.3 377.2 226.4 377.2 226.6 377.2 226.7 377.2 226.9 377.2 227 377.2 227.2 377.2 227.3 377.2 227.5 377.2 227.6 377.2 227.8 377.2 227.9 377.2 228.1 377.2 228.2 377.1 228.4 377.1 228.5 377.1 228.6 377.1 228.8 377.1 228.9 377.1 229.1 377.1 229.2 377.1 229.4 377.1 229.5 377.1 229.7 377.1 229.8 377.1 230 377.1 230.1 377.1 230.3 377.1 230.4 377 230.6 377 230.7 377 230.9 377 231 377 231.2 377 231.3 377 231.4 377 231.6 377 231.7 377 231.9 377 232 377 232.2 377 232.3 377 232.5 377 232.6 377 232.8 377 232.9 377 233.1 376.9 233.2 376.9 233.4 376.9 233.5 376.9 233.7 376.9 233.8 376.9 234 376.9 234.1 376.9 234.2 376.9 234.4 376.9 234.5 376.9 234.7 376.9 234.8 376.9 235 376.9 235.1 376.9 235.3 376.9 235.4 376.9 235.6 376.9 235.7 376.9 235.9 376.9 236 376.9 236.2 376.8 236.3 376.8 236.5 376.8 236.6 376.8 236.8 376.8 236.9 376.8 237 376.8 237.2 376.8 237.3 376.8 237.5 376.8 237.6 376.8 237.8 376.8 237.9 376.8 238.1 376.8 238.2 376.8 238.4 376.8 238.5 376.8 238.7 376.8 238.8 376.8 239 376.8 239.1 376.8 239.3 376.8 239.4 376.8 239.6 376.8 239.7 376.8 239.8 376.8 240 376.7 240.1 376.7 240.3 376.7 240.4 376.7 240.6 376.7 240.7 376.7 240.9 376.7 241 376.7 241.2 376.7 241.3 376.7 241.5 376.7 241.6 376.7 241.8 376.7 241.9 376.7 242.1 376.7 242.2 376.7 242.3 376.7 242.5 376.7 242.6 376.7 242.8 376.7 242.9 376.7 243.1 376.7 243.2 376.7 243.4 376.7 243.5 376.7 243.7 376.7 243.8 376.7 244 376.7 244.1 376.7 244.3 376.7 244.4 376.6 244.6 376.6 244.7 376.6 244.9 376.6 245 376.6 245.1 376.6 245.3 376.6 245.4 376.6 245.6 376.6 245.7 376.6 245.9 376.6 246 376.6 246.2 376.6 246.3 376.6 246.5 376.6 246.6 376.6 246.8 376.6 246.9 376.6 247.1 376.6 247.2 376.6 247.4 376.6 247.5 376.6 247.7 376.6 247.8 376.6 247.9 376.6 248.1 376.6 248.2 376.6 248.4 376.6 248.5 376.6 248.7 376.6 248.8 376.6 249 376.6 249.1 376.6 249.3 376.6 249.4 376.6 249.6 376.6 249.7 376.6 249.9 376.5 250 376.5 250.2 376.5 250.3 376.5 250.5 376.5 250.6 376.5 250.7 376.5 250.9 376.5 251 376.5 251.2 376.5 251.3 376.5 251.5 376.5 251.6 376.5 251.8 376.5 251.9 376.5 252.1 376.5 252.2 376.5 252.4 376.5 252.5 376.5 252.7 376.5 252.8 376.5 253 376.5 253.1 376.5 253.3 376.5 253.4 376.5 253.5 376.5 253.7 376.5 253.8 376.5 254 376.5 254.1 376.5 254.3 376.5 254.4 376.5 254.6 376.5 254.7 376.5 254.9 376.5 255 376.5 255.2 376.5 255.3 376.5 255.5 376.5 255.6 376.5 255.8 376.5 255.9 376.5 256 376.5 256.2 376.5 256.3 376.5 256.5 376.4 256.6 376.4 256.8 376.4 256.9 376.4 257.1 376.4 257.2 376.4 257.4 376.4 257.5 376.4 257.7 376.4 257.8 376.4 258 376.4 258.1 376.4 258.3 376.4 258.4 376.4 258.6 376.4 258.7 376.4 258.8 376.4 259 376.4 259.1 376.4 259.3 376.4 259.4 376.4 259.6 376.4 259.7 376.4 259.9 376.4 260 376.4 260.2 376.4 260.3 376.4 260.5 376.4 260.6 376.4 260.8 376.4 260.9 376.4 261.1 376.4 261.2 376.4 261.4 376.4 261.5 376.4 261.6 376.4 261.8 376.4 261.9 376.4 262.1 376.4 262.2 376.4 262.4 376.4 262.5 376.4 262.7 376.4 262.8 376.4 263 376.4 263.1 376.4 263.3 376.4 263.4 376.4 263.6 376.4 263.7 376.4 263.9 376.4 264 376.4 264.2 376.3 264.3 376.3 264.4 376.3 264.6 376.3 264.7 376.3 264.9 376.3 265 376.3 265.2 376.3 265.3 376.3 265.5 376.3 265.6 376.3 265.8 376.3 265.9 376.3 266.1 376.3 266.2 376.3 266.4 376.3 266.5 376.3 266.7 376.3 266.8 376.3 266.9 376.3 267.1 376.3 267.2 376.3 267.4 376.3 267.5 376.3 267.7 376.3 267.8 376.3 268 376.3 268.1 376.3 268.3 376.3 268.4 376.3 268.6 376.3 268.7 376.3 268.9 376.3 269 376.3 269.2 376.3 269.3 376.3 269.5 376.3 269.6 376.3 269.7 376.3 269.9 376.3 270 376.3 270.2 376.3 270.3 376.3 270.5 376.3 270.6 376.3 270.8 376.3 270.9 376.3 271.1 376.3 271.2 376.3 271.4 376.3 271.5 376.3 271.7 376.3 271.8 376.3 272 376.3 272.1 376.3 272.3 376.3 272.4 376.3 272.5 376.3 272.7 376.3 272.8 376.3 273 376.3 273.1 376.3 273.3 376.2 273.4 376.2 273.6 376.2 273.7 376.2 273.9 376.2 274 376.2 274.2 376.2 274.3 376.2 274.5 376.2 274.6 376.2 274.8 376.2 274.9 376.2 275.1 376.2 275.2 376.2 275.3 376.2 275.5 376.2 275.6 376.2 275.8 376.2 275.9 376.2 276.1 376.2 276.2 376.2 276.4 376.2 276.5 376.2 276.7 376.2 276.8 376.2 277 376.2 277.1 376.2 277.3 376.2 277.4 376.2 277.6 376.2 277.7 376.2 277.9 376.2 278 376.2 278.1 376.2 278.3 376.2 278.4 376.2 278.6 376.2 278.7 376.2 278.9 376.2 279 376.2 279.2 376.2 279.3 376.2 279.5 376.2 279.6 376.2 279.8 376.2 279.9 376.2 280.1 376.2 280.2 376.2 280.4 376.2 280.5 376.2 280.6 376.2 280.8 376.2 280.9 376.2 281.1 376.2 281.2 376.2 281.4 376.2 281.5 376.2 281.7 376.2 281.8 376.2 282 376.2 282.1 376.2 282.3 376.2 282.4 376.2 282.6 376.2 282.7 376.2 282.9 376.2 283 376.2 283.2 376.2 283.3 376.2 283.4 376.1 283.6 376.1 283.7 376.1 283.9 376.1 284 376.1 284.2 376.1 284.3 376.1 284.5 376.1 284.6 376.1 284.8 376.1 284.9 376.1 285.1 376.1 285.2 376.1 285.4 376.1 285.5 376.1 285.7 376.1 285.8 376.1 286 376.1 286.1 376.1 286.2 376.1 286.4 376.1 286.5 376.1 286.7 376.1 286.8 376.1 287 376.1 287.1 376.1 287.3 376.1 287.4 376.1 287.6 376.1 287.7 376.1 287.9 376.1 288 376.1 288.2 376.1 288.3 376.1 288.5 376.1 288.6 376.1 288.8 376.1 288.9 376.1 289 376.1 289.2 376.1 289.3 376.1 289.5 376.1 289.6 376.1 289.8 376.1 289.9 376.1 290.1 376.1 290.2 376.1 290.4 376.1 290.5 376.1 290.7 376.1 290.8 376.1 291 376.1 291.1 376.1 291.3 376.1 291.4 376.1 291.6 376.1 291.7 376.1 291.8 376.1 292 376.1 292.1 376.1 292.3 376.1 292.4 376.1 292.6 376.1 292.7 376.1 292.9 376.1 293 376.1 293.2 376.1 293.3 376.1 293.5 376.1 293.6 376.1 293.8 376.1 293.9 376.1 294.1 376.1 294.2 376.1 294.3 376.1 294.5 376.1 294.6 376 294.8 376 294.9 376 295.1 376 295.2 376 295.4 376 295.5 376 295.7 376 295.8 376 296 376 296.1 376 296.3 376 296.4 376 296.6 376 296.7 376 296.9 376 297 376 297.1 376 297.3 376 297.4 376 297.6 376 297.7 376 297.9 376 298 376 298.2 376 298.3 376 298.5 376 298.6 376 298.8 376 298.9 376 299.1 376 299.2 376 299.4 376 299.5 376 299.7 376 299.8 376 299.9 376 300.1 376 300.2 376 300.4 376 300.5 376 300.7 376 300.8 376 301 376 301.1 376 301.3 376 301.4 376 301.6 376 301.7 376 301.9 376 302 376 302.2 376 302.3 376 302.5 376 302.6 376 302.7 376 302.9 376 303 376 303.2 376 303.3 376 303.5 376 303.6 376 303.8 376 303.9 376 304.1 376 304.2 376 304.4 376 304.5 376 304.7 376 304.8 376 305 376 305.1 376 305.3 376 305.4 376 305.5 376 305.7 376 305.8 376 306 376 306.1 376 306.3 376 306.4 376 306.6 375.9 306.7 375.9 306.9 375.9 307 375.9 307.2 375.9 307.3 375.9 307.5 375.9 307.6 375.9 307.8 375.9 307.9 375.9 308 375.9 308.2 375.9 308.3 375.9 308.5 375.9 308.6 375.9 308.8 375.9 308.9 375.9 309.1 375.9 309.2 375.9 309.4 375.9 309.5 375.9 309.7 375.9 309.8 375.9 310 375.9 310.1 375.9 310.3 375.9 310.4 375.9 310.6 375.9 310.7 375.9 310.8 375.9 311 375.9 311.1 375.9 311.3 375.9 311.4 375.9 311.6 375.9 311.7 375.9 311.9 375.9 312 375.9 312.2 375.9 312.3 375.9 312.5 375.9 312.6 375.9 312.8 375.9 312.9 375.9 313.1 375.9 313.2 375.9 313.4 375.9 313.5 375.9" stroke="#f00" stroke-width="3" stroke-linejoin="round" fill="none"/>
<g font-size="26"><text x="67.8" y="535.1" text-anchor="end">0</text><text x="67.8" y="460.9" text-anchor="end">0.5</text><path transform="translate(53.34 386.77) scale(0.01270 -0.01270)" d="M763 0L583 0L583 1147Q518 1085 412.5 1023Q307 961 223 930L223 1104Q374 1175 487 1276Q600 1377 647 1472L763 1472Z"/><text x="76.0" y="560.4" text-anchor="middle">5.46</text><text x="194.5" y="560.4" text-anchor="middle">5.462</text><text x="313.0" y="560.4" text-anchor="middle">5.464</text></g>
<rect x="418.5" y="347.5" width="236.0" height="178.0" fill="none" stroke="#262626" stroke-width="1"/>
<path d="M418.5 525.5v-3M418.5 347.5v3M536.5 525.5v-3M536.5 347.5v3M654.5 525.5v-3M654.5 347.5v3M418.5 517.4h3M654.5 517.4h-3M418.5 436.5h3M654.5 436.5h-3M418.5 355.6h3M654.5 355.6h-3" stroke="#262626" stroke-width="1" fill="none"/>
<path d="M419.8 440.8h0M419.9 441.4h0M420.1 441.9h0M420.2 441.5h0M420.4 440.9h0M420.5 439.1h0M420.7 441.6h0M420.8 441.5h0M421 441.1h0M421.1 441.1h0M421.3 440.4h0M421.4 439.8h0M421.6 441.4h0M421.7 441.6h0M421.9 439.3h0M422 441.2h0M422.1 440.6h0M422.3 441.2h0M422.4 440.6h0M422.6 441.5h0M422.7 441.4h0M422.9 441.2h0M423 439h0M423.2 441.2h0M423.3 440.4h0M423.5 439.3h0M423.6 441.1h0M423.8 439h0M423.9 441.3h0M424.1 442.1h0M424.2 439.9h0M424.3 441.3h0M424.5 440.9h0M424.6 441.1h0M424.8 439.1h0M424.9 441h0M425.1 440.6h0M425.2 441.2h0M425.4 440.4h0M425.5 441.5h0M425.7 440.7h0M425.8 441.1h0M426 441.8h0M426.1 440.6h0M426.3 441.5h0M426.4 440.7h0M426.5 441h0M426.7 440h0M426.8 441.3h0M427 441.7h0M427.1 440.4h0M427.3 441.3h0M427.4 440.9h0M427.6 439.4h0M427.7 440.9h0M427.9 441.8h0M428 440h0M428.2 438.8h0M428.3 440.7h0M428.5 439.9h0M428.6 442.4h0M428.7 440.5h0M428.9 440.6h0M429 439.9h0M429.2 440.8h0M429.3 440h0M429.5 439.7h0M429.6 440.5h0M429.8 439.8h0M429.9 441.9h0M430.1 439.4h0M430.2 440.5h0M430.4 439.9h0M430.5 439.3h0M430.7 442.2h0M430.8 438.6h0M430.9 442.1h0M431.1 439.2h0M431.2 440.7h0M431.4 442.9h0M431.5 438.6h0M431.7 439.3h0M431.8 441.9h0M432 440.8h0M432.1 440.1h0M432.3 440.6h0M432.4 439.7h0M432.6 440.8h0M432.7 442.1h0M432.9 440.3h0M433 440.8h0M433.1 441.9h0M433.3 442.7h0M433.4 440.1h0M433.6 441h0M433.7 440.2h0M433.9 440.1h0M434 440.3h0M434.2 440.1h0M434.3 439h0M434.5 438.8h0M434.6 440h0M434.8 440.9h0M434.9 441.9h0M435.1 440.2h0M435.2 440.6h0M435.3 441.4h0M435.5 441.5h0M435.6 440.7h0M435.8 440.7h0M435.9 442.6h0M436.1 440.5h0M436.2 440.3h0M436.4 439.2h0M436.5 441.2h0M436.7 440.6h0M436.8 442.7h0M437 440.5h0M437.1 441.6h0M437.3 441.8h0M437.4 442.5h0M437.5 439.6h0M437.7 442.4h0M437.8 440.9h0M438 440.8h0M438.1 440.6h0M438.3 440.5h0M438.4 440.5h0M438.6 438.6h0M438.7 441.4h0M438.9 441h0M439 440h0M439.2 440.8h0M439.3 443.2h0M439.5 441.3h0M439.6 440.5h0M439.7 442.6h0M439.9 440.2h0M440 440.8h0M440.2 440.4h0M440.3 440.7h0M440.5 441.7h0M440.6 441.5h0M440.8 440.3h0M440.9 440.8h0M441.1 441.1h0M441.2 440.6h0M441.4 441h0M441.5 440.3h0M441.7 440.3h0M441.8 441h0M441.9 440h0M442.1 441.4h0M442.2 440.8h0M442.4 440.1h0M442.5 440.4h0M442.7 440.6h0M442.8 440.9h0M443 441.2h0M443.1 440.9h0M443.3 440.2h0M443.4 442.5h0M443.6 442h0M443.7 441.2h0M443.9 442h0M444 441.4h0M444.1 440.8h0M444.3 441.2h0M444.4 443.7h0M444.6 442.1h0M444.7 442.1h0M444.9 440.7h0M445 441.7h0M445.2 443.3h0M445.3 441.6h0M445.5 442.2h0M445.6 442.4h0M445.8 441.8h0M445.9 442.7h0M446.1 441.4h0M446.2 441.7h0M446.3 440.6h0M446.5 443.8h0M446.6 441.5h0M446.8 441.3h0M446.9 442.6h0M447.1 440.7h0M447.2 441.2h0M447.4 440.5h0M447.5 441.3h0M447.7 440.9h0M447.8 441.8h0M448 441.1h0M448.1 440.7h0M448.3 441h0M448.4 441.2h0M448.5 440.8h0M448.7 442.2h0M448.8 441.9h0M449 441.4h0M449.1 440.2h0M449.3 441.8h0M449.4 440.1h0M449.6 441.5h0M449.7 441.4h0M449.9 440.8h0M450 440.5h0M450.2 440.7h0M450.3 443.3h0M450.5 441.1h0M450.6 441.2h0M450.7 442.3h0M450.9 441.8h0M451 442.4h0M451.2 440.2h0M451.3 440.4h0M451.5 444.6h0M451.6 441.4h0M451.8 441.1h0M451.9 441.6h0M452.1 442.4h0M452.2 440.3h0M452.4 441.7h0M452.5 441.4h0M452.7 442.1h0M452.8 441.6h0M452.9 441h0M453.1 440.7h0M453.2 439.1h0M453.4 442.4h0M453.5 440.1h0M453.7 441.1h0M453.8 443.1h0M454 441.1h0M454.1 442.1h0M454.3 441.3h0M454.4 442.2h0M454.6 441.6h0M454.7 441.1h0M454.9 442.9h0M455 441.3h0M455.1 440.3h0M455.3 441.3h0M455.4 442.1h0M455.6 440.5h0M455.7 442.4h0M455.9 442.4h0M456 443.7h0M456.2 441h0M456.3 442.3h0M456.5 440.1h0M456.6 441.3h0M456.8 441.8h0M456.9 442.1h0M457.1 441.6h0M457.2 441.6h0M457.4 441.1h0M457.5 441.3h0M457.6 442h0M457.8 442.3h0M457.9 442.4h0M458.1 442.7h0M458.2 442.9h0M458.4 440h0M458.5 441.3h0M458.7 441.6h0M458.8 441.2h0M459 442.8h0M459.1 442.5h0M459.3 441.7h0M459.4 441.9h0M459.6 443h0M459.7 441.5h0M459.8 441.5h0M460 442.7h0M460.1 442.3h0M460.3 443.2h0M460.4 442.2h0M460.6 442.6h0M460.7 441.4h0M460.9 441h0M461 441.9h0M461.2 439.4h0M461.3 442.3h0M461.5 442.9h0M461.6 442h0M461.8 441.7h0M461.9 443h0M462 441.9h0M462.2 442.9h0M462.3 444.1h0M462.5 442.7h0M462.6 442.9h0M462.8 442.5h0M462.9 442.3h0M463.1 442.3h0M463.2 442.1h0M463.4 443.1h0M463.5 440.5h0M463.7 441.8h0M463.8 442.7h0M464 441.3h0M464.1 442h0M464.2 441.4h0M464.4 442.5h0M464.5 443h0M464.7 443.5h0M464.8 442.6h0M465 441.5h0M465.1 442.4h0M465.3 442.7h0M465.4 443.5h0M465.6 440.1h0M465.7 442.6h0M465.9 440.5h0M466 442.9h0M466.2 442.7h0M466.3 442.7h0M466.4 443.1h0M466.6 442.6h0M466.7 441.7h0M466.9 442.6h0M467 443.4h0M467.2 442.2h0M467.3 442.3h0M467.5 441.2h0M467.6 443.4h0M467.8 441.9h0M467.9 441.6h0M468.1 441.9h0M468.2 441.5h0M468.4 442.1h0M468.5 443.6h0M468.6 443.2h0M468.8 443.8h0M468.9 443.8h0M469.1 441.6h0M469.2 442.9h0M469.4 443.9h0M469.5 444.7h0M469.7 441.1h0M469.8 441.1h0M470 442.9h0M470.1 442.2h0M470.3 441.6h0M470.4 442.9h0M470.6 441.8h0M470.7 440.4h0M470.8 442.5h0M471 442.7h0M471.1 443.2h0M471.3 443.5h0M471.4 442.8h0M471.6 442.4h0M471.7 442h0M471.9 441.1h0M472 442.2h0M472.2 443.6h0M472.3 443.3h0M472.5 444.6h0M472.6 442.5h0M472.8 441h0M472.9 443.5h0M473 443.7h0M473.2 441.6h0M473.3 441.2h0M473.5 442.9h0M473.6 443.5h0M473.8 441.7h0M473.9 442.5h0M474.1 442.1h0M474.2 441.7h0M474.4 441.6h0M474.5 443h0M474.7 442.5h0M474.8 442.2h0M475 440.4h0M475.1 444.6h0M475.2 442h0M475.4 442.8h0M475.5 441.8h0M475.7 443.3h0M475.8 441.5h0M476 443.1h0M476.1 442.8h0M476.3 443.9h0M476.4 442h0M476.6 442.4h0M476.7 442.8h0M476.9 445h0M477 441.7h0M477.2 443.4h0M477.3 442.5h0M477.4 443.4h0M477.6 443.7h0M477.7 443.3h0M477.9 443.4h0M478 443.4h0M478.2 442.6h0M478.3 443h0M478.5 441.6h0M478.6 442.9h0M478.8 442.5h0M478.9 443h0M479.1 444h0M479.2 443.6h0M479.4 443.7h0M479.5 444.3h0M479.6 441h0M479.8 443.7h0M479.9 443.3h0M480.1 443.3h0M480.2 442.1h0M480.4 443.9h0M480.5 444.5h0M480.7 444.4h0M480.8 443.3h0M481 444h0M481.1 444.3h0M481.3 445.2h0M481.4 444.7h0M481.6 443.6h0M481.7 443.6h0M481.8 443.7h0M482 443.8h0M482.1 443.1h0M482.3 444.3h0M482.4 442.9h0M482.6 442.8h0M482.7 444h0M482.9 443.1h0M483 443.4h0M483.2 441.7h0M483.3 444.4h0M483.5 443.7h0M483.6 443.6h0M483.8 444.2h0M483.9 444h0M484 443.1h0M484.2 445.7h0M484.3 443.4h0M484.5 444.7h0M484.6 445.6h0M484.8 443.3h0M484.9 444h0M485.1 443.1h0M485.2 444.9h0M485.4 443.6h0M485.5 442.9h0M485.7 445.2h0M485.8 444.9h0M486 443.1h0M486.1 445.1h0M486.2 444.2h0M486.4 446.6h0M486.5 445.7h0M486.7 443.6h0M486.8 443.8h0M487 443.3h0M487.1 444.3h0M487.3 444.2h0M487.4 444.9h0M487.6 444.3h0M487.7 442.8h0M487.9 443.5h0M488 445.6h0M488.2 445.4h0M488.3 444.1h0M488.4 444.2h0M488.6 444.2h0M488.7 444.4h0M488.9 442.8h0M489 445.2h0M489.2 443.8h0M489.3 444.6h0M489.5 442h0M489.6 444.7h0M489.8 445.8h0M489.9 442.4h0M490.1 446h0M490.2 445h0M490.4 443.9h0M490.5 443.1h0M490.6 445.7h0M490.8 444.9h0M490.9 445.2h0M491.1 444.4h0M491.2 444h0M491.4 445.6h0M491.5 443.8h0M491.7 445.6h0M491.8 443.2h0M492 443.9h0M492.1 443.5h0M492.3 446.1h0M492.4 443.2h0M492.6 443.8h0M492.7 445.6h0M492.8 445.2h0M493 447.1h0M493.1 446.8h0M493.3 445.6h0M493.4 445.7h0M493.6 443.3h0M493.7 444.3h0M493.9 444.8h0M494 445h0M494.2 443.9h0M494.3 444.3h0M494.5 444.4h0M494.6 446.3h0M494.8 445.7h0M494.9 445h0M495 445.1h0M495.2 445.7h0M495.3 444.7h0M495.5 445.2h0M495.6 443.8h0M495.8 446.1h0M495.9 446.4h0M496.1 445.9h0M496.2 446h0M496.4 445.9h0M496.5 447.6h0M496.7 445.8h0M496.8 444.4h0M497 444.7h0M497.1 446.4h0M497.2 446.8h0M497.4 446.5h0M497.5 446.6h0M497.7 446h0M497.8 444.5h0M498 445.2h0M498.1 444.2h0M498.3 445.6h0M498.4 444.7h0M498.6 446.1h0M498.7 445.9h0M498.9 444.2h0M499 446.8h0M499.2 446.9h0M499.3 444.9h0M499.4 446.4h0M499.6 446.9h0M499.7 446h0M499.9 447.1h0M500 446.5h0M500.2 447.4h0M500.3 446.6h0M500.5 446.3h0M500.6 447h0M500.8 447.3h0M500.9 446.8h0M501.1 446.2h0M501.2 445.9h0M501.4 446.3h0M501.5 446.2h0M501.7 446.9h0M501.8 446.9h0M501.9 446.7h0M502.1 446.8h0M502.2 447.1h0M502.4 448.4h0M502.5 448.1h0M502.7 446.4h0M502.8 447.4h0M503 446.8h0M503.1 447h0M503.3 446.9h0M503.4 446.6h0M503.6 445.9h0M503.7 444.9h0M503.9 447.5h0M504 448.5h0M504.1 446.5h0M504.3 447.9h0M504.4 447.1h0M504.6 447.8h0M504.7 446.8h0M504.9 447.4h0M505 447.6h0M505.2 445.4h0M505.3 448h0M505.5 447.7h0M505.6 445.5h0M505.8 448.5h0M505.9 447.9h0M506.1 448.2h0M506.2 448.4h0M506.3 447.7h0M506.5 447.1h0M506.6 447.8h0M506.8 447.8h0M506.9 450.4h0M507.1 450.1h0M507.2 447.9h0M507.4 448h0M507.5 448.8h0M507.7 449.1h0M507.8 447.9h0M508 447.7h0M508.1 450.6h0M508.3 449.8h0M508.4 447.3h0M508.5 447.2h0M508.7 448.1h0M508.8 449.2h0M509 449.6h0M509.1 448.8h0M509.3 447.6h0M509.4 449.4h0M509.6 449.8h0M509.7 449.3h0M509.9 448.9h0M510 450h0M510.2 449.5h0M510.3 448.5h0M510.5 449.7h0M510.6 448.4h0M510.7 450.7h0M510.9 450.3h0M511 448.9h0M511.2 450.2h0M511.3 451.2h0M511.5 448h0M511.6 450h0M511.8 451.8h0M511.9 448.8h0M512.1 450.2h0M512.2 449.1h0M512.4 450.5h0M512.5 448.3h0M512.7 449.1h0M512.8 450.2h0M512.9 451h0M513.1 451.3h0M513.2 451.4h0M513.4 452.2h0M513.5 451.8h0M513.7 451.9h0M513.8 450.4h0M514 451.2h0M514.1 454.6h0M514.3 453.8h0M514.4 452.5h0M514.6 452.5h0M514.7 452.8h0M514.9 451.5h0M515 453.9h0M515.1 451.7h0M515.3 452.1h0M515.4 454.4h0M515.6 450.3h0M515.7 452.8h0M515.9 450.9h0M516 452h0M516.2 452.7h0M516.3 452.5h0M516.5 453.2h0M516.6 452.3h0M516.8 453.1h0M516.9 452.1h0M517.1 453h0M517.2 452.2h0M517.3 454.3h0M517.5 452.5h0M517.6 454.6h0M517.8 453.6h0M517.9 453.8h0M518.1 455.4h0M518.2 454.5h0M518.4 452.6h0M518.5 455.1h0M518.7 451.9h0M518.8 455.1h0M519 454.6h0M519.1 453.7h0M519.3 455.3h0M519.4 455.1h0M519.5 457.5h0M519.7 455.2h0M519.8 457.7h0M520 457.3h0M520.1 455.5h0M520.3 455.5h0M520.4 457.7h0M520.6 456.4h0M520.7 456.9h0M520.9 456.6h0M521 455.9h0M521.2 456.9h0M521.3 456.5h0M521.5 456.1h0M521.6 457.5h0M521.7 459.7h0M521.9 459.7h0M522 458.2h0M522.2 458.6h0M522.3 459.2h0M522.5 460.2h0M522.6 459.4h0M522.8 458.8h0M522.9 459.1h0M523.1 460.8h0M523.2 462.5h0M523.4 459.5h0M523.5 458.3h0M523.7 461.4h0M523.8 460.7h0M523.9 461.2h0M524.1 462.5h0M524.2 461.6h0M524.4 460.4h0M524.5 460h0M524.7 462.2h0M524.8 461.4h0M525 463.1h0M525.1 461.8h0M525.3 463h0M525.4 462.1h0M525.6 463.5h0M525.7 463.8h0M525.9 465.1h0M526 466.1h0M526.1 464.9h0M526.3 464.6h0M526.4 467.7h0M526.6 466.5h0M526.7 467.1h0M526.9 467.4h0M527 468.6h0M527.2 468.5h0M527.3 468.6h0M527.5 469h0M527.6 467.8h0M527.8 468.5h0M527.9 469.4h0M528.1 470h0M528.2 470.3h0M528.3 471.1h0M528.5 471.2h0M528.6 471.2h0M528.8 470.5h0M528.9 473.4h0M529.1 473.7h0M529.2 472.7h0M529.4 474.6h0M529.5 475h0M529.7 475.3h0M529.8 473.9h0M530 475.1h0M530.1 476.3h0M530.3 479.1h0M530.4 477.2h0M530.5 478.4h0M530.7 478.2h0M530.8 479.5h0M531 481h0M531.1 479.3h0M531.3 479.2h0M531.4 483.4h0M531.6 483.5h0M531.7 483.7h0M531.9 486h0M532 486.8h0M532.2 484.5h0M532.3 487.3h0M532.5 489.4h0M532.6 488.5h0M532.7 489.7h0M532.9 491.9h0M533 491.6h0M533.2 491.6h0M533.3 493.1h0M533.5 493.4h0M533.6 496.3h0M533.8 495h0M533.9 498.8h0M534.1 497.2h0M534.2 499.9h0M534.4 499.5h0M534.5 501.8h0M534.7 504.2h0M534.8 505.5h0M534.9 506.8h0M535.1 506.6h0M535.2 508h0M535.4 509.3h0M535.5 510.9h0M535.7 511.1h0M535.8 513.8h0M536 514.2h0M536.1 516.3h0M536.3 516.9h0M536.4 356.5h0M536.6 356.4h0M536.7 357.9h0M536.9 358.3h0M537 360.6h0M537.1 362h0M537.3 364.2h0M537.4 363.4h0M537.6 369.1h0M537.7 367h0M537.9 369.6h0M538 370.6h0M538.2 368.2h0M538.3 371.6h0M538.5 374.5h0M538.6 371.8h0M538.8 376.1h0M538.9 375.6h0M539.1 377.1h0M539.2 378.9h0M539.3 377.9h0M539.5 381h0M539.6 381.1h0M539.8 382.1h0M539.9 384.5h0M540.1 388.3h0M540.2 386h0M540.4 387.2h0M540.5 387.5h0M540.7 387.7h0M540.8 389.5h0M541 391.6h0M541.1 391.1h0M541.3 392.6h0M541.4 392.3h0M541.5 395.8h0M541.7 392.4h0M541.8 395.3h0M542 396h0M542.1 396.4h0M542.3 395.7h0M542.4 396.3h0M542.6 397.9h0M542.7 398.8h0M542.9 398.1h0M543 398.9h0M543.2 401.1h0M543.3 402.1h0M543.5 401.1h0M543.6 401.5h0M543.7 402h0M543.9 405.7h0M544 404.2h0M544.2 404.1h0M544.3 405.7h0M544.5 407.5h0M544.6 406.8h0M544.8 404.6h0M544.9 406.4h0M545.1 406.5h0M545.2 407h0M545.4 406.5h0M545.5 407.7h0M545.7 407.4h0M545.8 409.2h0M546 409.3h0M546.1 408.2h0M546.2 408.2h0M546.4 409.8h0M546.5 411.3h0M546.7 411.5h0M546.8 411.2h0M547 408.3h0M547.1 411.4h0M547.3 411.5h0M547.4 412.2h0M547.6 411.6h0M547.7 412.6h0M547.9 412.7h0M548 416.4h0M548.2 414.6h0M548.3 414h0M548.4 414.4h0M548.6 414.6h0M548.7 415.1h0M548.9 414.8h0M549 415.4h0M549.2 416.7h0M549.3 416.7h0M549.5 416.4h0M549.6 417.6h0M549.8 416.7h0M549.9 415.7h0M550.1 415.2h0M550.2 416.4h0M550.4 417.3h0M550.5 417.9h0M550.6 418.8h0M550.8 417.3h0M550.9 417.3h0M551.1 419.1h0M551.2 419.7h0M551.4 418.2h0M551.5 419.2h0M551.7 420.4h0M551.8 419.5h0M552 419.3h0M552.1 417.4h0M552.3 421h0M552.4 420.5h0M552.6 420.1h0M552.7 419.6h0M552.8 419h0M553 420.3h0M553.1 420.5h0M553.3 421.8h0M553.4 419.6h0M553.6 422.4h0M553.7 421.2h0M553.9 422.4h0M554 420.4h0M554.2 421.9h0M554.3 422.9h0M554.5 421.9h0M554.6 420.4h0M554.8 421.7h0M554.9 422.7h0M555 420.9h0M555.2 420.9h0M555.3 422.7h0M555.5 421.7h0M555.6 423.4h0M555.8 421.7h0M555.9 421.1h0M556.1 422.3h0M556.2 424.7h0M556.4 422.4h0M556.5 423.4h0M556.7 423.7h0M556.8 422.6h0M557 424.8h0M557.1 424h0M557.2 424.3h0M557.4 422.3h0M557.5 422.3h0M557.7 421.4h0M557.8 424.1h0M558 424.1h0M558.1 425.2h0M558.3 426h0M558.4 424.4h0M558.6 424.4h0M558.7 425.2h0M558.9 426.4h0M559 424.1h0M559.2 425.7h0M559.3 424.9h0M559.4 424.9h0M559.6 426.1h0M559.7 424.6h0M559.9 424.4h0M560 426.2h0M560.2 425.6h0M560.3 425.4h0M560.5 425.6h0M560.6 426.3h0M560.8 425.5h0M560.9 426.7h0M561.1 426.5h0M561.2 427.6h0M561.4 427.4h0M561.5 427.1h0M561.6 426.1h0M561.8 426.5h0M561.9 425.9h0M562.1 429.4h0M562.2 426.4h0M562.4 427.2h0M562.5 428.1h0M562.7 425.4h0M562.8 426h0M563 426.5h0M563.1 426h0M563.3 425.7h0M563.4 426.6h0M563.6 428.4h0M563.7 427.9h0M563.8 427.3h0M564 427.3h0M564.1 425.7h0M564.3 428.1h0M564.4 427.9h0M564.6 426.5h0M564.7 427.8h0M564.9 427.5h0M565 427.2h0M565.2 426.8h0M565.3 427.1h0M565.5 426.9h0M565.6 428.4h0M565.8 428.3h0M565.9 428.3h0M566 427.9h0M566.2 427.7h0M566.3 430.2h0M566.5 426.4h0M566.6 429.5h0M566.8 428.7h0M566.9 428.4h0M567.1 427.9h0M567.2 428.2h0M567.4 427.3h0M567.5 427.2h0M567.7 428.5h0M567.8 427h0M568 429.5h0M568.1 429.8h0M568.2 425.3h0M568.4 427.3h0M568.5 429.1h0M568.7 429.1h0M568.8 429.1h0M569 429.4h0M569.1 429.8h0M569.3 429.9h0M569.4 430.9h0M569.6 429.2h0M569.7 430.1h0M569.9 427.6h0M570 429.1h0M570.2 428.1h0M570.3 430.7h0M570.4 431.7h0M570.6 430h0M570.7 428.2h0M570.9 429.4h0M571 429.6h0M571.2 429.8h0M571.3 430.7h0M571.5 430.6h0M571.6 427h0M571.8 431.1h0M571.9 429.3h0M572.1 429.2h0M572.2 431.2h0M572.4 429.6h0M572.5 428.5h0M572.6 428.6h0M572.8 430h0M572.9 430.9h0M573.1 431.5h0M573.2 429.9h0M573.4 429.6h0M573.5 431.8h0M573.7 429.7h0M573.8 431.7h0M574 430.5h0M574.1 430.5h0M574.3 430.1h0M574.4 430.6h0M574.6 429.9h0M574.7 429.7h0M574.8 430.3h0M575 429.8h0M575.1 430.8h0M575.3 430.6h0M575.4 430.3h0M575.6 430.4h0M575.7 430.4h0M575.9 432.4h0M576 430.6h0M576.2 430.1h0M576.3 430.4h0M576.5 431.4h0M576.6 430.6h0M576.8 430.6h0M576.9 430.6h0M577 431h0M577.2 431.3h0M577.3 431.3h0M577.5 429.3h0M577.6 429.9h0M577.8 428.4h0M577.9 431.8h0M578.1 432.1h0M578.2 432.4h0M578.4 431.2h0M578.5 432.3h0M578.7 431.1h0M578.8 431h0M579 429.6h0M579.1 430.4h0M579.2 430.6h0M579.4 432.2h0M579.5 432.9h0M579.7 430.8h0M579.8 431.7h0M580 431.6h0M580.1 430.6h0M580.3 429.7h0M580.4 430.7h0M580.6 430h0M580.7 431.2h0M580.9 431.4h0M581 431.3h0M581.2 431.4h0M581.3 432.1h0M581.4 430.7h0M581.6 432.5h0M581.7 430h0M581.9 431.7h0M582 432.1h0M582.2 430.9h0M582.3 430.1h0M582.5 432.4h0M582.6 431.1h0M582.8 432.6h0M582.9 432.6h0M583.1 431.8h0M583.2 431.8h0M583.4 432.9h0M583.5 432.3h0M583.6 431h0M583.8 432.1h0M583.9 432.5h0M584.1 432.2h0M584.2 432.2h0M584.4 431.9h0M584.5 431.9h0M584.7 431.1h0M584.8 430.6h0M585 433.2h0M585.1 431.5h0M585.3 432.4h0M585.4 430.7h0M585.6 432.3h0M585.7 431.4h0M585.8 435.2h0M586 431.2h0M586.1 431.3h0M586.3 433.2h0M586.4 433.4h0M586.6 430.2h0M586.7 432.6h0M586.9 433.2h0M587 431.1h0M587.2 433.1h0M587.3 431.9h0M587.5 431.4h0M587.6 432.1h0M587.8 432h0M587.9 431.1h0M588 434.7h0M588.2 432h0M588.3 431.8h0M588.5 433.4h0M588.6 432.5h0M588.8 433.9h0M588.9 432.3h0M589.1 432.9h0M589.2 432.7h0M589.4 432.8h0M589.5 432.4h0M589.7 432.6h0M589.8 434.3h0M590 432h0M590.1 432.2h0M590.3 432.4h0M590.4 433.3h0M590.5 433.2h0M590.7 433.7h0M590.8 431.5h0M591 433.1h0M591.1 432.6h0M591.3 432.6h0M591.4 433h0M591.6 430.9h0M591.7 433.2h0M591.9 433h0M592 431.5h0M592.2 432.8h0M592.3 434.5h0M592.5 432.6h0M592.6 433.6h0M592.7 432.8h0M592.9 432.2h0M593 432.1h0M593.2 432.6h0M593.3 434.3h0M593.5 433.9h0M593.6 432.4h0M593.8 434.1h0M593.9 433h0M594.1 432.4h0M594.2 433.6h0M594.4 432.2h0M594.5 431.6h0M594.7 434.5h0M594.8 431.4h0M594.9 433.7h0M595.1 431.7h0M595.2 433.2h0M595.4 433h0M595.5 432.8h0M595.7 431.1h0M595.8 433.2h0M596 433.3h0M596.1 432.4h0M596.3 433.3h0M596.4 434.3h0M596.6 432.6h0M596.7 433.6h0M596.9 432.2h0M597 433.8h0M597.1 434h0M597.3 435.9h0M597.4 434.3h0M597.6 433.9h0M597.7 434.8h0M597.9 432.5h0M598 434.5h0M598.2 433h0M598.3 432.9h0M598.5 434.6h0M598.6 433.8h0M598.8 434.8h0M598.9 432.1h0M599.1 433.8h0M599.2 433.1h0M599.3 433.3h0M599.5 431.7h0M599.6 434.5h0M599.8 433.8h0M599.9 432.7h0M600.1 432.3h0M600.2 432.8h0M600.4 435.1h0M600.5 433.6h0M600.7 433.4h0M600.8 434.2h0M601 433.7h0M601.1 434h0M601.3 434.5h0M601.4 434.1h0M601.5 434.6h0M601.7 432.6h0M601.8 433.9h0M602 433.5h0M602.1 433.9h0M602.3 433.8h0M602.4 433.2h0M602.6 433.5h0M602.7 434.8h0M602.9 433.3h0M603 432.7h0M603.2 434.5h0M603.3 434.9h0M603.5 433.7h0M603.6 434.1h0M603.7 433.1h0M603.9 433.8h0M604 435h0M604.2 434.8h0M604.3 434.1h0M604.5 433.7h0M604.6 432.4h0M604.8 434.3h0M604.9 434.5h0M605.1 435.1h0M605.2 436h0M605.4 434.4h0M605.5 435h0M605.7 433h0M605.8 435.3h0M605.9 435h0M606.1 435.4h0M606.2 434.8h0M606.4 434.6h0M606.5 435.6h0M606.7 433.5h0M606.8 434.8h0M607 435.2h0M607.1 433.4h0M607.3 433.1h0M607.4 434.6h0M607.6 434.3h0M607.7 434.8h0M607.9 434.9h0M608 433.5h0M608.1 434.6h0M608.3 435.4h0M608.4 433.9h0M608.6 434h0M608.7 433.2h0M608.9 435.1h0M609 436.2h0M609.2 433h0M609.3 435.1h0M609.5 435.2h0M609.6 433.8h0M609.8 434h0M609.9 433.4h0M610.1 433.6h0M610.2 434.5h0M610.3 435h0M610.5 434.5h0M610.6 435.2h0M610.8 434.6h0M610.9 433.3h0M611.1 435.9h0M611.2 435.6h0M611.4 433.8h0M611.5 436.2h0M611.7 434.9h0M611.8 434.6h0M612 436.4h0M612.1 432.1h0M612.3 433h0M612.4 435.2h0M612.5 434.3h0M612.7 433.6h0M612.8 436h0M613 435h0M613.1 433.3h0M613.3 433.9h0M613.4 435.4h0M613.6 436.3h0M613.7 432.7h0M613.9 434.9h0M614 434.2h0M614.2 432.9h0M614.3 434.5h0M614.5 433.1h0M614.6 434.1h0M614.7 436.2h0M614.9 435.2h0M615 435.4h0M615.2 435.3h0M615.3 435h0M615.5 435.7h0M615.6 433.6h0M615.8 434.4h0M615.9 435.6h0M616.1 434h0M616.2 434.3h0M616.4 435.9h0M616.5 436.3h0M616.7 434.2h0M616.8 434h0M616.9 435.4h0M617.1 435.1h0M617.2 434.1h0M617.4 435.4h0M617.5 435.4h0M617.7 434.9h0M617.8 437.7h0M618 436.2h0M618.1 435.6h0M618.3 435.9h0M618.4 437.8h0M618.6 435.9h0M618.7 434.2h0M618.9 435.2h0M619 435h0M619.1 434.3h0M619.3 435.2h0M619.4 435.2h0M619.6 434.9h0M619.7 434.5h0M619.9 435.8h0M620 433.4h0M620.2 435.8h0M620.3 435h0M620.5 435.2h0M620.6 432.7h0M620.8 436.6h0M620.9 433.3h0M621.1 434.2h0M621.2 435.6h0M621.3 434.4h0M621.5 434.6h0M621.6 432.8h0M621.8 434.6h0M621.9 435.2h0M622.1 435.7h0M622.2 434.8h0M622.4 435.3h0M622.5 435.5h0M622.7 434.4h0M622.8 434.3h0M623 437h0M623.1 434.3h0M623.3 436.3h0M623.4 435.2h0M623.5 436.6h0M623.7 434.5h0M623.8 435.6h0M624 435.5h0M624.1 434.9h0M624.3 435.5h0M624.4 434.4h0M624.6 435.1h0M624.7 434.8h0M624.9 435.9h0M625 435.1h0M625.2 433.8h0M625.3 434.8h0M625.5 435.1h0M625.6 434.3h0M625.7 436.5h0M625.9 435.6h0M626 436.1h0M626.2 434.5h0M626.3 434.8h0M626.5 436.2h0M626.6 433.8h0M626.8 435.6h0M626.9 435.4h0M627.1 434.8h0M627.2 435.4h0M627.4 434.2h0M627.5 435.5h0M627.7 434.1h0M627.8 434h0M627.9 436.7h0M628.1 434.6h0M628.2 433.2h0M628.4 436.3h0M628.5 434.6h0M628.7 431.9h0M628.8 435.3h0M629 436.3h0M629.1 435.7h0M629.3 437h0M629.4 435.2h0M629.6 436h0M629.7 434.4h0M629.9 435.5h0M630 436.9h0M630.1 435.9h0M630.3 435.6h0M630.4 433.5h0M630.6 435h0M630.7 434.2h0M630.9 436.2h0M631 434.7h0M631.2 435.8h0M631.3 434.5h0M631.5 437.3h0M631.6 434.3h0M631.8 435.6h0M631.9 438h0M632.1 435.7h0M632.2 434.6h0M632.3 436.1h0M632.5 436.5h0M632.6 436.3h0M632.8 433.6h0M632.9 435.7h0M633.1 433.4h0M633.2 437.4h0M633.4 435.6h0M633.5 435.1h0M633.7 436.2h0M633.8 436h0M634 434.4h0M634.1 437.1h0M634.3 435.3h0M634.4 433.8h0M634.6 436.9h0M634.7 437.1h0M634.8 436.8h0M635 436.1h0M635.1 434.7h0M635.3 436.5h0M635.4 437.4h0M635.6 436.4h0M635.7 437.2h0M635.9 434.8h0M636 436.6h0M636.2 436.5h0M636.3 434.2h0M636.5 434h0M636.6 434.9h0M636.8 435.7h0M636.9 436.1h0M637 435.4h0M637.2 435.6h0M637.3 435.6h0M637.5 435.8h0M637.6 436.3h0M637.8 436.2h0M637.9 435.6h0M638.1 435.9h0M638.2 435.2h0M638.4 436.5h0M638.5 435.2h0M638.7 437.3h0M638.8 435.7h0M639 436h0M639.1 435h0M639.2 435.4h0M639.4 435.9h0M639.5 435.8h0M639.7 435.1h0M639.8 434.6h0M640 435.8h0M640.1 435.9h0M640.3 436.3h0M640.4 437h0M640.6 435.5h0M640.7 433.8h0M640.9 435.6h0M641 434h0M641.2 434.5h0M641.3 436.8h0M641.4 436.4h0M641.6 435.2h0M641.7 435.2h0M641.9 435.7h0M642 434.1h0M642.2 436.3h0M642.3 435.5h0M642.5 437.7h0M642.6 434.8h0M642.8 436.8h0M642.9 435.2h0M643.1 436.9h0M643.2 434.9h0M643.4 436.6h0M643.5 435.4h0M643.6 435.1h0M643.8 435.7h0M643.9 436.4h0M644.1 436.3h0M644.2 437.5h0M644.4 436.7h0M644.5 433.3h0M644.7 435.5h0M644.8 433.9h0M645 435.5h0M645.1 436.5h0M645.3 434.6h0M645.4 434.8h0M645.6 436.1h0M645.7 435.7h0M645.8 437.5h0M646 436.3h0M646.1 436.5h0M646.3 437.7h0M646.4 435.5h0M646.6 436h0M646.7 435h0M646.9 436.2h0M647 437h0M647.2 437.3h0M647.3 436h0M647.5 435.3h0M647.6 435.2h0M647.8 434.6h0M647.9 436.1h0M648 437.4h0M648.2 433.7h0M648.3 433.9h0M648.5 437.4h0M648.6 434.4h0M648.8 436.4h0M648.9 434.8h0M649.1 436.8h0M649.2 436.8h0M649.4 436.2h0M649.5 436.9h0M649.7 436.1h0M649.8 436.6h0M650 437.9h0M650.1 437.2h0M650.2 435.4h0M650.4 435.3h0M650.5 435.9h0M650.7 435.9h0M650.8 436.2h0M651 435.5h0M651.1 436.8h0M651.3 436.1h0M651.4 436.5h0M651.6 436.1h0M651.7 436.7h0M651.9 434.9h0M652 437.7h0M652.2 436.5h0M652.3 436.6h0M652.4 436.8h0M652.6 437.2h0M652.7 436.9h0M652.9 436.4h0M653 436h0M653.2 434.5h0M653.3 436.4h0M653.5 435.9h0M653.6 435.9h0M653.8 438.6h0M653.9 434.3h0M654.1 436.3h0M654.2 437.4h0M654.4 437.2h0M654.5 437.4h0" stroke="#00f" stroke-width="5.3" stroke-linecap="round" fill="none"/>
<path d="M419.8 440.3L419.9 440.3 420.1 440.3 420.2 440.3 420.4 440.3 420.5 440.3 420.7 440.3 420.8 440.3 421 440.3 421.1 440.3 421.3 440.3 421.4 440.3 421.6 440.3 421.7 440.3 421.9 440.3 422 440.3 422.1 440.3 422.3 440.3 422.4 440.3 422.6 440.3 422.7 440.3 422.9 440.3 423 440.4 423.2 440.4 423.3 440.4 423.5 440.4 423.6 440.4 423.8 440.4 423.9 440.4 424.1 440.4 424.2 440.4 424.3 440.4 424.5 440.4 424.6 440.4 424.8 440.4 424.9 440.4 425.1 440.4 425.2 440.4 425.4 440.4 425.5 440.4 425.7 440.4 425.8 440.4 426 440.4 426.1 440.4 426.3 440.4 426.4 440.4 426.5 440.5 426.7 440.5 426.8 440.5 427 440.5 427.1 440.5 427.3 440.5 427.4 440.5 427.6 440.5 427.7 440.5 427.9 440.5 428 440.5 428.2 440.5 428.3 440.5 428.5 440.5 428.6 440.5 428.7 440.5 428.9 440.5 429 440.5 429.2 440.5 429.3 440.5 429.5 440.5 429.6 440.5 429.8 440.6 429.9 440.6 430.1 440.6 430.2 440.6 430.4 440.6 430.5 440.6 430.7 440.6 430.8 440.6 430.9 440.6 431.1 440.6 431.2 440.6 431.4 440.6 431.5 440.6 431.7 440.6 431.8 440.6 432 440.6 432.1 440.6 432.3 440.6 432.4 440.6 432.6 440.6 432.7 440.6 432.9 440.7 433 440.7 433.1 440.7 433.3 440.7 433.4 440.7 433.6 440.7 433.7 440.7 433.9 440.7 434 440.7 434.2 440.7 434.3 440.7 434.5 440.7 434.6 440.7 434.8 440.7 434.9 440.7 435.1 440.7 435.2 440.7 435.3 440.7 435.5 440.7 435.6 440.7 435.8 440.8 435.9 440.8 436.1 440.8 436.2 440.8 436.4 440.8 436.5 440.8 436.7 440.8 436.8 440.8 437 440.8 437.1 440.8 437.3 440.8 437.4 440.8 437.5 440.8 437.7 440.8 437.8 440.8 438 440.8 438.1 440.8 438.3 440.8 438.4 440.8 438.6 440.9 438.7 440.9 438.9 440.9 439 440.9 439.2 440.9 439.3 440.9 439.5 440.9 439.6 440.9 439.7 440.9 439.9 440.9 440 440.9 440.2 440.9 440.3 440.9 440.5 440.9 440.6 440.9 440.8 440.9 440.9 440.9 441.1 440.9 441.2 441 441.4 441 441.5 441 441.7 441 441.8 441 441.9 441 442.1 441 442.2 441 442.4 441 442.5 441 442.7 441 442.8 441 443 441 443.1 441 443.3 441 443.4 441 443.6 441 443.7 441 443.9 441.1 444 441.1 444.1 441.1 444.3 441.1 444.4 441.1 444.6 441.1 444.7 441.1 444.9 441.1 445 441.1 445.2 441.1 445.3 441.1 445.5 441.1 445.6 441.1 445.8 441.1 445.9 441.1 446.1 441.1 446.2 441.2 446.3 441.2 446.5 441.2 446.6 441.2 446.8 441.2 446.9 441.2 447.1 441.2 447.2 441.2 447.4 441.2 447.5 441.2 447.7 441.2 447.8 441.2 448 441.2 448.1 441.2 448.3 441.2 448.4 441.2 448.5 441.3 448.7 441.3 448.8 441.3 449 441.3 449.1 441.3 449.3 441.3 449.4 441.3 449.6 441.3 449.7 441.3 449.9 441.3 450 441.3 450.2 441.3 450.3 441.3 450.5 441.3 450.6 441.3 450.7 441.4 450.9 441.4 451 441.4 451.2 441.4 451.3 441.4 451.5 441.4 451.6 441.4 451.8 441.4 451.9 441.4 452.1 441.4 452.2 441.4 452.4 441.4 452.5 441.4 452.7 441.4 452.8 441.4 452.9 441.5 453.1 441.5 453.2 441.5 453.4 441.5 453.5 441.5 453.7 441.5 453.8 441.5 454 441.5 454.1 441.5 454.3 441.5 454.4 441.5 454.6 441.5 454.7 441.5 454.9 441.6 455 441.6 455.1 441.6 455.3 441.6 455.4 441.6 455.6 441.6 455.7 441.6 455.9 441.6 456 441.6 456.2 441.6 456.3 441.6 456.5 441.6 456.6 441.6 456.8 441.6 456.9 441.7 457.1 441.7 457.2 441.7 457.4 441.7 457.5 441.7 457.6 441.7 457.8 441.7 457.9 441.7 458.1 441.7 458.2 441.7 458.4 441.7 458.5 441.7 458.7 441.8 458.8 441.8 459 441.8 459.1 441.8 459.3 441.8 459.4 441.8 459.6 441.8 459.7 441.8 459.8 441.8 460 441.8 460.1 441.8 460.3 441.8 460.4 441.9 460.6 441.9 460.7 441.9 460.9 441.9 461 441.9 461.2 441.9 461.3 441.9 461.5 441.9 461.6 441.9 461.8 441.9 461.9 441.9 462 441.9 462.2 442 462.3 442 462.5 442 462.6 442 462.8 442 462.9 442 463.1 442 463.2 442 463.4 442 463.5 442 463.7 442 463.8 442.1 464 442.1 464.1 442.1 464.2 442.1 464.4 442.1 464.5 442.1 464.7 442.1 464.8 442.1 465 442.1 465.1 442.1 465.3 442.1 465.4 442.2 465.6 442.2 465.7 442.2 465.9 442.2 466 442.2 466.2 442.2 466.3 442.2 466.4 442.2 466.6 442.2 466.7 442.2 466.9 442.3 467 442.3 467.2 442.3 467.3 442.3 467.5 442.3 467.6 442.3 467.8 442.3 467.9 442.3 468.1 442.3 468.2 442.3 468.4 442.4 468.5 442.4 468.6 442.4 468.8 442.4 468.9 442.4 469.1 442.4 469.2 442.4 469.4 442.4 469.5 442.4 469.7 442.4 469.8 442.5 470 442.5 470.1 442.5 470.3 442.5 470.4 442.5 470.6 442.5 470.7 442.5 470.8 442.5 471 442.5 471.1 442.6 471.3 442.6 471.4 442.6 471.6 442.6 471.7 442.6 471.9 442.6 472 442.6 472.2 442.6 472.3 442.6 472.5 442.7 472.6 442.7 472.8 442.7 472.9 442.7 473 442.7 473.2 442.7 473.3 442.7 473.5 442.7 473.6 442.8 473.8 442.8 473.9 442.8 474.1 442.8 474.2 442.8 474.4 442.8 474.5 442.8 474.7 442.8 474.8 442.9 475 442.9 475.1 442.9 475.2 442.9 475.4 442.9 475.5 442.9 475.7 442.9 475.8 442.9 476 443 476.1 443 476.3 443 476.4 443 476.6 443 476.7 443 476.9 443 477 443 477.2 443.1 477.3 443.1 477.4 443.1 477.6 443.1 477.7 443.1 477.9 443.1 478 443.1 478.2 443.2 478.3 443.2 478.5 443.2 478.6 443.2 478.8 443.2 478.9 443.2 479.1 443.2 479.2 443.3 479.4 443.3 479.5 443.3 479.6 443.3 479.8 443.3 479.9 443.3 480.1 443.3 480.2 443.4 480.4 443.4 480.5 443.4 480.7 443.4 480.8 443.4 481 443.4 481.1 443.4 481.3 443.5 481.4 443.5 481.6 443.5 481.7 443.5 481.8 443.5 482 443.5 482.1 443.6 482.3 443.6 482.4 443.6 482.6 443.6 482.7 443.6 482.9 443.6 483 443.6 483.2 443.7 483.3 443.7 483.5 443.7 483.6 443.7 483.8 443.7 483.9 443.7 484 443.8 484.2 443.8 484.3 443.8 484.5 443.8 484.6 443.8 484.8 443.8 484.9 443.9 485.1 443.9 485.2 443.9 485.4 443.9 485.5 443.9 485.7 444 485.8 444 486 444 486.1 444 486.2 444 486.4 444 486.5 444.1 486.7 444.1 486.8 444.1 487 444.1 487.1 444.1 487.3 444.2 487.4 444.2 487.6 444.2 487.7 444.2 487.9 444.2 488 444.3 488.2 444.3 488.3 444.3 488.4 444.3 488.6 444.3 488.7 444.4 488.9 444.4 489 444.4 489.2 444.4 489.3 444.4 489.5 444.5 489.6 444.5 489.8 444.5 489.9 444.5 490.1 444.5 490.2 444.6 490.4 444.6 490.5 444.6 490.6 444.6 490.8 444.6 490.9 444.7 491.1 444.7 491.2 444.7 491.4 444.7 491.5 444.8 491.7 444.8 491.8 444.8 492 444.8 492.1 444.9 492.3 444.9 492.4 444.9 492.6 444.9 492.7 444.9 492.8 445 493 445 493.1 445 493.3 445 493.4 445.1 493.6 445.1 493.7 445.1 493.9 445.1 494 445.2 494.2 445.2 494.3 445.2 494.5 445.2 494.6 445.3 494.8 445.3 494.9 445.3 495 445.3 495.2 445.4 495.3 445.4 495.5 445.4 495.6 445.5 495.8 445.5 495.9 445.5 496.1 445.5 496.2 445.6 496.4 445.6 496.5 445.6 496.7 445.6 496.8 445.7 497 445.7 497.1 445.7 497.2 445.8 497.4 445.8 497.5 445.8 497.7 445.9 497.8 445.9 498 445.9 498.1 445.9 498.3 446 498.4 446 498.6 446 498.7 446.1 498.9 446.1 499 446.1 499.2 446.2 499.3 446.2 499.4 446.2 499.6 446.3 499.7 446.3 499.9 446.3 500 446.4 500.2 446.4 500.3 446.4 500.5 446.5 500.6 446.5 500.8 446.5 500.9 446.6 501.1 446.6 501.2 446.6 501.4 446.7 501.5 446.7 501.7 446.8 501.8 446.8 501.9 446.8 502.1 446.9 502.2 446.9 502.4 446.9 502.5 447 502.7 447 502.8 447.1 503 447.1 503.1 447.1 503.3 447.2 503.4 447.2 503.6 447.3 503.7 447.3 503.9 447.3 504 447.4 504.1 447.4 504.3 447.5 504.4 447.5 504.6 447.6 504.7 447.6 504.9 447.6 505 447.7 505.2 447.7 505.3 447.8 505.5 447.8 505.6 447.9 505.8 447.9 505.9 448 506.1 448 506.2 448.1 506.3 448.1 506.5 448.2 506.6 448.2 506.8 448.3 506.9 448.3 507.1 448.4 507.2 448.4 507.4 448.5 507.5 448.5 507.7 448.6 507.8 448.6 508 448.7 508.1 448.7 508.3 448.8 508.4 448.8 508.5 448.9 508.7 448.9 508.8 449 509 449.1 509.1 449.1 509.3 449.2 509.4 449.2 509.6 449.3 509.7 449.4 509.9 449.4 510 449.5 510.2 449.5 510.3 449.6 510.5 449.7 510.6 449.7 510.7 449.8 510.9 449.9 511 449.9 511.2 450 511.3 450.1 511.5 450.1 511.6 450.2 511.8 450.3 511.9 450.3 512.1 450.4 512.2 450.5 512.4 450.6 512.5 450.6 512.7 450.7 512.8 450.8 512.9 450.9 513.1 450.9 513.2 451 513.4 451.1 513.5 451.2 513.7 451.3 513.8 451.3 514 451.4 514.1 451.5 514.3 451.6 514.4 451.7 514.6 451.8 514.7 451.9 514.9 451.9 515 452 515.1 452.1 515.3 452.2 515.4 452.3 515.6 452.4 515.7 452.5 515.9 452.6 516 452.7 516.2 452.8 516.3 452.9 516.5 453 516.6 453.1 516.8 453.2 516.9 453.3 517.1 453.4 517.2 453.6 517.3 453.7 517.5 453.8 517.6 453.9 517.8 454 517.9 454.1 518.1 454.3 518.2 454.4 518.4 454.5 518.5 454.6 518.7 454.8 518.8 454.9 519 455 519.1 455.2 519.3 455.3 519.4 455.4 519.5 455.6 519.7 455.7 519.8 455.9 520 456 520.1 456.1 520.3 456.3 520.4 456.5 520.6 456.6 520.7 456.8 520.9 456.9 521 457.1 521.2 457.3 521.3 457.4 521.5 457.6 521.6 457.8 521.7 458 521.9 458.1 522 458.3 522.2 458.5 522.3 458.7 522.5 458.9 522.6 459.1 522.8 459.3 522.9 459.5 523.1 459.7 523.2 459.9 523.4 460.1 523.5 460.4 523.7 460.6 523.8 460.8 523.9 461 524.1 461.3 524.2 461.5 524.4 461.8 524.5 462 524.7 462.3 524.8 462.5 525 462.8 525.1 463.1 525.3 463.4 525.4 463.6 525.6 463.9 525.7 464.2 525.9 464.5 526 464.8 526.1 465.1 526.3 465.5 526.4 465.8 526.6 466.1 526.7 466.5 526.9 466.8 527 467.2 527.2 467.5 527.3 467.9 527.5 468.3 527.6 468.7 527.8 469.1 527.9 469.5 528.1 469.9 528.2 470.3 528.3 470.8 528.5 471.2 528.6 471.7 528.8 472.2 528.9 472.6 529.1 473.1 529.2 473.6 529.4 474.1 529.5 474.7 529.7 475.2 529.8 475.8 530 476.3 530.1 476.9 530.3 477.5 530.4 478.1 530.5 478.7 530.7 479.4 530.8 480 531 480.7 531.1 481.4 531.3 482.1 531.4 482.8 531.6 483.5 531.7 484.3 531.9 485.1 532 485.9 532.2 486.7 532.3 487.5 532.5 488.3 532.6 489.2 532.7 490.1 532.9 491 533 491.9 533.2 492.8 533.3 493.8 533.5 494.8 533.6 495.8 533.8 496.8 533.9 497.8 534.1 498.9 534.2 499.9 534.4 501 534.5 502.1 534.7 503.2 534.8 504.4 534.9 505.5 535.1 506.7 535.2 507.9 535.4 509.1 535.5 510.3 535.7 511.5 535.8 512.7 536 513.9 536.1 515.2 536.3 516.4 536.4 355.9 536.6 357.1 536.7 358.4 536.9 359.6 537 360.9 537.1 362.2 537.3 363.4 537.4 364.6 537.6 365.9 537.7 367.1 537.9 368.3 538 369.5 538.2 370.7 538.3 371.9 538.5 373.1 538.6 374.2 538.8 375.4 538.9 376.5 539.1 377.6 539.2 378.7 539.3 379.8 539.5 380.8 539.6 381.8 539.8 382.8 539.9 383.8 540.1 384.8 540.2 385.7 540.4 386.6 540.5 387.5 540.7 388.4 540.8 389.3 541 390.1 541.1 391 541.3 391.8 541.4 392.5 541.5 393.3 541.7 394.1 541.8 394.8 542 395.5 542.1 396.2 542.3 396.9 542.4 397.5 542.6 398.2 542.7 398.8 542.9 399.4 543 400 543.2 400.6 543.3 401.1 543.5 401.7 543.6 402.2 543.7 402.7 543.9 403.3 544 403.8 544.2 404.2 544.3 404.7 544.5 405.2 544.6 405.6 544.8 406.1 544.9 406.5 545.1 406.9 545.2 407.4 545.4 407.8 545.5 408.2 545.7 408.5 545.8 408.9 546 409.3 546.1 409.6 546.2 410 546.4 410.3 546.5 410.7 546.7 411 546.8 411.3 547 411.6 547.1 412 547.3 412.3 547.4 412.5 547.6 412.8 547.7 413.1 547.9 413.4 548 413.7 548.2 413.9 548.3 414.2 548.4 414.5 548.6 414.7 548.7 415 548.9 415.2 549 415.4 549.2 415.7 549.3 415.9 549.5 416.1 549.6 416.3 549.8 416.6 549.9 416.8 550.1 417 550.2 417.2 550.4 417.4 550.5 417.6 550.6 417.8 550.8 418 550.9 418.1 551.1 418.3 551.2 418.5 551.4 418.7 551.5 418.9 551.7 419 551.8 419.2 552 419.4 552.1 419.5 552.3 419.7 552.4 419.8 552.6 420 552.7 420.2 552.8 420.3 553 420.5 553.1 420.6 553.3 420.7 553.4 420.9 553.6 421 553.7 421.2 553.9 421.3 554 421.4 554.2 421.6 554.3 421.7 554.5 421.8 554.6 421.9 554.8 422.1 554.9 422.2 555 422.3 555.2 422.4 555.3 422.5 555.5 422.7 555.6 422.8 555.8 422.9 555.9 423 556.1 423.1 556.2 423.2 556.4 423.3 556.5 423.4 556.7 423.5 556.8 423.6 557 423.7 557.1 423.8 557.2 423.9 557.4 424 557.5 424.1 557.7 424.2 557.8 424.3 558 424.4 558.1 424.5 558.3 424.6 558.4 424.7 558.6 424.7 558.7 424.8 558.9 424.9 559 425 559.2 425.1 559.3 425.2 559.4 425.2 559.6 425.3 559.7 425.4 559.9 425.5 560 425.6 560.2 425.6 560.3 425.7 560.5 425.8 560.6 425.9 560.8 425.9 560.9 426 561.1 426.1 561.2 426.1 561.4 426.2 561.5 426.3 561.6 426.3 561.8 426.4 561.9 426.5 562.1 426.5 562.2 426.6 562.4 426.7 562.5 426.7 562.7 426.8 562.8 426.9 563 426.9 563.1 427 563.3 427.1 563.4 427.1 563.6 427.2 563.7 427.2 563.8 427.3 564 427.3 564.1 427.4 564.3 427.5 564.4 427.5 564.6 427.6 564.7 427.6 564.9 427.7 565 427.7 565.2 427.8 565.3 427.8 565.5 427.9 565.6 427.9 565.8 428 565.9 428 566 428.1 566.2 428.1 566.3 428.2 566.5 428.2 566.6 428.3 566.8 428.3 566.9 428.4 567.1 428.4 567.2 428.5 567.4 428.5 567.5 428.6 567.7 428.6 567.8 428.7 568 428.7 568.1 428.8 568.2 428.8 568.4 428.8 568.5 428.9 568.7 428.9 568.8 429 569 429 569.1 429.1 569.3 429.1 569.4 429.1 569.6 429.2 569.7 429.2 569.9 429.3 570 429.3 570.2 429.3 570.3 429.4 570.4 429.4 570.6 429.5 570.7 429.5 570.9 429.5 571 429.6 571.2 429.6 571.3 429.6 571.5 429.7 571.6 429.7 571.8 429.7 571.9 429.8 572.1 429.8 572.2 429.9 572.4 429.9 572.5 429.9 572.6 430 572.8 430 572.9 430 573.1 430.1 573.2 430.1 573.4 430.1 573.5 430.2 573.7 430.2 573.8 430.2 574 430.3 574.1 430.3 574.3 430.3 574.4 430.3 574.6 430.4 574.7 430.4 574.8 430.4 575 430.5 575.1 430.5 575.3 430.5 575.4 430.6 575.6 430.6 575.7 430.6 575.9 430.6 576 430.7 576.2 430.7 576.3 430.7 576.5 430.8 576.6 430.8 576.8 430.8 576.9 430.8 577 430.9 577.2 430.9 577.3 430.9 577.5 431 577.6 431 577.8 431 577.9 431 578.1 431.1 578.2 431.1 578.4 431.1 578.5 431.1 578.7 431.2 578.8 431.2 579 431.2 579.1 431.2 579.2 431.3 579.4 431.3 579.5 431.3 579.7 431.3 579.8 431.4 580 431.4 580.1 431.4 580.3 431.4 580.4 431.5 580.6 431.5 580.7 431.5 580.9 431.5 581 431.5 581.2 431.6 581.3 431.6 581.4 431.6 581.6 431.6 581.7 431.7 581.9 431.7 582 431.7 582.2 431.7 582.3 431.7 582.5 431.8 582.6 431.8 582.8 431.8 582.9 431.8 583.1 431.9 583.2 431.9 583.4 431.9 583.5 431.9 583.6 431.9 583.8 432 583.9 432 584.1 432 584.2 432 584.4 432 584.5 432.1 584.7 432.1 584.8 432.1 585 432.1 585.1 432.1 585.3 432.2 585.4 432.2 585.6 432.2 585.7 432.2 585.8 432.2 586 432.3 586.1 432.3 586.3 432.3 586.4 432.3 586.6 432.3 586.7 432.3 586.9 432.4 587 432.4 587.2 432.4 587.3 432.4 587.5 432.4 587.6 432.5 587.8 432.5 587.9 432.5 588 432.5 588.2 432.5 588.3 432.5 588.5 432.6 588.6 432.6 588.8 432.6 588.9 432.6 589.1 432.6 589.2 432.6 589.4 432.7 589.5 432.7 589.7 432.7 589.8 432.7 590 432.7 590.1 432.7 590.3 432.8 590.4 432.8 590.5 432.8 590.7 432.8 590.8 432.8 591 432.8 591.1 432.9 591.3 432.9 591.4 432.9 591.6 432.9 591.7 432.9 591.9 432.9 592 432.9 592.2 433 592.3 433 592.5 433 592.6 433 592.7 433 592.9 433 593 433 593.2 433.1 593.3 433.1 593.5 433.1 593.6 433.1 593.8 433.1 593.9 433.1 594.1 433.1 594.2 433.2 594.4 433.2 594.5 433.2 594.7 433.2 594.8 433.2 594.9 433.2 595.1 433.2 595.2 433.3 595.4 433.3 595.5 433.3 595.7 433.3 595.8 433.3 596 433.3 596.1 433.3 596.3 433.4 596.4 433.4 596.6 433.4 596.7 433.4 596.9 433.4 597 433.4 597.1 433.4 597.3 433.4 597.4 433.5 597.6 433.5 597.7 433.5 597.9 433.5 598 433.5 598.2 433.5 598.3 433.5 598.5 433.5 598.6 433.6 598.8 433.6 598.9 433.6 599.1 433.6 599.2 433.6 599.3 433.6 599.5 433.6 599.6 433.6 599.8 433.6 599.9 433.7 600.1 433.7 600.2 433.7 600.4 433.7 600.5 433.7 600.7 433.7 600.8 433.7 601 433.7 601.1 433.8 601.3 433.8 601.4 433.8 601.5 433.8 601.7 433.8 601.8 433.8 602 433.8 602.1 433.8 602.3 433.8 602.4 433.9 602.6 433.9 602.7 433.9 602.9 433.9 603 433.9 603.2 433.9 603.3 433.9 603.5 433.9 603.6 433.9 603.7 433.9 603.9 434 604 434 604.2 434 604.3 434 604.5 434 604.6 434 604.8 434 604.9 434 605.1 434 605.2 434.1 605.4 434.1 605.5 434.1 605.7 434.1 605.8 434.1 605.9 434.1 606.1 434.1 606.2 434.1 606.4 434.1 606.5 434.1 606.7 434.2 606.8 434.2 607 434.2 607.1 434.2 607.3 434.2 607.4 434.2 607.6 434.2 607.7 434.2 607.9 434.2 608 434.2 608.1 434.2 608.3 434.3 608.4 434.3 608.6 434.3 608.7 434.3 608.9 434.3 609 434.3 609.2 434.3 609.3 434.3 609.5 434.3 609.6 434.3 609.8 434.3 609.9 434.4 610.1 434.4 610.2 434.4 610.3 434.4 610.5 434.4 610.6 434.4 610.8 434.4 610.9 434.4 611.1 434.4 611.2 434.4 611.4 434.4 611.5 434.5 611.7 434.5 611.8 434.5 612 434.5 612.1 434.5 612.3 434.5 612.4 434.5 612.5 434.5 612.7 434.5 612.8 434.5 613 434.5 613.1 434.5 613.3 434.6 613.4 434.6 613.6 434.6 613.7 434.6 613.9 434.6 614 434.6 614.2 434.6 614.3 434.6 614.5 434.6 614.6 434.6 614.7 434.6 614.9 434.6 615 434.7 615.2 434.7 615.3 434.7 615.5 434.7 615.6 434.7 615.8 434.7 615.9 434.7 616.1 434.7 616.2 434.7 616.4 434.7 616.5 434.7 616.7 434.7 616.8 434.7 616.9 434.8 617.1 434.8 617.2 434.8 617.4 434.8 617.5 434.8 617.7 434.8 617.8 434.8 618 434.8 618.1 434.8 618.3 434.8 618.4 434.8 618.6 434.8 618.7 434.8 618.9 434.8 619 434.9 619.1 434.9 619.3 434.9 619.4 434.9 619.6 434.9 619.7 434.9 619.9 434.9 620 434.9 620.2 434.9 620.3 434.9 620.5 434.9 620.6 434.9 620.8 434.9 620.9 434.9 621.1 435 621.2 435 621.3 435 621.5 435 621.6 435 621.8 435 621.9 435 622.1 435 622.2 435 622.4 435 622.5 435 622.7 435 622.8 435 623 435 623.1 435.1 623.3 435.1 623.4 435.1 623.5 435.1 623.7 435.1 623.8 435.1 624 435.1 624.1 435.1 624.3 435.1 624.4 435.1 624.6 435.1 624.7 435.1 624.9 435.1 625 435.1 625.2 435.1 625.3 435.1 625.5 435.2 625.6 435.2 625.7 435.2 625.9 435.2 626 435.2 626.2 435.2 626.3 435.2 626.5 435.2 626.6 435.2 626.8 435.2 626.9 435.2 627.1 435.2 627.2 435.2 627.4 435.2 627.5 435.2 627.7 435.2 627.8 435.3 627.9 435.3 628.1 435.3 628.2 435.3 628.4 435.3 628.5 435.3 628.7 435.3 628.8 435.3 629 435.3 629.1 435.3 629.3 435.3 629.4 435.3 629.6 435.3 629.7 435.3 629.9 435.3 630 435.3 630.1 435.3 630.3 435.4 630.4 435.4 630.6 435.4 630.7 435.4 630.9 435.4 631 435.4 631.2 435.4 631.3 435.4 631.5 435.4 631.6 435.4 631.8 435.4 631.9 435.4 632.1 435.4 632.2 435.4 632.3 435.4 632.5 435.4 632.6 435.4 632.8 435.5 632.9 435.5 633.1 435.5 633.2 435.5 633.4 435.5 633.5 435.5 633.7 435.5 633.8 435.5 634 435.5 634.1 435.5 634.3 435.5 634.4 435.5 634.6 435.5 634.7 435.5 634.8 435.5 635 435.5 635.1 435.5 635.3 435.5 635.4 435.5 635.6 435.6 635.7 435.6 635.9 435.6 636 435.6 636.2 435.6 636.3 435.6 636.5 435.6 636.6 435.6 636.8 435.6 636.9 435.6 637 435.6 637.2 435.6 637.3 435.6 637.5 435.6 637.6 435.6 637.8 435.6 637.9 435.6 638.1 435.6 638.2 435.6 638.4 435.6 638.5 435.7 638.7 435.7 638.8 435.7 639 435.7 639.1 435.7 639.2 435.7 639.4 435.7 639.5 435.7 639.7 435.7 639.8 435.7 640 435.7 640.1 435.7 640.3 435.7 640.4 435.7 640.6 435.7 640.7 435.7 640.9 435.7 641 435.7 641.2 435.7 641.3 435.7 641.4 435.8 641.6 435.8 641.7 435.8 641.9 435.8 642 435.8 642.2 435.8 642.3 435.8 642.5 435.8 642.6 435.8 642.8 435.8 642.9 435.8 643.1 435.8 643.2 435.8 643.4 435.8 643.5 435.8 643.6 435.8 643.8 435.8 643.9 435.8 644.1 435.8 644.2 435.8 644.4 435.8 644.5 435.8 644.7 435.9 644.8 435.9 645 435.9 645.1 435.9 645.3 435.9 645.4 435.9 645.6 435.9 645.7 435.9 645.8 435.9 646 435.9 646.1 435.9 646.3 435.9 646.4 435.9 646.6 435.9 646.7 435.9 646.9 435.9 647 435.9 647.2 435.9 647.3 435.9 647.5 435.9 647.6 435.9 647.8 435.9 647.9 436 648 436 648.2 436 648.3 436 648.5 436 648.6 436 648.8 436 648.9 436 649.1 436 649.2 436 649.4 436 649.5 436 649.7 436 649.8 436 650 436 650.1 436 650.2 436 650.4 436 650.5 436 650.7 436 650.8 436 651 436 651.1 436 651.3 436 651.4 436.1 651.6 436.1 651.7 436.1 651.9 436.1 652 436.1 652.2 436.1 652.3 436.1 652.4 436.1 652.6 436.1 652.7 436.1 652.9 436.1 653 436.1 653.2 436.1 653.3 436.1 653.5 436.1 653.6 436.1 653.8 436.1 653.9 436.1 654.1 436.1 654.2 436.1 654.4 436.1 654.5 436.1" stroke="#f00" stroke-width="3" stroke-linejoin="round" fill="none"/>
<g font-size="26"><path transform="translate(395.34 527.01) scale(0.01270 -0.01270)" d="M763 0L583 0L583 1147Q518 1085 412.5 1023Q307 961 223 930L223 1104Q374 1175 487 1276Q600 1377 647 1472L763 1472Z"/><rect x="387.20" y="519.08" width="6.99" height="2.03"/><text x="409.8" y="446.1" text-anchor="end">0</text><path transform="translate(395.34 365.19) scale(0.01270 -0.01270)" d="M763 0L583 0L583 1147Q518 1085 412.5 1023Q307 961 223 930L223 1104Q374 1175 487 1276Q600 1377 647 1472L763 1472Z"/><text x="418.0" y="560.4" text-anchor="middle">5.46</text><text x="536.0" y="560.4" text-anchor="middle">5.462</text><text x="654.0" y="560.4" text-anchor="middle">5.464</text></g>
<text x="111.3" y="297.8" font-family="Liberation Serif" font-style="italic" font-size="27.5">ω</text><text x="130.7" y="310.8" font-size="22.8">pr</text><text x="151.4" y="297" font-size="29.0">/2</text><text transform="translate(175.5 297.5) scale(1.02 0.9)" font-family="Liberation Serif" font-style="italic" font-size="29.0">π</text><text x="200.18" y="297" font-size="29.3">(GHz)</text>
<text x="453.1" y="297.8" font-family="Liberation Serif" font-style="italic" font-size="27.5">ω</text><text x="472.5" y="310.8" font-size="22.8">pr</text><text x="493.20000000000005" y="297" font-size="29.0">/2</text><text transform="translate(517.3 297.5) scale(1.02 0.9)" font-family="Liberation Serif" font-style="italic" font-size="29.0">π</text><text x="541.98" y="297" font-size="29.3">(GHz)</text>
<text x="111.3" y="597.8" font-family="Liberation Serif" font-style="italic" font-size="27.5">ω</text><text x="130.7" y="610.8" font-size="22.8">pr</text><text x="151.4" y="597" font-size="29.0">/2</text><text transform="translate(175.5 597.5) scale(1.02 0.9)" font-family="Liberation Serif" font-style="italic" font-size="29.0">π</text><text x="200.18" y="597" font-size="29.3">(GHz)</text>
<text x="453.1" y="597.8" font-family="Liberation Serif" font-style="italic" font-size="27.5">ω</text><text x="472.5" y="610.8" font-size="22.8">pr</text><text x="493.20000000000005" y="597" font-size="29.0">/2</text><text transform="translate(517.3 597.5) scale(1.02 0.9)" font-family="Liberation Serif" font-style="italic" font-size="29.0">π</text><text x="541.98" y="597" font-size="29.3">(GHz)</text>
<text transform="translate(19.8 149) rotate(-90)" font-size="29.0">|<tspan font-style="italic">r</tspan>|</text>
<text transform="translate(19.8 449) rotate(-90)" font-size="29.0">|<tspan font-style="italic">r</tspan>|</text>
<text transform="translate(376.4 186.4) rotate(-90)" font-size="29.0">Arg(<tspan font-style="italic">r</tspan>)</text><path d="M376.2 110.4L376.2 112.8L355.5 104.2L355.5 101.8Z"/><text transform="translate(376.4 101.1) rotate(-90) scale(1.03 0.88)" font-family="Liberation Serif" font-style="italic" font-size="29.0">π</text>
<text transform="translate(376.4 486.4) rotate(-90)" font-size="29.0">Arg(<tspan font-style="italic">r</tspan>)</text><path d="M376.2 410.4L376.2 412.8L355.5 404.2L355.5 401.8Z"/><text transform="translate(376.4 401.1) rotate(-90) scale(1.03 0.88)" font-family="Liberation Serif" font-style="italic" font-size="29.0">π</text>
<circle cx="225.2" cy="174.5" r="2.4" fill="#00f"/><path d="M203.39999999999998 204.7h43.6" stroke="#f00" stroke-width="3"/><text x="249.9" y="183.9" font-size="23.4">Raw</text><text x="249.9" y="213.6" font-size="23.4">Fit</text>
<circle cx="575.1" cy="177.5" r="2.4" fill="#00f"/><path d="M553.3000000000001 207.0h43.6" stroke="#f00" stroke-width="3"/><text x="599.8" y="186.3" font-size="23.4">Raw</text><text x="599.8" y="215.7" font-size="23.4">Fit</text>
<circle cx="223.0" cy="474.7" r="2.4" fill="#00f"/><path d="M201.2 504.3h43.6" stroke="#f00" stroke-width="3"/><text x="247.70000000000002" y="483.6" font-size="23.4">Comp</text><text x="247.70000000000002" y="512.5" font-size="23.4">Fit</text>
<circle cx="563.4" cy="478.4" r="2.4" fill="#00f"/><path d="M541.6 508.4h43.6" stroke="#f00" stroke-width="3"/><text x="588.0999999999999" y="486.8" font-size="23.4">Comp</text><text x="588.0999999999999" y="516.9" font-size="23.4">Fit</text>
<text x="7.3" y="26.7" font-family="Liberation Serif" font-size="34">(a)</text>
<text x="340.6" y="24.0" font-family="Liberation Serif" font-size="34">(b)</text>
<text x="7.5" y="334.0" font-family="Liberation Serif" font-size="34">(c)</text>
<text x="340.6" y="332.5" font-family="Liberation Serif" font-size="34">(d)</text>
</svg></body></html>
